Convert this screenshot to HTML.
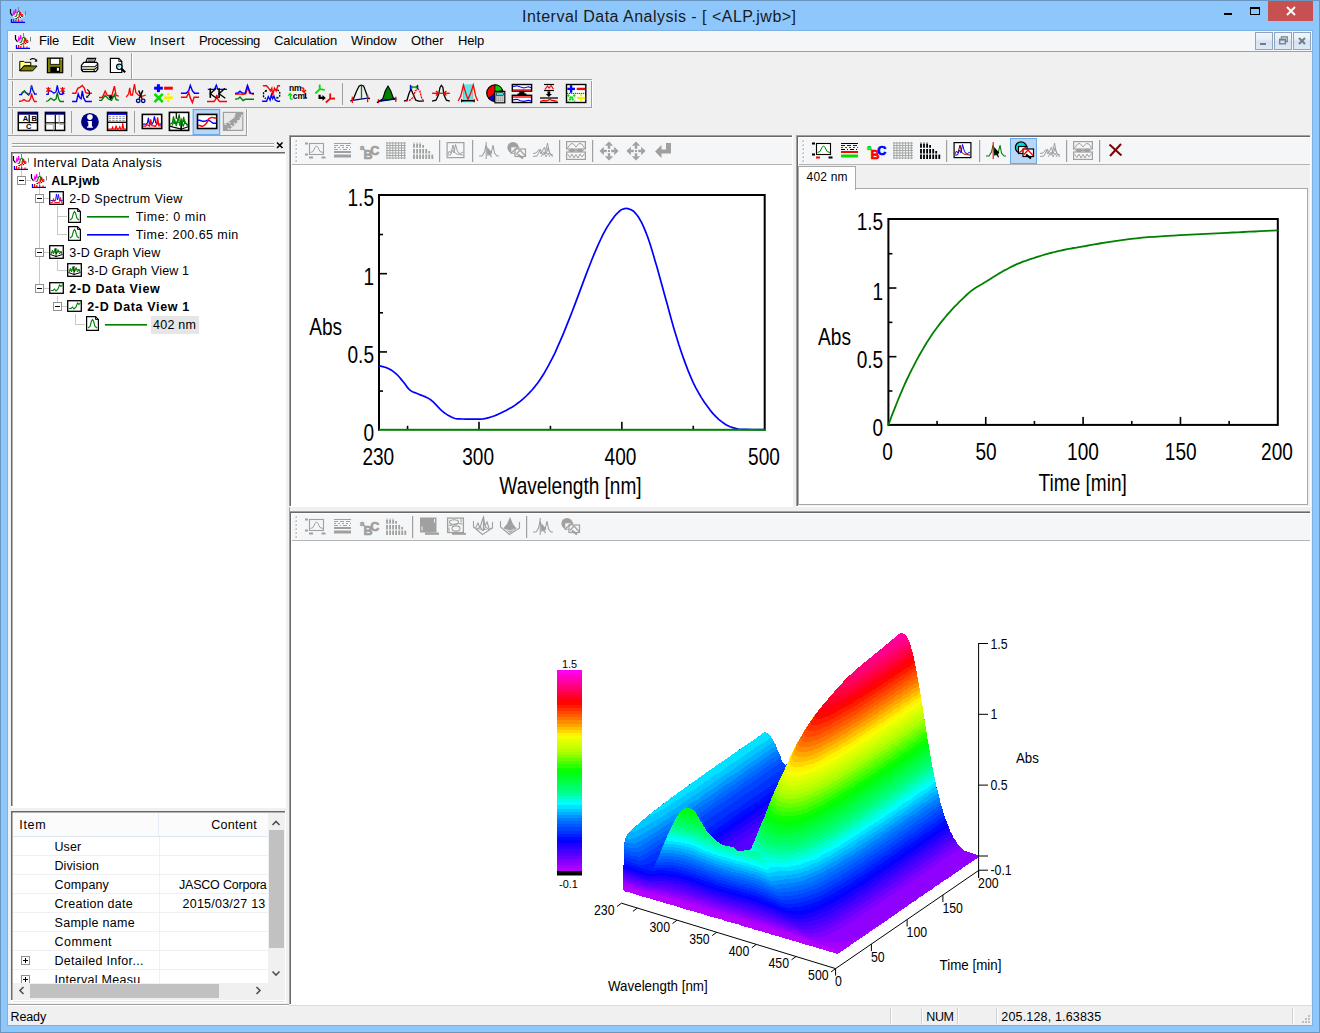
<!DOCTYPE html><html><head><meta charset="utf-8"><title>Interval Data Analysis</title><style>
*{box-sizing:border-box;margin:0;padding:0}
html,body{width:1320px;height:1033px;overflow:hidden;background:#8ec7fb;}
body{font-family:"Liberation Sans",sans-serif;font-size:12px;color:#000;position:relative}
.a{position:absolute}
.t{position:absolute;white-space:nowrap;line-height:1}
svg{position:absolute;overflow:visible}
</style></head><body>
<div class="a" style="left:0px;top:0px;width:1320px;height:1033px;background:#8ec7fb;border:1px solid #6b96bf;"></div>
<div class="a" style="left:7px;top:30px;width:1306px;height:996px;background:#7db2e3;"></div>
<div class="a" style="left:8px;top:31px;width:1304px;height:994px;background:#f0f0f0;"></div>
<div class="t" style="left:522px;top:8.5px;font-size:16px;letter-spacing:0.481px;color:#1a1a1a;">Interval Data Analysis - [ &lt;ALP.jwb&gt;]</div>
<div class="a" style="left:1268px;top:1px;width:45px;height:20px;background:#c75050;"></div>
<svg style="left:1286px;top:6px" width="10" height="10" viewBox="0 0 10 10" ><path d="M1 1 L9 9 M9 1 L1 9" stroke="#fff" stroke-width="1.9" fill="none"/></svg>
<svg style="left:1250px;top:7px" width="10" height="8" viewBox="0 0 10 8" ><rect x="0.5" y="1" width="9" height="6.5" fill="none" stroke="#000" stroke-width="1"/><rect x="0" y="0" width="10" height="2" fill="#000"/></svg>
<div class="a" style="left:1224px;top:13px;width:8px;height:2px;background:#000;"></div>
<div class="a" style="left:8px;top:31px;width:1304px;height:20px;background:#f5f6f7;"></div>
<div class="a" style="left:8px;top:51px;width:1304px;height:1px;background:#a0a0a0;"></div>
<div class="t" style="left:39px;top:34px;font-size:13px;letter-spacing:-0.237px;color:#000;">File</div>
<div class="t" style="left:72px;top:34px;font-size:13px;letter-spacing:-0.100px;color:#000;">Edit</div>
<div class="t" style="left:108px;top:34px;font-size:13px;letter-spacing:-0.110px;color:#000;">View</div>
<div class="t" style="left:150px;top:34px;font-size:13px;letter-spacing:0.415px;color:#000;">Insert</div>
<div class="t" style="left:199px;top:34px;font-size:13px;letter-spacing:-0.331px;color:#000;">Processing</div>
<div class="t" style="left:274px;top:34px;font-size:13px;letter-spacing:-0.119px;color:#000;">Calculation</div>
<div class="t" style="left:351px;top:34px;font-size:13px;letter-spacing:-0.123px;color:#000;">Window</div>
<div class="t" style="left:411px;top:34px;font-size:13px;letter-spacing:-0.002px;color:#000;">Other</div>
<div class="t" style="left:458px;top:34px;font-size:13px;letter-spacing:-0.184px;color:#000;">Help</div>
<div class="a" style="left:1255px;top:32px;width:18px;height:18px;border:1px solid #8fa3ba;background:linear-gradient(#f2f6fb 0%,#e3ecf6 45%,#d5e2f1 50%,#dfe9f5 100%);"></div>
<div class="a" style="left:1274px;top:32px;width:18px;height:18px;border:1px solid #8fa3ba;background:linear-gradient(#f2f6fb 0%,#e3ecf6 45%,#d5e2f1 50%,#dfe9f5 100%);"></div>
<div class="a" style="left:1293px;top:32px;width:18px;height:18px;border:1px solid #8fa3ba;background:linear-gradient(#f2f6fb 0%,#e3ecf6 45%,#d5e2f1 50%,#dfe9f5 100%);"></div>
<div class="a" style="left:1260px;top:43px;width:6px;height:2px;background:#6f7d8c;"></div>
<svg style="left:1279px;top:36px" width="9" height="9" viewBox="0 0 9 9" ><path d="M2.5 2.5 V0.8 H8.2 V5.5 H6.5" fill="none" stroke="#6f7d8c" stroke-width="1.3"/><rect x="0.7" y="3.2" width="5.6" height="4.6" fill="none" stroke="#6f7d8c" stroke-width="1.3"/><rect x="0.7" y="3" width="5.6" height="1.6" fill="#6f7d8c"/></svg>
<svg style="left:1298px;top:37px" width="8" height="8" viewBox="0 0 8 8" ><path d="M1 1 L7 7 M7 1 L1 7" stroke="#6f7d8c" stroke-width="2" fill="none"/></svg>
<svg style="left:0px;top:0px" width="1320" height="1033" viewBox="0 0 1320 1033" ><rect x="8" y="79" width="584" height="1" fill="#a0a0a0"/><rect x="8" y="107" width="584" height="1" fill="#a0a0a0"/><rect x="8" y="135" width="239" height="1" fill="#a0a0a0"/><rect x="12" y="53" width="1" height="25" fill="#a0a0a0"/><rect x="13" y="53" width="1" height="25" fill="#fff"/><rect x="131" y="53" width="1" height="26" fill="#a0a0a0"/><rect x="132" y="53" width="1" height="26" fill="#fff"/><rect x="12" y="81" width="1" height="25" fill="#a0a0a0"/><rect x="13" y="81" width="1" height="25" fill="#fff"/><rect x="591" y="81" width="1" height="26" fill="#a0a0a0"/><rect x="592" y="81" width="1" height="26" fill="#fff"/><rect x="12" y="109" width="1" height="25" fill="#a0a0a0"/><rect x="13" y="109" width="1" height="25" fill="#fff"/><rect x="246" y="109" width="1" height="26" fill="#a0a0a0"/><rect x="247" y="109" width="1" height="26" fill="#fff"/><polygon points="19.8,61.4 23.8,61.4 24.7,62.3 30.8,62.3 30.8,65.8 23.8,65.8 19.8,70.7" fill="#ffff80" stroke="#000" stroke-width="1" /><polygon points="19.8,70.9 24.0,66.0 37.1,66.0 32.6,70.9" fill="#808000" stroke="#000" stroke-width="1" /><polyline points="29.9,59.7 32.1,58.5 34.6,58.7 36.4,60.7" fill="none" stroke="#000" stroke-width="1.1" /><polygon points="37.1,58.9 37.1,61.7 34.4,61.4" fill="#000" /><rect x="47.4" y="58.1" width="15.3" height="14.6" fill="#808000" stroke="#000" stroke-width="1.2" /><rect x="50.3" y="58.5" width="9.4" height="5.8" fill="#fff" stroke="#000" stroke-width="0.8" /><rect x="50.3" y="66.8" width="9.7" height="5.4" fill="#000" /><rect x="56.9" y="67.8" width="2.0" height="3.0" fill="#fff" /><rect x="60.7" y="58.9" width="1.0" height="1.0" fill="#fff" /><rect x="71" y="55" width="1" height="22" fill="#a0a0a0"/><polygon points="85.8,62.3 87.3,58.4 95.7,58.4 94.2,62.3" fill="#fff" stroke="#000" stroke-width="1.1" /><polyline points="88.0,59.9 94.2,59.9" fill="none" stroke="#000" stroke-width="0.8" /><polyline points="87.4,61.2 93.5,61.2" fill="none" stroke="#000" stroke-width="0.8" /><polygon points="81.4,65.3 83.8,62.3 96.6,62.3 97.8,63.8 97.8,69.2 95.7,71.7 82.8,71.7 81.4,69.7" fill="#fff" stroke="#000" stroke-width="1.2" /><polyline points="81.7,66.8 94.7,66.8 97.6,64.3" fill="none" stroke="#000" stroke-width="1.1" /><polyline points="81.7,69.2 94.7,69.2 97.6,66.8" fill="none" stroke="#000" stroke-width="1.1" /><polyline points="88.8,68.1 92.2,68.1" fill="none" stroke="#e0e000" stroke-width="1.4" /><rect x="82.1" y="69.7" width="12.6" height="1.8" fill="#000" /><rect x="83.0" y="70.0" width="10.6" height="0.9" fill="#fff" /><polygon points="110.4,58.4 118.8,58.4 121.8,61.4 121.8,72.5 110.4,72.5" fill="#fff" stroke="#000" stroke-width="1.2" /><polyline points="118.8,58.4 118.8,61.4 121.8,61.4" fill="none" stroke="#000" stroke-width="0.9" /><circle cx="119.3" cy="66.8" r="2.7" fill="#dff" stroke="#000" stroke-width="1.2"/><circle cx="118.8" cy="66.3" r="1.0" fill="#00e0e0"/><polyline points="121.5,68.9 125.2,72.2" fill="none" stroke="#000" stroke-width="2.2" /><polyline points="19.0,94.6 21.5,94.6 22.3,92.9 24.4,91.2 26.5,93.3 28.6,95.0 30.2,92.5 31.5,85.4 32.8,90.0 34.8,94.2 36.9,93.8" fill="none" stroke="#0000ff" stroke-width="1.3" /><polyline points="21.1,93.8 22.3,92.5 24.4,90.8 25.7,92.5" fill="none" stroke="#008000" stroke-width="1.3" /><polyline points="26.5,92.5 27.8,93.8 29.0,94.2" fill="none" stroke="#008000" stroke-width="1.3" /><polyline points="31.5,85.4 31.5,88.3" fill="none" stroke="#008000" stroke-width="1.3" /><polyline points="32.8,90.0 34.0,92.5" fill="none" stroke="#008000" stroke-width="1.3" /><polyline points="19.0,101.5 21.9,100.8 24.0,99.6 26.5,101.2 29.0,101.2 30.7,98.3 31.5,93.3 32.8,98.3 34.4,101.5 36.9,101.5" fill="none" stroke="#ff0000" stroke-width="1.3" /><polyline points="46.1,94.3 48.2,94.3 48.6,90.8 50.7,90.8 54.0,93.3 56.1,91.7 57.3,85.4 58.6,91.7 60.2,94.3 62.3,94.3 62.8,90.8 64.0,94.3" fill="none" stroke="#0000ff" stroke-width="1.3" /><polyline points="46.1,101.5 48.2,100.8 50.7,98.3 54.0,100.4 56.1,98.8 57.3,92.5 58.6,98.8 60.2,101.5 64.0,101.5" fill="none" stroke="#008000" stroke-width="1.3" /><polyline points="48.4,87.1 48.4,92.5" fill="none" stroke="#ff0000" stroke-width="1.2" /><polyline points="46.3,87.9 50.5,91.7" fill="none" stroke="#ff0000" stroke-width="1.2" /><polyline points="50.5,87.9 46.3,91.7" fill="none" stroke="#ff0000" stroke-width="1.2" /><polyline points="62.6,87.1 62.6,92.5" fill="none" stroke="#ff0000" stroke-width="1.2" /><polyline points="60.5,87.9 64.7,91.7" fill="none" stroke="#ff0000" stroke-width="1.2" /><polyline points="64.7,87.9 60.5,91.7" fill="none" stroke="#ff0000" stroke-width="1.2" /><polyline points="72.1,93.3 75.7,93.3 77.8,88.3 80.2,87.1 82.3,85.4 84.4,88.3 85.7,92.5 87.3,93.3 91.9,93.3" fill="none" stroke="#ff0000" stroke-width="1.4" /><polyline points="72.1,101.5 76.5,101.5 78.2,93.8 79.8,97.9 81.1,98.8 82.3,90.8 83.6,97.9 85.7,101.5 91.9,101.5" fill="none" stroke="#0000ff" stroke-width="1.4" /><polyline points="87.2,89.3 89.4,91.7 89.4,94.6 87.3,96.7" fill="none" stroke="#000" stroke-width="1.1" /><polygon points="86.1,97.9 86.5,95.4 88.8,97.3" fill="#000" /><polyline points="99.0,97.5 102.3,97.5 105.2,91.2 107.3,95.4 111.9,95.4 114.4,86.2 116.1,95.4 118.8,96.2" fill="none" stroke="#ff0000" stroke-width="1.4" /><polyline points="99.0,100.4 101.5,100.4 105.2,95.4 108.2,98.8 111.5,100.4 114.4,94.6 116.1,99.6 118.8,100.4" fill="none" stroke="#008000" stroke-width="1.4" /><polygon points="108.2,96.2 113.2,96.2 110.7,100.0" fill="#000" /><polyline points="110.7,95.4 110.7,97.1" fill="none" stroke="#000" stroke-width="1.6" /><polyline points="126.2,97.1 128.7,93.8 129.7,87.9 130.8,95.0 132.4,95.0 134.5,84.2 135.8,92.5 138.7,95.4 142.8,96.2 145.8,95.0" fill="none" stroke="#ff0000" stroke-width="1.3" /><polyline points="138.7,90.4 142.0,98.8" fill="none" stroke="#000" stroke-width="1.5" /><polyline points="142.8,90.4 139.1,98.8" fill="none" stroke="#000" stroke-width="1.5" /><ellipse cx="138.2" cy="100.8" rx="1.8" ry="1.7" fill="none" stroke="#000080" stroke-width="1.3"/><ellipse cx="143.2" cy="100.8" rx="1.8" ry="1.7" fill="none" stroke="#000080" stroke-width="1.3"/><polyline points="154.1,88.2 162.8,88.2" fill="none" stroke="#0000ff" stroke-width="3" /><polyline points="158.4,84.2 158.4,92.1" fill="none" stroke="#0000ff" stroke-width="3" /><polyline points="164.1,88.2 172.8,88.2" fill="none" stroke="#ff0000" stroke-width="3" /><polyline points="154.5,93.8 162.8,102.1" fill="none" stroke="#00e000" stroke-width="2.6" /><polyline points="162.8,93.8 154.5,102.1" fill="none" stroke="#00e000" stroke-width="2.6" /><polyline points="164.1,97.7 172.8,97.7" fill="none" stroke="#f0f000" stroke-width="2.6" /><circle cx="168.4" cy="94.3" r="1.2" fill="#f0f000"/><circle cx="168.4" cy="100.8" r="1.2" fill="#f0f000"/><polyline points="180.9,93.3 186.2,93.3 188.7,90.8 190.3,85.4 192.4,90.8 194.5,93.3 199.1,93.3" fill="none" stroke="#0000ff" stroke-width="1.4" /><polyline points="180.9,97.3 186.6,97.3 188.7,92.5 190.3,97.9 192.4,102.5 194.1,97.3 199.1,97.3" fill="none" stroke="#ff0000" stroke-width="1.4" /><polyline points="207.8,89.3 214.5,89.3 216.3,85.0 217.8,89.3 227.0,89.3" fill="none" stroke="#0000ff" stroke-width="1.3" /><polyline points="207.0,101.5 214.1,101.5 215.8,99.2 216.8,95.0 217.8,99.2 219.5,101.5 227.0,101.5" fill="none" stroke="#ff0000" stroke-width="1.4" /><polyline points="210.3,88.3 210.3,97.9" fill="none" stroke="#000" stroke-width="1.6" /><polyline points="216.2,88.3 210.3,93.8 216.6,98.3" fill="none" stroke="#000" stroke-width="1.4" /><polyline points="219.1,88.3 219.1,97.9" fill="none" stroke="#000" stroke-width="1.6" /><polyline points="224.9,88.3 219.1,93.8 225.3,98.3" fill="none" stroke="#000" stroke-width="1.4" /><polyline points="235.2,94.4 239.6,93.9 242.2,94.4 245.7,93.9 247.9,87.0 249.6,93.1 254.0,94.4" fill="none" stroke="#ff0000" stroke-width="1.4" /><polyline points="235.2,93.2 237.8,93.1 240.0,91.2 242.2,93.1 245.2,93.1 247.4,85.4 248.7,88.7 250.5,93.1 254.0,93.5" fill="none" stroke="#0000ff" stroke-width="1.4" /><polyline points="235.2,99.3 238.3,98.7 240.0,97.0 243.1,100.5 245.2,99.3 254.0,99.3" fill="none" stroke="#008000" stroke-width="1.4" /><polyline points="262.9,85.7 266.6,85.7 268.8,88.3 270.5,90.9 271.8,88.3 272.7,95.2 274.4,88.3 276.2,90.9 277.9,85.7 280.1,85.7" fill="none" stroke="#ff0000" stroke-width="1.4" /><polyline points="262.1,101.3 266.6,101.3 268.3,96.6 270.1,100.0 271.4,94.8 272.7,98.7 274.0,96.1 275.3,100.0 277.5,101.3 280.1,101.3" fill="none" stroke="#0000ff" stroke-width="1.4" /><polyline points="266.2,90.5 263.5,93.1 263.5,96.6 265.7,98.7" fill="none" stroke="#000" stroke-width="1.3" stroke-dasharray="2 1"/><polygon points="264.8,90.3 267.0,89.8 266.6,92.0" fill="#000" /><polyline points="277.5,89.6 279.8,92.6 279.7,96.1 277.5,97.9" fill="none" stroke="#000" stroke-width="1.3" stroke-dasharray="2 1"/><polygon points="276.2,98.7 276.6,96.6 278.6,98.3" fill="#000" /><text x="288.9" y="90.5" font-size="8.5" fill="#000" font-weight="bold" font-family="Liberation Sans" >nm</text><text x="292.7" y="99.2" font-size="8.5" fill="#000" font-weight="bold" font-family="Liberation Sans" >cm</text><polyline points="305.6,93.1 305.6,97.9" fill="none" stroke="#000" stroke-width="1.2" /><polyline points="304.5,94.4 305.6,93.1" fill="none" stroke="#000" stroke-width="1.2" /><polyline points="304.5,98.0 307.1,98.0" fill="none" stroke="#000" stroke-width="1.2" /><polyline points="301.0,87.7 303.6,88.3 304.1,91.8" fill="none" stroke="#ff0000" stroke-width="1.3" /><polyline points="301.9,90.3 304.1,92.4 305.8,90.0" fill="none" stroke="#ff0000" stroke-width="1.3" /><polyline points="292.7,99.3 290.5,98.7 290.1,93.9" fill="none" stroke="#00e000" stroke-width="1.3" /><polyline points="288.2,95.7 290.1,93.5 292.0,95.7" fill="none" stroke="#00e000" stroke-width="1.3" /><polyline points="319.7,84.4 319.7,89.1 315.4,93.5" fill="none" stroke="#00e000" stroke-width="1.8" /><polyline points="319.7,89.1 324.8,89.8" fill="none" stroke="#00e000" stroke-width="1.8" /><polyline points="330.2,93.5 330.2,98.7 325.8,102.5" fill="none" stroke="#ff0000" stroke-width="1.8" /><polyline points="330.2,98.7 335.0,98.5" fill="none" stroke="#ff0000" stroke-width="1.8" /><polyline points="319.6,94.8 319.6,97.9 323.7,97.9" fill="none" stroke="#000" stroke-width="2.2" /><polygon points="322.5,95.0 325.8,97.9 322.5,100.7" fill="#000" /><rect x="342" y="83" width="1" height="22" fill="#a0a0a0"/><polyline points="350.3,101.2 353.3,99.2 356.7,90.8 359.2,85.9 361.2,85.1 363.6,85.9 366.1,92.8 368.1,98.2 370.0,98.5" fill="none" stroke="#000" stroke-width="1.3" /><polyline points="361.5,85.4 361.5,98.7" fill="none" stroke="#008000" stroke-width="1.3" /><polyline points="352.3,100.4 367.6,98.2" fill="none" stroke="#000080" stroke-width="1.3" /><polyline points="352.3,96.7 352.3,103.1" fill="none" stroke="#ff0000" stroke-width="1.3" /><polyline points="367.6,94.8 367.6,102.2" fill="none" stroke="#ff0000" stroke-width="1.3" /><polygon points="379.4,100.9 382.8,98.7 385.3,90.8 388.0,86.1 390.7,90.8 393.2,97.7 395.6,98.9" fill="#008000" stroke="#000" stroke-width="1.1" /><polyline points="378.9,101.2 395.6,98.9" fill="none" stroke="#000080" stroke-width="1.4" /><polyline points="378.4,99.2 378.4,103.1" fill="none" stroke="#ff0000" stroke-width="1.3" /><polyline points="395.8,96.7 395.8,101.9" fill="none" stroke="#ff0000" stroke-width="1.3" /><polyline points="376.9,102.7 378.9,101.2" fill="none" stroke="#000" stroke-width="1.2" /><polyline points="404.0,101.2 407.0,100.2 408.9,93.8 410.9,88.9 413.4,94.8 415.8,100.2 418.8,101.2 423.7,101.2" fill="none" stroke="#000" stroke-width="1.3" /><polyline points="406.0,101.2 409.9,100.2 413.4,97.2 415.3,90.8 417.8,88.9 419.8,90.8 421.7,98.2 423.7,100.9" fill="none" stroke="#ff0000" stroke-width="1.3" stroke-dasharray="2.2 0.8"/><polyline points="410.5,84.9 410.5,89.1" fill="none" stroke="#0000ff" stroke-width="1.4" /><polyline points="417.6,84.9 417.6,89.1" fill="none" stroke="#0000ff" stroke-width="1.4" /><polyline points="411.1,87.1 417.0,87.1" fill="none" stroke="#008000" stroke-width="1.3" /><polyline points="412.4,85.9 411.1,87.1 412.4,88.3" fill="none" stroke="#008000" stroke-width="1.1" /><polyline points="415.8,85.9 417.0,87.1 415.8,88.3" fill="none" stroke="#008000" stroke-width="1.1" /><polyline points="432.1,101.2 436.0,100.2 438.5,94.8 440.0,87.4 441.4,85.4 442.9,87.4 443.9,94.8 446.4,100.2 449.8,101.2" fill="none" stroke="#000" stroke-width="1.3" /><polyline points="439.0,93.3 443.4,93.3" fill="none" stroke="#008000" stroke-width="1.3" /><polyline points="432.1,93.3 438.5,93.3" fill="none" stroke="#ff0000" stroke-width="1.4" /><polyline points="436.0,91.0 438.5,93.3 436.0,95.6" fill="none" stroke="#ff0000" stroke-width="1.4" /><polyline points="443.9,93.3 449.8,93.3" fill="none" stroke="#ff0000" stroke-width="1.4" /><polyline points="446.4,91.0 443.9,93.3 446.4,95.6" fill="none" stroke="#ff0000" stroke-width="1.4" /><rect x="463.4" y="84.3" width="9.3" height="18.2" fill="#60e8e8" /><polyline points="463.4,84.5 463.4,102.2" fill="none" stroke="#b0b0b0" stroke-width="1.2" /><polyline points="472.7,84.5 472.7,102.2" fill="none" stroke="#b0b0b0" stroke-width="1.2" /><polyline points="458.2,101.0 460.8,95.9 463.4,85.1 465.9,93.6 468.0,99.3 470.5,93.6 473.3,85.1 475.6,95.9 477.8,101.0" fill="none" stroke="#ff0000" stroke-width="1.3" /><polyline points="461.4,100.7 474.4,100.7" fill="none" stroke="#000" stroke-width="1.4" /><polygon points="461.1,98.8 461.1,102.7 463.4,100.7" fill="#000" /><polygon points="474.7,98.8 474.7,102.7 472.5,100.7" fill="#000" /><circle cx="494.9" cy="93.1" r="8.2" fill="#ff0000" stroke="#000" stroke-width="1.2"/><path d="M494.9 93.1 L494.9 84.9 A8.2 8.2 0 0 1 502.5 90.2 Z" fill="#00d000" stroke="#000" stroke-width="0.8"/><path d="M494.9 93.1 L488.6 98.2 A8.2 8.2 0 0 0 495.5 101.2 Z" fill="#0000d0" stroke="#000" stroke-width="0.8"/><rect x="494.9" y="91.4" width="9.9" height="11.4" fill="#fff" stroke="#000" stroke-width="1.2" /><rect x="496.4" y="92.7" width="7.0" height="2.6" fill="#40e0e0" stroke="#000" stroke-width="0.6" /><polyline points="496.4,97.0 503.6,97.0" fill="none" stroke="#000" stroke-width="1" stroke-dasharray="1 1"/><polyline points="496.4,99.0 503.6,99.0" fill="none" stroke="#000" stroke-width="1" stroke-dasharray="1 1"/><polyline points="496.4,100.9 503.6,100.9" fill="none" stroke="#000" stroke-width="1" stroke-dasharray="1 1"/><rect x="512.3" y="84.5" width="19.3" height="6.6" fill="#fff" stroke="#000" stroke-width="1.4" /><rect x="512.3" y="95.3" width="19.3" height="7.2" fill="#fff" stroke="#000" stroke-width="1.4" /><rect x="519.3" y="91.1" width="5.1" height="4.2" fill="#000" /><rect x="517.6" y="93.4" width="8.8" height="1.9" fill="#000" /><polyline points="512.8,86.6 517.0,85.7 520.5,87.0 523.9,88.0 528.4,86.8 531.2,87.7" fill="none" stroke="#0000ff" stroke-width="1.1" /><polyline points="512.8,90.0 531.2,90.0" fill="none" stroke="#ff0000" stroke-width="1.4" /><polyline points="512.8,97.0 531.2,97.0" fill="none" stroke="#ff0000" stroke-width="1.4" /><polyline points="512.8,99.9 517.0,99.3 520.5,100.7 523.9,101.4 528.4,100.2 531.2,101.0" fill="none" stroke="#0000ff" stroke-width="1.1" /><polyline points="544.1,84.5 554.0,84.5" fill="none" stroke="#000" stroke-width="1.2" /><polyline points="544.1,90.5 554.0,90.5" fill="none" stroke="#000" stroke-width="1.2" /><polyline points="544.9,89.3 547.5,86.2 549.1,88.2 551.1,85.5 553.4,89.1" fill="none" stroke="#ff0000" stroke-width="1.1" /><rect x="547.5" y="91.4" width="2.7" height="2.8" fill="#000" /><polygon points="545.7,93.9 552.0,93.9 548.9,97.0" fill="#000" /><polyline points="540.0,98.0 558.0,98.0" fill="none" stroke="#000" stroke-width="1.3" /><polyline points="540.0,102.5 558.0,102.5" fill="none" stroke="#000" stroke-width="1.3" /><polyline points="540.3,101.4 543.8,100.5 546.6,101.0 549.4,99.5 552.8,100.5 557.4,101.4" fill="none" stroke="#ff0000" stroke-width="1.3" /><rect x="566.5" y="84.5" width="19.3" height="18.0" fill="#fff" stroke="#000" stroke-width="1.4" /><polyline points="566.8,93.4 585.5,93.4" fill="none" stroke="#000" stroke-width="1" stroke-dasharray="1 1"/><polyline points="567.3,88.9 575.0,88.9" fill="none" stroke="#0000ff" stroke-width="2.4" /><polyline points="571.1,85.1 571.1,92.7" fill="none" stroke="#0000ff" stroke-width="2.4" /><polyline points="576.7,88.9 585.2,88.9" fill="none" stroke="#ff0000" stroke-width="2.4" /><polyline points="567.6,94.8 575.0,101.6" fill="none" stroke="#00e000" stroke-width="2" stroke-dasharray="2 1"/><polyline points="575.0,94.8 567.6,101.6" fill="none" stroke="#00e000" stroke-width="2" stroke-dasharray="2 1"/><polyline points="577.0,98.0 585.2,98.0" fill="none" stroke="#f0f000" stroke-width="2.4" /><polyline points="580.9,94.2 580.9,101.6" fill="none" stroke="#f0f000" stroke-width="2" stroke-dasharray="2 3"/><rect x="18.3" y="112.4" width="19.2" height="18.0" fill="#fff" stroke="#000" stroke-width="1.5" /><rect x="18.3" y="112.4" width="19.2" height="2.3" fill="#000080" /><polyline points="18.3,122.6 37.5,122.6" fill="none" stroke="#000" stroke-width="1.3" /><polyline points="29.2,114.7 29.2,122.6" fill="none" stroke="#000" stroke-width="1.3" /><text x="22.8" y="120.8" font-size="7.5" fill="#000" font-weight="bold" font-family="Liberation Sans" >A</text><text x="31.6" y="120.8" font-size="7.5" fill="#000" font-weight="bold" font-family="Liberation Sans" >B</text><text x="25.9" y="128.7" font-size="7.5" fill="#000" font-weight="bold" font-family="Liberation Sans" >C</text><rect x="45.4" y="112.4" width="19.2" height="18.0" fill="#fff" stroke="#000" stroke-width="1.5" /><rect x="45.4" y="112.4" width="19.2" height="2.3" fill="#000080" /><polyline points="45.4,122.8 64.6,122.8" fill="none" stroke="#000" stroke-width="1.2" /><polyline points="55.3,114.7 55.3,130.5" fill="none" stroke="#000" stroke-width="1.2" /><polyline points="59.2,114.7 59.2,124.2 64.6,124.2" fill="none" stroke="#a0a0a0" stroke-width="1" /><polyline points="45.4,124.2 53.3,124.2 53.3,130.5" fill="none" stroke="#a0a0a0" stroke-width="1" /><rect x="71" y="111" width="1" height="22" fill="#a0a0a0"/><circle cx="89.9" cy="121.8" r="8.9" fill="#000080"/><circle cx="89.9" cy="117.1" r="2.8" fill="#fff"/><polygon points="87.6,121.0 91.9,121.0 91.9,126.5 92.9,126.5 92.9,127.7 87.0,127.7 87.0,126.5 88.3,126.5 88.3,122.3 87.6,122.3" fill="#fff" /><rect x="107.5" y="112.4" width="19.2" height="18.0" fill="#fff" stroke="#000" stroke-width="1.5" /><rect x="107.9" y="112.8" width="18.4" height="2.1" fill="#0000ff" /><polyline points="108.9,116.7 125.2,116.7" fill="none" stroke="#909090" stroke-width="1" stroke-dasharray="2.2 1.2"/><polyline points="108.9,118.5 125.2,118.5" fill="none" stroke="#909090" stroke-width="1" stroke-dasharray="2.2 1.2"/><polyline points="108.9,120.4 125.2,120.4" fill="none" stroke="#909090" stroke-width="1" stroke-dasharray="2.2 1.2"/><polyline points="107.5,122.3 126.7,122.3" fill="none" stroke="#000" stroke-width="1.3" /><polyline points="108.0,129.2 111.9,129.2 112.6,127.2 113.4,129.2 115.3,129.2 116.1,125.7 117.1,129.2 118.8,128.7 119.8,126.7 120.8,129.2 122.0,129.2 122.7,123.3 123.7,129.2 126.2,129.2" fill="none" stroke="#ff0000" stroke-width="1.2" /><rect x="134" y="111" width="1" height="22" fill="#a0a0a0"/><rect x="142.3" y="114.4" width="19.4" height="14.1" fill="#fff" stroke="#000" stroke-width="1.6" /><polyline points="142.8,124.2 146.2,124.2 147.5,122.8 148.4,117.8 149.4,123.8 152.2,123.8 153.4,121.8 154.4,116.4 155.8,122.8 158.6,124.2 161.3,124.2" fill="none" stroke="#0000ff" stroke-width="1.2" /><polyline points="142.8,126.2 145.8,126.2 146.7,124.7 148.2,125.2 149.7,126.2 150.7,119.3 151.9,125.7 155.6,126.2 156.8,123.8 157.6,117.4 158.8,125.7 161.3,126.2" fill="none" stroke="#ff0000" stroke-width="1.3" /><rect x="169.4" y="112.4" width="19.3" height="18.0" fill="#fff" stroke="#000" stroke-width="1.6" /><polyline points="176.3,112.4 176.3,118.8" fill="none" stroke="#000" stroke-width="1.2" /><polyline points="181.2,120.8 181.2,130.5" fill="none" stroke="#000" stroke-width="1.6" /><polyline points="169.9,126.2 173.3,127.2 181.2,129.2 188.1,126.7" fill="none" stroke="#000" stroke-width="1.2" /><polyline points="169.9,124.2 172.3,122.8 173.5,116.4 174.5,122.8 176.3,124.7 177.8,119.8 179.2,114.4 180.4,121.8 182.2,124.7 183.7,116.9 184.7,122.8 188.1,124.7" fill="none" stroke="#008000" stroke-width="1.2" /><polyline points="171.9,125.7 174.8,119.8 176.3,126.2 178.3,117.4 179.7,125.7 181.7,119.3 183.2,126.2 185.2,121.8 187.6,126.2" fill="none" stroke="#008000" stroke-width="1.1" /><polyline points="173.3,123.8 177.3,121.8 181.2,123.8 185.2,119.8" fill="none" stroke="#008000" stroke-width="1" /><rect x="193.2" y="109.5" width="26.4" height="25.1" fill="#b9d6f7" stroke="#6aa8ea" stroke-width="1.2" /><rect x="197.5" y="114.4" width="19.2" height="14.1" fill="#fff" stroke="#000" stroke-width="1.6" /><polyline points="198.0,120.3 199.9,120.3 202.4,121.3 204.8,121.3 207.3,120.3 209.8,120.8 213.2,123.3 216.5,123.3" fill="none" stroke="#0000ff" stroke-width="1.4" /><polyline points="198.0,125.5 199.9,125.5 201.9,126.5 204.4,125.5 206.8,122.8 208.8,118.8 211.2,117.4 213.7,117.8 216.5,118.3" fill="none" stroke="#ff0000" stroke-width="1.4" /><rect x="223.4" y="112.4" width="19.4" height="18.0" fill="#e8e8e8" stroke="#a0a0a0" stroke-width="1.2" /><polygon points="223.4,130.5 223.4,123.8 227.5,122.8 231.4,119.8 234.4,117.4 235.9,112.4 242.8,112.4 242.8,114.9 240.3,118.8 235.9,123.8 232.4,126.7 228.5,130.5" fill="#a0a0a0" /><rect x="227.7" y="127.9" width="1.6" height="1.6" fill="#e8e8e8" /><rect x="230.7" y="125.1" width="1.6" height="1.6" fill="#e8e8e8" /><rect x="233.8" y="122.8" width="1.6" height="1.6" fill="#e8e8e8" /><rect x="237.1" y="120.0" width="1.6" height="1.6" fill="#e8e8e8" /><rect x="239.7" y="117.1" width="1.6" height="1.6" fill="#e8e8e8" /><rect x="241.0" y="114.9" width="1.6" height="1.6" fill="#e8e8e8" /><rect x="224.7" y="123.5" width="1.6" height="1.6" fill="#e8e8e8" /><rect x="228.7" y="122.0" width="1.6" height="1.6" fill="#e8e8e8" /></svg>
<svg style="left:0px;top:0px" width="1320" height="1033" viewBox="0 0 1320 1033" ><polyline points="10.5,9.0 10.5,13.0 12.5,16.0" fill="none" stroke="#000" stroke-width="1.2" /><polyline points="18.5,7.0 18.5,10.5" fill="none" stroke="#808080" stroke-width="1" /><polyline points="25.5,11.0 25.5,15.5" fill="none" stroke="#808080" stroke-width="1" /><polygon points="12.5,16.0 15.0,12.0 20.0,11.0 24.0,14.5 25.0,16.0 19.0,19.5 15.0,18.5" fill="#fff" /><polyline points="13.0,15.5 13.8,12.0 14.6,14.5 15.6,9.0 16.2,13.0" fill="none" stroke="#ff00ff" stroke-width="1.2" /><polyline points="14.5,16.5 16.5,16.0 17.5,12.0 19.0,11.0 20.0,13.5 18.5,15.5" fill="none" stroke="#008000" stroke-width="1.1" /><polyline points="17.0,18.0 19.5,16.5 20.5,12.0 21.5,16.0 23.0,14.0" fill="none" stroke="#ff0000" stroke-width="1.2" /><polyline points="15.5,18.5 18.5,19.0 22.0,16.5 24.5,15.5" fill="none" stroke="#000" stroke-width="1" stroke-dasharray="1.5 1"/><polyline points="11.5,19.0 11.5,22.3 25.0,22.3" fill="none" stroke="#0000ff" stroke-width="1.3" /><polyline points="13.6,22.0 13.6,19.0" fill="none" stroke="#ff0000" stroke-width="1.2" /><polyline points="15.8,22.0 15.8,20.0" fill="none" stroke="#ff0000" stroke-width="1.2" /><polyline points="18.7,22.0 18.7,20.0" fill="none" stroke="#ff0000" stroke-width="1.2" /><polyline points="22.0,22.0 22.0,20.4" fill="none" stroke="#ff0000" stroke-width="1.2" /><polyline points="15.5,35.0 15.5,39.0 17.5,42.0" fill="none" stroke="#000" stroke-width="1.2" /><polyline points="23.5,33.0 23.5,36.5" fill="none" stroke="#808080" stroke-width="1" /><polyline points="30.5,37.0 30.5,41.5" fill="none" stroke="#808080" stroke-width="1" /><polygon points="17.5,42.0 20.0,38.0 25.0,37.0 29.0,40.5 30.0,42.0 24.0,45.5 20.0,44.5" fill="#fff" /><polyline points="18.0,41.5 18.8,38.0 19.6,40.5 20.6,35.0 21.2,39.0" fill="none" stroke="#ff00ff" stroke-width="1.2" /><polyline points="19.5,42.5 21.5,42.0 22.5,38.0 24.0,37.0 25.0,39.5 23.5,41.5" fill="none" stroke="#008000" stroke-width="1.1" /><polyline points="22.0,44.0 24.5,42.5 25.5,38.0 26.5,42.0 28.0,40.0" fill="none" stroke="#ff0000" stroke-width="1.2" /><polyline points="20.5,44.5 23.5,45.0 27.0,42.5 29.5,41.5" fill="none" stroke="#000" stroke-width="1" stroke-dasharray="1.5 1"/><polyline points="16.5,45.0 16.5,48.3 30.0,48.3" fill="none" stroke="#0000ff" stroke-width="1.3" /><polyline points="18.6,48.0 18.6,45.0" fill="none" stroke="#ff0000" stroke-width="1.2" /><polyline points="20.8,48.0 20.8,46.0" fill="none" stroke="#ff0000" stroke-width="1.2" /><polyline points="23.7,48.0 23.7,46.0" fill="none" stroke="#ff0000" stroke-width="1.2" /><polyline points="27.0,48.0 27.0,46.4" fill="none" stroke="#ff0000" stroke-width="1.2" /><rect x="12" y="143" width="262" height="1" fill="#a0a0a0"/><rect x="12" y="144" width="262" height="1" fill="#fff"/><rect x="12" y="146" width="262" height="1" fill="#a0a0a0"/><rect x="12" y="147" width="262" height="1" fill="#fff"/><path d="M277 142.5 L282.5 148 M282.5 142.5 L277 148" stroke="#000" stroke-width="1.6" fill="none"/><rect x="11" y="152" width="275" height="656" fill="#fff"/><rect x="11" y="152" width="274" height="1.5" fill="#696969"/><rect x="11" y="152" width="1.5" height="654" fill="#696969"/><rect x="285" y="152" width="1" height="656" fill="#fff"/><rect x="289" y="136" width="1" height="868" fill="#a0a0a0"/><rect x="21" y="170" width="1" height="6" fill="#c8c8c8"/><rect x="26" y="180" width="5" height="1" fill="#c8c8c8"/><rect x="39" y="188" width="1" height="96" fill="#c8c8c8"/><rect x="44" y="198" width="5" height="1" fill="#c8c8c8"/><rect x="44" y="252" width="5" height="1" fill="#c8c8c8"/><rect x="44" y="288" width="5" height="1" fill="#c8c8c8"/><rect x="57" y="206" width="1" height="29" fill="#c8c8c8"/><rect x="57" y="216" width="10" height="1" fill="#c8c8c8"/><rect x="57" y="234" width="10" height="1" fill="#c8c8c8"/><rect x="57" y="260" width="1" height="11" fill="#c8c8c8"/><rect x="57" y="270" width="10" height="1" fill="#c8c8c8"/><rect x="57" y="296" width="1" height="6" fill="#c8c8c8"/><rect x="62" y="306" width="5" height="1" fill="#c8c8c8"/><rect x="75" y="314" width="1" height="11" fill="#c8c8c8"/><rect x="75" y="324" width="10" height="1" fill="#c8c8c8"/><polyline points="13.5,156.0 13.5,160.0 15.5,163.0" fill="none" stroke="#000" stroke-width="1.2" /><polyline points="21.5,154.0 21.5,157.5" fill="none" stroke="#808080" stroke-width="1" /><polyline points="28.5,158.0 28.5,162.5" fill="none" stroke="#808080" stroke-width="1" /><polygon points="15.5,163.0 18.0,159.0 23.0,158.0 27.0,161.5 28.0,163.0 22.0,166.5 18.0,165.5" fill="#fff" /><polyline points="16.0,162.5 16.8,159.0 17.6,161.5 18.6,156.0 19.2,160.0" fill="none" stroke="#ff00ff" stroke-width="1.2" /><polyline points="17.5,163.5 19.5,163.0 20.5,159.0 22.0,158.0 23.0,160.5 21.5,162.5" fill="none" stroke="#008000" stroke-width="1.1" /><polyline points="20.0,165.0 22.5,163.5 23.5,159.0 24.5,163.0 26.0,161.0" fill="none" stroke="#ff0000" stroke-width="1.2" /><polyline points="18.5,165.5 21.5,166.0 25.0,163.5 27.5,162.5" fill="none" stroke="#000" stroke-width="1" stroke-dasharray="1.5 1"/><polyline points="14.5,166.0 14.5,169.3 28.0,169.3" fill="none" stroke="#0000ff" stroke-width="1.3" /><polyline points="16.6,169.0 16.6,166.0" fill="none" stroke="#ff0000" stroke-width="1.2" /><polyline points="18.8,169.0 18.8,167.0" fill="none" stroke="#ff0000" stroke-width="1.2" /><polyline points="21.7,169.0 21.7,167.0" fill="none" stroke="#ff0000" stroke-width="1.2" /><polyline points="25.0,169.0 25.0,167.4" fill="none" stroke="#ff0000" stroke-width="1.2" /><rect x="17.5" y="176.5" width="8" height="8" fill="#fff" stroke="#919191"/><rect x="19" y="180" width="5" height="1" fill="#000"/><polyline points="31.5,174.0 31.5,178.0 33.5,181.0" fill="none" stroke="#000" stroke-width="1.2" /><polyline points="39.5,172.0 39.5,175.5" fill="none" stroke="#808080" stroke-width="1" /><polyline points="46.5,176.0 46.5,180.5" fill="none" stroke="#808080" stroke-width="1" /><polygon points="33.5,181.0 36.0,177.0 41.0,176.0 45.0,179.5 46.0,181.0 40.0,184.5 36.0,183.5" fill="#fff" /><polyline points="34.0,180.5 34.8,177.0 35.6,179.5 36.6,174.0 37.2,178.0" fill="none" stroke="#ff00ff" stroke-width="1.2" /><polyline points="35.5,181.5 37.5,181.0 38.5,177.0 40.0,176.0 41.0,178.5 39.5,180.5" fill="none" stroke="#008000" stroke-width="1.1" /><polyline points="38.0,183.0 40.5,181.5 41.5,177.0 42.5,181.0 44.0,179.0" fill="none" stroke="#ff0000" stroke-width="1.2" /><polyline points="36.5,183.5 39.5,184.0 43.0,181.5 45.5,180.5" fill="none" stroke="#000" stroke-width="1" stroke-dasharray="1.5 1"/><polyline points="32.5,184.0 32.5,187.3 46.0,187.3" fill="none" stroke="#0000ff" stroke-width="1.3" /><polyline points="34.6,187.0 34.6,184.0" fill="none" stroke="#ff0000" stroke-width="1.2" /><polyline points="36.8,187.0 36.8,185.0" fill="none" stroke="#ff0000" stroke-width="1.2" /><polyline points="39.7,187.0 39.7,185.0" fill="none" stroke="#ff0000" stroke-width="1.2" /><polyline points="43.0,187.0 43.0,185.4" fill="none" stroke="#ff0000" stroke-width="1.2" /><rect x="35.5" y="194.5" width="8" height="8" fill="#fff" stroke="#919191"/><rect x="37" y="198" width="5" height="1" fill="#000"/><rect x="49.7" y="191.7" width="13.6" height="12.6" fill="#fff" stroke="#000" stroke-width="1.3" /><polyline points="50.5,200.5 55.5,200.5 56.5,194.0 57.5,200.0 58.5,194.5 59.5,200.5 62.5,200.5" fill="none" stroke="#0000ff" stroke-width="0.9" /><polyline points="50.5,202.5 52.5,202.5 53.5,198.5 54.5,202.5 59.5,202.5 60.5,197.5 61.5,202.5 62.5,202.5" fill="none" stroke="#ff0000" stroke-width="0.9" /><polygon points="68.6,208.6 77.5,208.6 80.4,211.5 80.4,222.4 68.6,222.4" fill="#fff" stroke="#000" stroke-width="1.2" /><polyline points="77.5,208.6 77.5,211.5 80.4,211.5" fill="none" stroke="#000" stroke-width="0.9" /><polyline points="70.0,220.0 72.0,218.5 73.5,213.0 74.5,211.5 75.5,213.0 77.0,218.5 79.0,220.0" fill="none" stroke="#008000" stroke-width="1.1" /><rect x="87" y="216" width="42" height="1.6" fill="#008000"/><polygon points="68.6,226.6 77.5,226.6 80.4,229.5 80.4,240.4 68.6,240.4" fill="#fff" stroke="#000" stroke-width="1.2" /><polyline points="77.5,226.6 77.5,229.5 80.4,229.5" fill="none" stroke="#000" stroke-width="0.9" /><polyline points="70.0,238.0 72.0,236.5 73.5,231.0 74.5,229.5 75.5,231.0 77.0,236.5 79.0,238.0" fill="none" stroke="#008000" stroke-width="1.1" /><rect x="87" y="234" width="42" height="1.6" fill="#0000ff"/><rect x="35.5" y="248.5" width="8" height="8" fill="#fff" stroke="#919191"/><rect x="37" y="252" width="5" height="1" fill="#000"/><rect x="49.7" y="245.7" width="13.6" height="12.6" fill="#fff" stroke="#000" stroke-width="1.3" /><polyline points="51.0,254.0 52.5,250.0 53.5,254.0 55.0,248.5 56.5,254.0 58.0,249.5 59.5,254.0 61.0,251.0 62.0,254.0" fill="none" stroke="#008000" stroke-width="1" /><polyline points="51.5,253.0 54.0,251.5 56.0,253.0 59.0,251.0 61.5,253.0" fill="none" stroke="#008000" stroke-width="0.9" /><polyline points="50.5,254.5 56.0,256.5 62.5,254.5" fill="none" stroke="#000" stroke-width="1" /><polyline points="56.0,248.0 56.0,257.0" fill="none" stroke="#000" stroke-width="0.9" /><rect x="67.7" y="263.7" width="13.6" height="12.6" fill="#fff" stroke="#000" stroke-width="1.3" /><polyline points="69.0,272.0 70.5,268.0 71.5,272.0 73.0,266.5 74.5,272.0 76.0,267.5 77.5,272.0 79.0,269.0 80.0,272.0" fill="none" stroke="#008000" stroke-width="1" /><polyline points="69.5,271.0 72.0,269.5 74.0,271.0 77.0,269.0 79.5,271.0" fill="none" stroke="#008000" stroke-width="0.9" /><polyline points="68.5,272.5 74.0,274.5 80.5,272.5" fill="none" stroke="#000" stroke-width="1" /><polyline points="74.0,266.0 74.0,275.0" fill="none" stroke="#000" stroke-width="0.9" /><rect x="35.5" y="284.5" width="8" height="8" fill="#fff" stroke="#919191"/><rect x="37" y="288" width="5" height="1" fill="#000"/><rect x="49.7" y="282.7" width="13.6" height="10.6" fill="#fff" stroke="#000" stroke-width="1.3" /><polyline points="51.0,290.5 53.0,290.5 54.5,289.0 56.0,291.0 58.0,289.0 59.5,285.0 61.0,286.5 62.5,284.5" fill="none" stroke="#008000" stroke-width="1.1" /><rect x="53.5" y="302.5" width="8" height="8" fill="#fff" stroke="#919191"/><rect x="55" y="306" width="5" height="1" fill="#000"/><rect x="67.7" y="300.7" width="13.6" height="10.6" fill="#fff" stroke="#000" stroke-width="1.3" /><polyline points="69.0,308.5 71.0,308.5 72.5,307.0 74.0,309.0 76.0,307.0 77.5,303.0 79.0,304.5 80.5,302.5" fill="none" stroke="#008000" stroke-width="1.1" /><polygon points="86.6,316.6 95.5,316.6 98.4,319.5 98.4,330.4 86.6,330.4" fill="#fff" stroke="#000" stroke-width="1.2" /><polyline points="95.5,316.6 95.5,319.5 98.4,319.5" fill="none" stroke="#000" stroke-width="0.9" /><polyline points="88.0,328.0 90.0,326.5 91.5,321.0 92.5,319.5 93.5,321.0 95.0,326.5 97.0,328.0" fill="none" stroke="#008000" stroke-width="1.1" /><rect x="105" y="324" width="42" height="1.6" fill="#008000"/><rect x="151" y="316" width="48" height="18" fill="#e6e6e6"/></svg>
<div class="t" style="left:33.25px;top:156.8px;font-size:12.5px;letter-spacing:0.400px;">Interval Data Analysis</div>
<div class="t" style="left:51.25px;top:174.8px;font-size:12.5px;letter-spacing:0.116px;font-weight:bold;">ALP.jwb</div>
<div class="t" style="left:69.25px;top:192.8px;font-size:12.5px;letter-spacing:0.356px;">2-D Spectrum View</div>
<div class="t" style="left:135.75px;top:210.8px;font-size:12.5px;letter-spacing:0.534px;">Time: 0 min</div>
<div class="t" style="left:135.75px;top:228.8px;font-size:12.5px;letter-spacing:0.431px;">Time: 200.65 min</div>
<div class="t" style="left:69.25px;top:246.8px;font-size:12.5px;letter-spacing:0.179px;">3-D Graph View</div>
<div class="t" style="left:87.25px;top:264.8px;font-size:12.5px;letter-spacing:0.180px;">3-D Graph View 1</div>
<div class="t" style="left:69.25px;top:282.8px;font-size:12.5px;letter-spacing:0.674px;font-weight:bold;">2-D Data View</div>
<div class="t" style="left:87.25px;top:300.8px;font-size:12.5px;letter-spacing:0.656px;font-weight:bold;">2-D Data View 1</div>
<div class="t" style="left:153px;top:318.8px;font-size:12.5px;letter-spacing:0.252px;">402 nm</div>
<svg style="left:0px;top:0px" width="1320" height="1033" viewBox="0 0 1320 1033" ><rect x="11" y="811" width="275" height="192" fill="#fff"/><rect x="11" y="811" width="274" height="1.5" fill="#696969"/><rect x="11" y="811" width="1.5" height="189" fill="#696969"/><rect x="13" y="1001" width="272" height="1" fill="#e3e3e3"/><rect x="13" y="813" width="255" height="23" fill="#fbfbfc"/><rect x="13" y="836" width="255" height="1" fill="#dde6f3"/><rect x="158" y="813" width="1" height="23" fill="#e4ebf5"/><rect x="13" y="855" width="255" height="1" fill="#f0f0f0"/><rect x="13" y="874" width="255" height="1" fill="#f0f0f0"/><rect x="13" y="893" width="255" height="1" fill="#f0f0f0"/><rect x="13" y="912" width="255" height="1" fill="#f0f0f0"/><rect x="13" y="931" width="255" height="1" fill="#f0f0f0"/><rect x="13" y="950" width="255" height="1" fill="#f0f0f0"/><rect x="13" y="969" width="255" height="1" fill="#f0f0f0"/><rect x="159" y="837" width="1" height="146" fill="#f0f0f0"/><rect x="268" y="813" width="17" height="170" fill="#f0f0f0"/><rect x="269" y="830" width="15" height="118" fill="#c1c1c1"/><path d="M272.5 825 L276 821.5 L279.5 825" fill="none" stroke="#505050" stroke-width="1.6"/><path d="M272.5 971.5 L276 975 L279.5 971.5" fill="none" stroke="#505050" stroke-width="1.6"/><rect x="13" y="983" width="272" height="17" fill="#f0f0f0"/><rect x="30" y="984" width="189" height="14" fill="#c1c1c1"/><path d="M23.5 987 L20 990.5 L23.5 994" fill="none" stroke="#505050" stroke-width="1.6"/><path d="M256.5 987 L260 990.5 L256.5 994" fill="none" stroke="#505050" stroke-width="1.6"/><rect x="21.5" y="956.5" width="8" height="8" fill="#fff" stroke="#919191"/><rect x="23" y="960" width="5" height="1" fill="#000"/><rect x="25" y="958" width="1" height="5" fill="#000"/><rect x="21.5" y="975.5" width="8" height="8" fill="#fff" stroke="#919191"/><rect x="23" y="979" width="5" height="1" fill="#000"/><rect x="25" y="977" width="1" height="5" fill="#000"/></svg>
<div class="t" style="left:19.25px;top:819px;font-size:12.5px;letter-spacing:0.673px;">Item</div>
<div class="t" style="left:211.25px;top:819px;font-size:12.5px;letter-spacing:0.275px;">Content</div>
<div class="a" style="left:13px;top:837px;width:255px;height:146px;overflow:hidden">
<div class="t" style="left:41.5px;top:4px;font-size:12.5px;letter-spacing:0.077px;">User</div>
<div class="t" style="left:41.5px;top:23px;font-size:12.5px;letter-spacing:0.092px;">Division</div>
<div class="t" style="left:41.5px;top:42px;font-size:12.5px;letter-spacing:0.144px;">Company</div>
<div class="t" style="left:41.5px;top:61px;font-size:12.5px;letter-spacing:0.266px;">Creation date</div>
<div class="t" style="left:41.5px;top:80px;font-size:12.5px;letter-spacing:0.307px;">Sample name</div>
<div class="t" style="left:41.5px;top:99px;font-size:12.5px;letter-spacing:0.475px;">Comment</div>
<div class="t" style="left:41.5px;top:118px;font-size:12.5px;letter-spacing:0.302px;">Detailed Infor...</div>
<div class="t" style="left:41.5px;top:137px;font-size:12.5px;letter-spacing:0.287px;">Interval Measu</div>
<div class="t" style="left:166px;top:42px;font-size:12.5px;letter-spacing:-0.208px;">JASCO Corpora</div>
<div class="t" style="left:169.5px;top:61px;font-size:12.5px;letter-spacing:0.236px;">2015/03/27 13</div>
</div>
<div class="a" style="left:13px;top:983px;width:17px;height:17px;background:#f0f0f0"></div>
<svg style="left:0px;top:0px" width="1320" height="1033" viewBox="0 0 1320 1033" ><path d="M23.5 987 L20 990.5 L23.5 994" fill="none" stroke="#505050" stroke-width="1.6"/></svg>
<svg style="left:0px;top:0px" width="1320" height="1033" viewBox="0 0 1320 1033" ><rect x="289" y="135" width="504" height="372" fill="#fff"/><rect x="289" y="135" width="503" height="1" fill="#a0a0a0"/><rect x="290" y="136" width="502" height="1" fill="#696969"/><rect x="289" y="135" width="1" height="371" fill="#a0a0a0"/><rect x="290" y="136" width="1" height="370" fill="#696969"/><rect x="292" y="138" width="500" height="26" fill="#f5f6f7"/><rect x="292" y="164" width="500" height="1" fill="#b4b4b4"/><rect x="296" y="141" width="2" height="2" fill="#fff"/><rect x="295.5" y="140.5" width="1.5" height="1.5" fill="#b0b0b0"/><rect x="296" y="145" width="2" height="2" fill="#fff"/><rect x="295.5" y="144.5" width="1.5" height="1.5" fill="#b0b0b0"/><rect x="296" y="149" width="2" height="2" fill="#fff"/><rect x="295.5" y="148.5" width="1.5" height="1.5" fill="#b0b0b0"/><rect x="296" y="153" width="2" height="2" fill="#fff"/><rect x="295.5" y="152.5" width="1.5" height="1.5" fill="#b0b0b0"/><rect x="296" y="157" width="2" height="2" fill="#fff"/><rect x="295.5" y="156.5" width="1.5" height="1.5" fill="#b0b0b0"/><rect x="296" y="161" width="2" height="2" fill="#fff"/><rect x="295.5" y="160.5" width="1.5" height="1.5" fill="#b0b0b0"/><rect x="309.5" y="143.5" width="14.0" height="11.0" fill="none" stroke="#a0a0a0" stroke-width="1.1" /><polyline points="310.5,152.5 313.0,151.5 315.0,147.5 316.5,145.8 318.0,147.5 320.0,151.5 323.0,152.5" fill="none" stroke="#a0a0a0" stroke-width="1" /><rect x="305.0" y="142.5" width="3.0" height="2.0" fill="#a0a0a0" /><rect x="305.0" y="153.5" width="3.0" height="2.0" fill="#a0a0a0" /><rect x="309.0" y="156.5" width="4.0" height="2.0" fill="#a0a0a0" /><rect x="321.5" y="156.5" width="4.0" height="2.0" fill="#a0a0a0" /><polyline points="334.0,143.5 351.0,143.5" fill="none" stroke="#a0a0a0" stroke-width="1" /><polyline points="334.0,145.5 351.0,145.5" fill="none" stroke="#a0a0a0" stroke-width="1" stroke-dasharray="4 2"/><polyline points="334.0,147.5 351.0,147.5" fill="none" stroke="#a0a0a0" stroke-width="1" stroke-dasharray="2 2"/><polyline points="334.0,149.5 351.0,149.5" fill="none" stroke="#a0a0a0" stroke-width="1" stroke-dasharray="4 2 1 2"/><rect x="334.0" y="151.0" width="17.0" height="2.0" fill="#a0a0a0" /><rect x="334.0" y="154.5" width="17.0" height="3.0" fill="#a0a0a0" /><text x="360.0" y="149.5" font-size="8" fill="#a0a0a0" font-weight="bold" font-family="Liberation Sans" stroke="#a0a0a0" stroke-width="0.5">a</text><text x="363.5" y="158.5" font-size="12.5" fill="#a0a0a0" font-weight="bold" font-family="Liberation Sans" stroke="#a0a0a0" stroke-width="0.7">B</text><text x="370.2" y="154.5" font-size="12.5" fill="#a0a0a0" font-weight="bold" font-family="Liberation Sans" stroke="#a0a0a0" stroke-width="0.7">C</text><polyline points="387.0,142.0 387.0,159.0" fill="none" stroke="#a0a0a0" stroke-width="0.9" /><polyline points="386.0,143.0 406.0,143.0" fill="none" stroke="#a0a0a0" stroke-width="0.9" /><polyline points="389.9,142.0 389.9,159.0" fill="none" stroke="#a0a0a0" stroke-width="0.9" /><polyline points="386.0,145.5 406.0,145.5" fill="none" stroke="#a0a0a0" stroke-width="0.9" /><polyline points="392.8,142.0 392.8,159.0" fill="none" stroke="#a0a0a0" stroke-width="0.9" /><polyline points="386.0,148.0 406.0,148.0" fill="none" stroke="#a0a0a0" stroke-width="0.9" /><polyline points="395.7,142.0 395.7,159.0" fill="none" stroke="#a0a0a0" stroke-width="0.9" /><polyline points="386.0,150.5 406.0,150.5" fill="none" stroke="#a0a0a0" stroke-width="0.9" /><polyline points="398.6,142.0 398.6,159.0" fill="none" stroke="#a0a0a0" stroke-width="0.9" /><polyline points="386.0,153.0 406.0,153.0" fill="none" stroke="#a0a0a0" stroke-width="0.9" /><polyline points="401.5,142.0 401.5,159.0" fill="none" stroke="#a0a0a0" stroke-width="0.9" /><polyline points="386.0,155.5 406.0,155.5" fill="none" stroke="#a0a0a0" stroke-width="0.9" /><polyline points="404.4,142.0 404.4,159.0" fill="none" stroke="#a0a0a0" stroke-width="0.9" /><polyline points="386.0,158.0 406.0,158.0" fill="none" stroke="#a0a0a0" stroke-width="0.9" /><polyline points="414.0,159.0 414.0,142.0" fill="none" stroke="#a0a0a0" stroke-width="1.8" stroke-dasharray="4.4 1.2"/><polyline points="417.1,159.0 417.1,142.0" fill="none" stroke="#a0a0a0" stroke-width="1.8" stroke-dasharray="4.4 1.2"/><polyline points="420.1,159.0 420.1,142.0" fill="none" stroke="#a0a0a0" stroke-width="1.8" stroke-dasharray="4.4 1.2"/><polyline points="423.1,159.0 423.1,145.0" fill="none" stroke="#a0a0a0" stroke-width="1.8" stroke-dasharray="4.4 1.2"/><polyline points="426.2,159.0 426.2,148.0" fill="none" stroke="#a0a0a0" stroke-width="1.8" stroke-dasharray="4.4 1.2"/><polyline points="429.2,159.0 429.2,151.0" fill="none" stroke="#a0a0a0" stroke-width="1.8" stroke-dasharray="4.4 1.2"/><polyline points="432.3,159.0 432.3,154.0" fill="none" stroke="#a0a0a0" stroke-width="1.8" stroke-dasharray="4.4 1.2"/><rect x="439" y="140" width="1.2" height="22" fill="#a0a0a0"/><rect x="447.1" y="142.6" width="16.8" height="15.0" fill="none" stroke="#a0a0a0" stroke-width="1.2" /><polyline points="448.0,154.0 449.5,151.0 451.0,153.0 453.0,145.0 454.5,152.0 456.5,154.0 459.5,154.5 463.0,155.0" fill="none" stroke="#a0a0a0" stroke-width="1" /><polyline points="448.0,155.0 450.5,155.0 452.5,150.0 454.0,153.0 455.5,144.5 457.0,150.0 458.5,153.0 460.5,153.5 463.0,152.0" fill="none" stroke="#a0a0a0" stroke-width="1" /><rect x="472" y="140" width="1.2" height="22" fill="#a0a0a0"/><polyline points="479.0,156.0 482.0,156.0 484.5,152.0 486.0,145.0 487.5,152.0 489.0,155.0 491.0,154.0 493.0,145.0 494.5,153.0 497.0,156.0 499.0,156.0" fill="none" stroke="#a0a0a0" stroke-width="1.1" /><polyline points="486.2,142.0 486.2,159.0" fill="none" stroke="#a0a0a0" stroke-width="1.1" /><polygon points="487.2,147.0 487.2,156.0 489.3,154.0 491.0,157.5 492.0,157.0 490.6,153.5 492.5,153.0" fill="#a0a0a0" /><circle cx="513.0" cy="147.5" r="5.6" fill="#a0a0a0"/><rect x="510.8" y="146.8" width="7.9" height="6.4" fill="#f5f6f7" stroke="#a0a0a0" stroke-width="1" /><rect x="515.0" y="149.0" width="10.5" height="7.5" fill="#f5f6f7" stroke="#a0a0a0" stroke-width="1.2" /><polyline points="511.0,153.0 518.0,147.0" fill="none" stroke="#a0a0a0" stroke-width="1.2" /><polyline points="516.0,154.5 520.0,150.0 525.0,155.5" fill="none" stroke="#a0a0a0" stroke-width="1.2" /><polyline points="518.0,154.5 523.0,158.5" fill="none" stroke="#a0a0a0" stroke-width="2.2" /><polyline points="533.0,156.5 537.0,156.0 539.0,152.0 540.5,149.0 542.0,154.0 544.0,155.0 546.0,150.0 547.5,143.0 549.0,151.0 551.0,155.5 553.0,156.5" fill="none" stroke="#a0a0a0" stroke-width="1" /><polyline points="533.0,153.5 536.0,153.0 539.0,149.5 541.0,154.0 543.0,150.0 544.5,147.0 546.0,154.0 548.0,148.0 550.0,154.0 553.0,155.0" fill="none" stroke="#a0a0a0" stroke-width="1" /><polyline points="541.0,157.0 544.0,152.0 546.0,157.0 548.0,153.0 550.0,157.0" fill="none" stroke="#a0a0a0" stroke-width="0.9" /><rect x="559" y="140" width="1.2" height="22" fill="#a0a0a0"/><rect x="566.6" y="141.6" width="18.8" height="7.4" fill="none" stroke="#a0a0a0" stroke-width="1.2" /><rect x="566.6" y="152.0" width="18.8" height="7.4" fill="none" stroke="#a0a0a0" stroke-width="1.2" /><polyline points="567.5,148.0 570.5,144.0 573.0,143.5 576.0,147.0 579.0,143.5 582.0,144.0 584.5,148.0" fill="none" stroke="#a0a0a0" stroke-width="1" /><polyline points="567.5,154.0 570.0,157.5 572.0,154.0 574.0,158.0 576.0,154.5 578.0,158.0 580.0,154.0 582.0,157.0 584.5,153.5" fill="none" stroke="#a0a0a0" stroke-width="1" /><rect x="570.0" y="149.0" width="4.0" height="3.0" fill="#a0a0a0" /><rect x="578.0" y="149.0" width="4.0" height="3.0" fill="#a0a0a0" /><polyline points="568.5,150.5 583.5,150.5" fill="none" stroke="#a0a0a0" stroke-width="1.6" /><rect x="592" y="140" width="1.2" height="22" fill="#a0a0a0"/><polygon points="609.0,141.5 604.8,145.8 613.2,145.8" fill="#a0a0a0" /><polygon points="609.0,160.5 604.8,156.2 613.2,156.2" fill="#a0a0a0" /><polygon points="599.5,151.0 603.8,146.8 603.8,155.2" fill="#a0a0a0" /><polygon points="618.5,151.0 614.2,146.8 614.2,155.2" fill="#a0a0a0" /><rect x="607.8" y="145.5" width="2.4" height="3.3" fill="#a0a0a0" /><rect x="607.8" y="153.2" width="2.4" height="3.3" fill="#a0a0a0" /><rect x="603.5" y="149.8" width="3.3" height="2.4" fill="#a0a0a0" /><rect x="611.2" y="149.8" width="3.3" height="2.4" fill="#a0a0a0" /><rect x="608.0" y="150.0" width="2.0" height="2.0" fill="#a0a0a0" /><polygon points="636.0,141.5 631.8,145.8 640.2,145.8" fill="#a0a0a0" /><polygon points="636.0,160.5 631.8,156.2 640.2,156.2" fill="#a0a0a0" /><polygon points="626.5,151.0 630.8,146.8 630.8,155.2" fill="#a0a0a0" /><polygon points="645.5,151.0 641.2,146.8 641.2,155.2" fill="#a0a0a0" /><rect x="634.8" y="145.5" width="2.4" height="3.3" fill="#a0a0a0" /><rect x="634.8" y="153.2" width="2.4" height="3.3" fill="#a0a0a0" /><rect x="630.5" y="149.8" width="3.3" height="2.4" fill="#a0a0a0" /><rect x="638.2" y="149.8" width="3.3" height="2.4" fill="#a0a0a0" /><rect x="635.0" y="150.0" width="2.0" height="2.0" fill="#a0a0a0" /><polygon points="666.0,143.0 671.0,143.0 671.0,153.5 661.5,153.5 661.5,158.0 655.0,151.5 661.5,145.0 661.5,149.5 666.0,149.5" fill="#a0a0a0" /><rect x="796" y="135" width="515" height="372" fill="#fff"/><rect x="796" y="135" width="514" height="1" fill="#a0a0a0"/><rect x="797" y="136" width="513" height="1" fill="#696969"/><rect x="796" y="135" width="1" height="371" fill="#a0a0a0"/><rect x="797" y="136" width="1" height="370" fill="#696969"/><rect x="799" y="138" width="511" height="26" fill="#f5f6f7"/><rect x="799" y="164" width="511" height="1" fill="#b4b4b4"/><rect x="799" y="165" width="511" height="341" fill="#f0f0f0"/><rect x="803" y="141" width="2" height="2" fill="#fff"/><rect x="802.5" y="140.5" width="1.5" height="1.5" fill="#b0b0b0"/><rect x="803" y="145" width="2" height="2" fill="#fff"/><rect x="802.5" y="144.5" width="1.5" height="1.5" fill="#b0b0b0"/><rect x="803" y="149" width="2" height="2" fill="#fff"/><rect x="802.5" y="148.5" width="1.5" height="1.5" fill="#b0b0b0"/><rect x="803" y="153" width="2" height="2" fill="#fff"/><rect x="802.5" y="152.5" width="1.5" height="1.5" fill="#b0b0b0"/><rect x="803" y="157" width="2" height="2" fill="#fff"/><rect x="802.5" y="156.5" width="1.5" height="1.5" fill="#b0b0b0"/><rect x="803" y="161" width="2" height="2" fill="#fff"/><rect x="802.5" y="160.5" width="1.5" height="1.5" fill="#b0b0b0"/><rect x="816.5" y="143.5" width="14.0" height="11.0" fill="#fff" stroke="#000" stroke-width="1.1" /><polyline points="817.5,152.5 820.0,151.5 822.0,147.5 823.5,145.8 825.0,147.5 827.0,151.5 830.0,152.5" fill="none" stroke="#008000" stroke-width="1" /><rect x="812.0" y="142.5" width="3.0" height="2.0" fill="#000" /><rect x="812.0" y="153.5" width="3.0" height="2.0" fill="#000" /><rect x="816.0" y="156.5" width="4.0" height="2.0" fill="#ff0000" /><rect x="828.5" y="156.5" width="4.0" height="2.0" fill="#000" /><polyline points="841.0,143.5 858.0,143.5" fill="none" stroke="#000" stroke-width="1" /><polyline points="841.0,145.5 858.0,145.5" fill="none" stroke="#0000ff" stroke-width="1" stroke-dasharray="4 2"/><polyline points="841.0,147.5 858.0,147.5" fill="none" stroke="#008000" stroke-width="1" stroke-dasharray="2 2"/><polyline points="841.0,149.5 858.0,149.5" fill="none" stroke="#000" stroke-width="1" stroke-dasharray="4 2 1 2"/><rect x="841.0" y="151.0" width="17.0" height="2.0" fill="#ff0000" /><rect x="841.0" y="154.5" width="17.0" height="3.0" fill="#00e000" /><text x="867.0" y="149.5" font-size="8" fill="#00e000" font-weight="bold" font-family="Liberation Sans" stroke="#00e000" stroke-width="0.5">a</text><text x="870.5" y="158.5" font-size="12.5" fill="#ff0000" font-weight="bold" font-family="Liberation Sans" stroke="#ff0000" stroke-width="0.7">B</text><text x="877.2" y="154.5" font-size="12.5" fill="#0000ff" font-weight="bold" font-family="Liberation Sans" stroke="#0000ff" stroke-width="0.7">C</text><polyline points="894.0,142.0 894.0,159.0" fill="none" stroke="#a0a0a0" stroke-width="0.9" /><polyline points="893.0,143.0 913.0,143.0" fill="none" stroke="#a0a0a0" stroke-width="0.9" /><polyline points="896.9,142.0 896.9,159.0" fill="none" stroke="#a0a0a0" stroke-width="0.9" /><polyline points="893.0,145.5 913.0,145.5" fill="none" stroke="#a0a0a0" stroke-width="0.9" /><polyline points="899.8,142.0 899.8,159.0" fill="none" stroke="#a0a0a0" stroke-width="0.9" /><polyline points="893.0,148.0 913.0,148.0" fill="none" stroke="#a0a0a0" stroke-width="0.9" /><polyline points="902.7,142.0 902.7,159.0" fill="none" stroke="#a0a0a0" stroke-width="0.9" /><polyline points="893.0,150.5 913.0,150.5" fill="none" stroke="#a0a0a0" stroke-width="0.9" /><polyline points="905.6,142.0 905.6,159.0" fill="none" stroke="#a0a0a0" stroke-width="0.9" /><polyline points="893.0,153.0 913.0,153.0" fill="none" stroke="#a0a0a0" stroke-width="0.9" /><polyline points="908.5,142.0 908.5,159.0" fill="none" stroke="#a0a0a0" stroke-width="0.9" /><polyline points="893.0,155.5 913.0,155.5" fill="none" stroke="#a0a0a0" stroke-width="0.9" /><polyline points="911.4,142.0 911.4,159.0" fill="none" stroke="#a0a0a0" stroke-width="0.9" /><polyline points="893.0,158.0 913.0,158.0" fill="none" stroke="#a0a0a0" stroke-width="0.9" /><polyline points="921.0,159.0 921.0,142.0" fill="none" stroke="#000" stroke-width="1.8" stroke-dasharray="4.4 1.2"/><polyline points="924.0,159.0 924.0,142.0" fill="none" stroke="#000" stroke-width="1.8" stroke-dasharray="4.4 1.2"/><polyline points="927.1,159.0 927.1,142.0" fill="none" stroke="#000" stroke-width="1.8" stroke-dasharray="4.4 1.2"/><polyline points="930.1,159.0 930.1,145.0" fill="none" stroke="#000" stroke-width="1.8" stroke-dasharray="4.4 1.2"/><polyline points="933.2,159.0 933.2,148.0" fill="none" stroke="#000" stroke-width="1.8" stroke-dasharray="4.4 1.2"/><polyline points="936.2,159.0 936.2,151.0" fill="none" stroke="#000" stroke-width="1.8" stroke-dasharray="4.4 1.2"/><polyline points="939.3,159.0 939.3,154.0" fill="none" stroke="#000" stroke-width="1.8" stroke-dasharray="4.4 1.2"/><rect x="946" y="140" width="1.2" height="22" fill="#a0a0a0"/><rect x="954.1" y="142.6" width="16.8" height="15.0" fill="#fff" stroke="#000" stroke-width="1.2" /><polyline points="955.0,154.0 956.5,151.0 958.0,153.0 960.0,145.0 961.5,152.0 963.5,154.0 966.5,154.5 970.0,155.0" fill="none" stroke="#800000" stroke-width="1" /><polyline points="955.0,155.0 957.5,155.0 959.5,150.0 961.0,153.0 962.5,144.5 964.0,150.0 965.5,153.0 967.5,153.5 970.0,152.0" fill="none" stroke="#0000ff" stroke-width="1" /><rect x="979" y="140" width="1.2" height="22" fill="#a0a0a0"/><polyline points="986.0,156.0 989.0,156.0 991.5,152.0 993.0,145.0 994.5,152.0 996.0,155.0 998.0,154.0 1000.0,145.0 1001.5,153.0 1004.0,156.0 1006.0,156.0" fill="none" stroke="#008000" stroke-width="1.1" /><polyline points="993.2,142.0 993.2,159.0" fill="none" stroke="#ff0000" stroke-width="1.1" /><polygon points="994.2,147.0 994.2,156.0 996.3,154.0 998.0,157.5 999.0,157.0 997.6,153.5 999.5,153.0" fill="#000" /><rect x="1010.5" y="138.5" width="26" height="25" fill="#b9d6f7" stroke="#6aa8ea"/><circle cx="1021.0" cy="147.5" r="5.6" fill="#00e0e0" stroke="#000" stroke-width="1.3"/><rect x="1018.5" y="146.5" width="8.5" height="7.0" fill="#fff" stroke="#000" stroke-width="1.2" /><rect x="1023.0" y="149.0" width="10.5" height="7.5" fill="#fff" stroke="#000" stroke-width="1.2" /><polyline points="1019.0,153.0 1026.0,147.0" fill="none" stroke="#ff0000" stroke-width="1.3" /><polyline points="1024.0,154.5 1028.0,150.0 1033.0,155.5" fill="none" stroke="#ff0000" stroke-width="1.3" /><polyline points="1026.0,154.5 1031.0,158.5" fill="none" stroke="#000" stroke-width="2.2" /><polyline points="1040.0,156.5 1044.0,156.0 1046.0,152.0 1047.5,149.0 1049.0,154.0 1051.0,155.0 1053.0,150.0 1054.5,143.0 1056.0,151.0 1058.0,155.5 1060.0,156.5" fill="none" stroke="#a0a0a0" stroke-width="1" /><polyline points="1040.0,153.5 1043.0,153.0 1046.0,149.5 1048.0,154.0 1050.0,150.0 1051.5,147.0 1053.0,154.0 1055.0,148.0 1057.0,154.0 1060.0,155.0" fill="none" stroke="#a0a0a0" stroke-width="1" /><polyline points="1048.0,157.0 1051.0,152.0 1053.0,157.0 1055.0,153.0 1057.0,157.0" fill="none" stroke="#a0a0a0" stroke-width="0.9" /><rect x="1066" y="140" width="1.2" height="22" fill="#a0a0a0"/><rect x="1073.6" y="141.6" width="18.8" height="7.4" fill="none" stroke="#a0a0a0" stroke-width="1.2" /><rect x="1073.6" y="152.0" width="18.8" height="7.4" fill="none" stroke="#a0a0a0" stroke-width="1.2" /><polyline points="1074.5,148.0 1077.5,144.0 1080.0,143.5 1083.0,147.0 1086.0,143.5 1089.0,144.0 1091.5,148.0" fill="none" stroke="#a0a0a0" stroke-width="1" /><polyline points="1074.5,154.0 1077.0,157.5 1079.0,154.0 1081.0,158.0 1083.0,154.5 1085.0,158.0 1087.0,154.0 1089.0,157.0 1091.5,153.5" fill="none" stroke="#a0a0a0" stroke-width="1" /><rect x="1077.0" y="149.0" width="4.0" height="3.0" fill="#a0a0a0" /><rect x="1085.0" y="149.0" width="4.0" height="3.0" fill="#a0a0a0" /><polyline points="1075.5,150.5 1090.5,150.5" fill="none" stroke="#a0a0a0" stroke-width="1.6" /><rect x="1099" y="140" width="1.2" height="22" fill="#a0a0a0"/><polyline points="1109.5,144.5 1121.5,155.5" fill="none" stroke="#800000" stroke-width="2" /><polyline points="1121.0,144.0 1110.0,156.0" fill="none" stroke="#800000" stroke-width="2" /><rect x="798.5" y="188.5" width="509" height="316" fill="#fff" stroke="#a8a8a8" stroke-width="1"/><rect x="798.5" y="166.5" width="57" height="23" fill="#fff" stroke="#a8a8a8"/><rect x="799" y="187" width="56" height="3" fill="#fff"/><rect x="289" y="511" width="1022" height="494" fill="#fff"/><rect x="289" y="511" width="1021" height="1" fill="#a0a0a0"/><rect x="290" y="512" width="1020" height="1" fill="#696969"/><rect x="289" y="511" width="1" height="493" fill="#a0a0a0"/><rect x="290" y="512" width="1" height="492" fill="#696969"/><rect x="292" y="514" width="1018" height="26" fill="#f5f6f7"/><rect x="292" y="540" width="1018" height="1" fill="#b4b4b4"/><rect x="296" y="517" width="2" height="2" fill="#fff"/><rect x="295.5" y="516.5" width="1.5" height="1.5" fill="#b0b0b0"/><rect x="296" y="521" width="2" height="2" fill="#fff"/><rect x="295.5" y="520.5" width="1.5" height="1.5" fill="#b0b0b0"/><rect x="296" y="525" width="2" height="2" fill="#fff"/><rect x="295.5" y="524.5" width="1.5" height="1.5" fill="#b0b0b0"/><rect x="296" y="529" width="2" height="2" fill="#fff"/><rect x="295.5" y="528.5" width="1.5" height="1.5" fill="#b0b0b0"/><rect x="296" y="533" width="2" height="2" fill="#fff"/><rect x="295.5" y="532.5" width="1.5" height="1.5" fill="#b0b0b0"/><rect x="296" y="537" width="2" height="2" fill="#fff"/><rect x="295.5" y="536.5" width="1.5" height="1.5" fill="#b0b0b0"/><rect x="309.5" y="519.5" width="14.0" height="11.0" fill="none" stroke="#a0a0a0" stroke-width="1.1" /><polyline points="310.5,528.5 313.0,527.5 315.0,523.5 316.5,521.8 318.0,523.5 320.0,527.5 323.0,528.5" fill="none" stroke="#a0a0a0" stroke-width="1" /><rect x="305.0" y="518.5" width="3.0" height="2.0" fill="#a0a0a0" /><rect x="305.0" y="529.5" width="3.0" height="2.0" fill="#a0a0a0" /><rect x="309.0" y="532.5" width="4.0" height="2.0" fill="#a0a0a0" /><rect x="321.5" y="532.5" width="4.0" height="2.0" fill="#a0a0a0" /><polyline points="334.0,519.5 351.0,519.5" fill="none" stroke="#a0a0a0" stroke-width="1" /><polyline points="334.0,521.5 351.0,521.5" fill="none" stroke="#a0a0a0" stroke-width="1" stroke-dasharray="4 2"/><polyline points="334.0,523.5 351.0,523.5" fill="none" stroke="#a0a0a0" stroke-width="1" stroke-dasharray="2 2"/><polyline points="334.0,525.5 351.0,525.5" fill="none" stroke="#a0a0a0" stroke-width="1" stroke-dasharray="4 2 1 2"/><rect x="334.0" y="527.0" width="17.0" height="2.0" fill="#a0a0a0" /><rect x="334.0" y="530.5" width="17.0" height="3.0" fill="#a0a0a0" /><text x="360.0" y="525.5" font-size="8" fill="#a0a0a0" font-weight="bold" font-family="Liberation Sans" stroke="#a0a0a0" stroke-width="0.5">a</text><text x="363.5" y="534.5" font-size="12.5" fill="#a0a0a0" font-weight="bold" font-family="Liberation Sans" stroke="#a0a0a0" stroke-width="0.7">B</text><text x="370.2" y="530.5" font-size="12.5" fill="#a0a0a0" font-weight="bold" font-family="Liberation Sans" stroke="#a0a0a0" stroke-width="0.7">C</text><polyline points="387.0,535.0 387.0,518.0" fill="none" stroke="#a0a0a0" stroke-width="1.8" stroke-dasharray="4.4 1.2"/><polyline points="390.1,535.0 390.1,518.0" fill="none" stroke="#a0a0a0" stroke-width="1.8" stroke-dasharray="4.4 1.2"/><polyline points="393.1,535.0 393.1,518.0" fill="none" stroke="#a0a0a0" stroke-width="1.8" stroke-dasharray="4.4 1.2"/><polyline points="396.1,535.0 396.1,521.0" fill="none" stroke="#a0a0a0" stroke-width="1.8" stroke-dasharray="4.4 1.2"/><polyline points="399.2,535.0 399.2,524.0" fill="none" stroke="#a0a0a0" stroke-width="1.8" stroke-dasharray="4.4 1.2"/><polyline points="402.2,535.0 402.2,527.0" fill="none" stroke="#a0a0a0" stroke-width="1.8" stroke-dasharray="4.4 1.2"/><polyline points="405.3,535.0 405.3,530.0" fill="none" stroke="#a0a0a0" stroke-width="1.8" stroke-dasharray="4.4 1.2"/><rect x="412" y="516" width="1.2" height="22" fill="#a0a0a0"/><rect x="420.0" y="517.5" width="16.5" height="15.0" fill="#a0a0a0" /><rect x="425.0" y="532.5" width="14.0" height="2.3" fill="#a0a0a0" /><rect x="434.0" y="519.0" width="1.0" height="3.5" fill="#f5f6f7" /><rect x="421.5" y="526.5" width="1.0" height="4.0" fill="#f5f6f7" /><rect x="447.6" y="518.1" width="15.8" height="14.4" fill="none" stroke="#a0a0a0" stroke-width="1.3" /><rect x="452.0" y="533.0" width="14.0" height="1.8" fill="#a0a0a0" /><ellipse cx="454.0" cy="522.0" rx="4.5" ry="2.3" fill="none" stroke="#a0a0a0" stroke-width="1.1"/><ellipse cx="456.0" cy="528.5" rx="4.0" ry="2.6" fill="none" stroke="#a0a0a0" stroke-width="1.1"/><polyline points="448.5,525.5 453.0,525.0 457.0,523.5 462.5,524.0" fill="none" stroke="#a0a0a0" stroke-width="1" /><polyline points="461.0,519.0 461.0,522.5" fill="none" stroke="#a0a0a0" stroke-width="1" /><polyline points="449.0,527.5 449.0,531.5" fill="none" stroke="#a0a0a0" stroke-width="1" /><polyline points="473.5,521.0 473.5,527.0 482.5,534.5 492.5,528.0 492.5,522.0" fill="none" stroke="#a0a0a0" stroke-width="1.1" /><polyline points="473.5,527.0 482.0,530.0 492.5,528.0" fill="none" stroke="#a0a0a0" stroke-width="0.8" /><polyline points="476.0,527.0 478.0,523.0 480.0,528.0 482.0,521.0 483.5,517.0 485.0,526.0 487.0,522.0 489.0,528.0" fill="none" stroke="#a0a0a0" stroke-width="1.1" /><polyline points="477.0,530.0 480.0,526.0 483.0,531.0 486.0,526.5 489.0,530.0" fill="none" stroke="#a0a0a0" stroke-width="1" /><polyline points="483.5,517.0 483.5,531.0" fill="none" stroke="#a0a0a0" stroke-width="1.2" /><polyline points="500.5,521.0 500.5,527.0 509.5,534.5 519.5,528.0 519.5,522.0" fill="none" stroke="#a0a0a0" stroke-width="1.1" /><polygon points="503.5,528.0 507.0,524.0 510.0,517.0 513.0,524.0 516.5,528.5 510.0,533.0" fill="#a0a0a0" /><polyline points="506.0,529.5 510.0,531.0 514.0,529.0" fill="none" stroke="#f5f6f7" stroke-width="0.8" /><rect x="526" y="516" width="1.2" height="22" fill="#a0a0a0"/><polyline points="533.0,532.0 536.0,532.0 538.5,528.0 540.0,521.0 541.5,528.0 543.0,531.0 545.0,530.0 547.0,521.0 548.5,529.0 551.0,532.0 553.0,532.0" fill="none" stroke="#a0a0a0" stroke-width="1.1" /><polyline points="540.2,518.0 540.2,535.0" fill="none" stroke="#a0a0a0" stroke-width="1.1" /><polygon points="541.2,523.0 541.2,532.0 543.3,530.0 545.0,533.5 546.0,533.0 544.6,529.5 546.5,529.0" fill="#a0a0a0" /><circle cx="567.0" cy="523.5" r="5.6" fill="#a0a0a0"/><rect x="564.8" y="522.8" width="7.9" height="6.4" fill="#f5f6f7" stroke="#a0a0a0" stroke-width="1" /><rect x="569.0" y="525.0" width="10.5" height="7.5" fill="#f5f6f7" stroke="#a0a0a0" stroke-width="1.2" /><polyline points="565.0,529.0 572.0,523.0" fill="none" stroke="#a0a0a0" stroke-width="1.2" /><polyline points="570.0,530.5 574.0,526.0 579.0,531.5" fill="none" stroke="#a0a0a0" stroke-width="1.2" /><polyline points="572.0,530.5 577.0,534.5" fill="none" stroke="#a0a0a0" stroke-width="2.2" /></svg>
<div class="t" style="left:806.5px;top:170.6px;font-size:12px;letter-spacing:0.213px;">402 nm</div>
<svg style="left:0px;top:0px" width="1320" height="1033" viewBox="0 0 1320 1033" ><path d="M379.0 430.8 V195.0 H764.7 V430.8" fill="none" stroke="#000" stroke-width="2"/><rect x="379.0" y="233.73" width="4" height="1.6" fill="#000"/><rect x="379.0" y="272.87" width="8" height="1.6" fill="#000"/><rect x="379.0" y="312.00" width="4" height="1.6" fill="#000"/><rect x="379.0" y="351.13" width="8" height="1.6" fill="#000"/><rect x="379.0" y="390.27" width="4" height="1.6" fill="#000"/><rect x="406.77" y="425.8" width="1.6" height="4" fill="#000"/><rect x="478.20" y="421.8" width="1.6" height="8" fill="#000"/><rect x="549.62" y="425.8" width="1.6" height="4" fill="#000"/><rect x="621.05" y="421.8" width="1.6" height="8" fill="#000"/><rect x="692.47" y="425.8" width="1.6" height="4" fill="#000"/><polyline points="378.6,366.1 380.7,366.2 382.8,366.6 384.9,367.2 387.1,367.9 389.3,368.9 391.5,370.2 393.7,371.9 395.9,373.6 397.9,375.5 399.9,377.7 401.8,380.1 403.6,382.3 405.3,384.4 406.8,386.6 408.4,388.6 410.1,390.2 412.0,391.4 414.2,392.4 416.5,393.3 418.8,394.2 421.0,395.1 423.3,396.0 425.6,396.9 427.7,397.9 429.6,399.1 431.3,400.3 432.9,401.7 434.4,403.1 435.9,404.6 437.3,406.1 438.7,407.7 440.1,409.2 441.7,410.7 443.6,412.2 445.5,413.6 447.5,414.9 449.5,415.9 451.3,416.9 453.1,417.8 455.0,418.5 457.2,418.8 459.9,418.9 462.8,419.0 465.9,419.1 468.8,419.1 471.7,419.1 474.6,419.1 477.4,419.1 480.3,419.1 483.2,418.9 486.0,418.3 488.9,417.6 491.8,416.8 494.7,415.8 497.5,414.6 500.4,413.2 503.3,411.8 506.1,410.4 509.0,408.8 511.9,407.2 514.8,405.4 517.6,403.3 520.5,401.1 523.4,398.6 526.2,396.0 529.1,393.1 532.0,390.0 534.9,386.6 537.7,382.9 540.6,378.8 543.5,374.3 546.3,369.4 549.2,364.2 552.1,358.7 555.0,352.8 557.8,346.4 560.7,339.9 563.6,333.1 566.4,326.1 569.3,318.9 572.2,311.5 575.0,304.1 577.9,296.4 580.8,288.6 583.7,280.9 586.5,273.4 589.5,265.8 592.4,258.3 595.3,251.3 597.9,245.3 600.4,240.0 602.7,235.1 605.1,230.7 607.4,226.6 610.0,222.6 612.6,218.9 614.9,215.8 616.9,213.6 618.6,212.0 620.1,210.7 621.4,209.7 622.6,209.2 623.6,208.9 624.5,208.6 625.4,208.5 626.4,208.4 627.7,208.6 629.1,209.0 630.6,209.6 632.1,210.3 633.5,211.2 634.9,212.6 636.3,214.3 637.9,216.3 639.5,218.8 641.4,222.2 643.4,226.3 645.4,231.1 647.6,236.7 650.0,243.8 652.5,251.9 654.9,260.2 657.3,268.3 659.7,276.9 662.1,285.7 664.5,294.4 666.9,303.1 669.3,312.0 671.7,320.8 674.1,329.2 676.5,337.1 678.8,344.6 681.2,351.8 683.6,358.6 686.0,365.1 688.3,371.1 690.7,376.8 693.1,382.3 695.7,387.6 698.5,392.7 701.4,397.6 704.4,402.2 707.3,406.3 710.1,410.1 713.0,413.6 715.9,416.7 718.7,419.3 721.6,421.6 724.5,423.7 727.4,425.5 730.2,426.7 732.9,427.6 735.5,428.4 738.3,429.0 741.8,429.3 746.2,429.4 751.4,429.5 757.5,429.6 764.1,429.6" fill="none" stroke="#0000ff" stroke-width="1.7" stroke-linejoin="round"/><rect x="379.0" y="428.8" width="386.7" height="2" fill="#008000"/><text transform="translate(374.00,205.60) scale(0.815,1)" font-size="23.4" text-anchor="end" font-family="Liberation Sans" fill="#000">1.5</text><text transform="translate(374.00,285.00) scale(0.815,1)" font-size="23.4" text-anchor="end" font-family="Liberation Sans" fill="#000">1</text><text transform="translate(374.00,363.30) scale(0.815,1)" font-size="23.4" text-anchor="end" font-family="Liberation Sans" fill="#000">0.5</text><text transform="translate(374.00,440.60) scale(0.815,1)" font-size="23.4" text-anchor="end" font-family="Liberation Sans" fill="#000">0</text><text transform="translate(325.70,334.60) scale(0.815,1)" font-size="23.4" text-anchor="middle" font-family="Liberation Sans" fill="#000">Abs</text><text transform="translate(378.30,464.80) scale(0.815,1)" font-size="23.4" text-anchor="middle" font-family="Liberation Sans" fill="#000">230</text><text transform="translate(478.10,464.80) scale(0.815,1)" font-size="23.4" text-anchor="middle" font-family="Liberation Sans" fill="#000">300</text><text transform="translate(620.50,464.80) scale(0.815,1)" font-size="23.4" text-anchor="middle" font-family="Liberation Sans" fill="#000">400</text><text transform="translate(764.00,464.80) scale(0.815,1)" font-size="23.4" text-anchor="middle" font-family="Liberation Sans" fill="#000">500</text><text transform="translate(570.50,494.40) scale(0.815,1)" font-size="23.4" text-anchor="middle" font-family="Liberation Sans" fill="#000">Wavelength [nm]</text></svg>
<svg style="left:0px;top:0px" width="1320" height="1033" viewBox="0 0 1320 1033" ><rect x="888.4" y="219.0" width="389.4" height="205.9" fill="none" stroke="#000" stroke-width="2"/><rect x="888.4" y="252.92" width="4" height="1.6" fill="#000"/><rect x="888.4" y="287.23" width="8" height="1.6" fill="#000"/><rect x="888.4" y="321.55" width="4" height="1.6" fill="#000"/><rect x="888.4" y="355.87" width="8" height="1.6" fill="#000"/><rect x="888.4" y="390.18" width="4" height="1.6" fill="#000"/><rect x="936.27" y="420.9" width="1.6" height="4" fill="#000"/><rect x="984.95" y="416.9" width="1.6" height="8" fill="#000"/><rect x="1033.62" y="420.9" width="1.6" height="4" fill="#000"/><rect x="1082.30" y="416.9" width="1.6" height="8" fill="#000"/><rect x="1130.98" y="420.9" width="1.6" height="4" fill="#000"/><rect x="1179.65" y="416.9" width="1.6" height="8" fill="#000"/><rect x="1228.33" y="420.9" width="1.6" height="4" fill="#000"/><polyline points="888.4,425.1 889.4,422.3 890.4,419.5 891.5,416.5 892.7,413.4 894.0,410.2 895.3,406.9 896.6,403.5 898.0,400.0 899.5,396.3 901.1,392.6 902.8,388.6 904.6,384.5 906.7,380.0 909.0,375.2 911.5,370.1 914.1,365.1 916.5,360.4 918.8,356.3 920.9,352.5 922.9,349.1 924.8,345.8 926.8,342.5 928.8,339.4 931.0,336.1 933.2,332.8 935.6,329.5 938.0,326.3 940.4,323.1 942.8,320.1 945.2,317.2 947.5,314.4 949.9,311.8 952.3,309.2 954.6,306.7 957.0,304.3 959.3,301.9 961.7,299.6 964.1,297.3 966.5,295.0 968.8,292.9 971.2,290.9 973.5,289.2 975.7,287.8 977.8,286.5 980.0,285.2 982.2,284.0 984.5,282.6 987.0,281.1 989.6,279.4 992.5,277.6 995.4,275.8 998.4,273.9 1001.3,272.2 1004.0,270.6 1006.8,269.2 1009.5,267.7 1012.2,266.4 1014.8,265.1 1017.5,263.9 1020.2,262.8 1022.9,261.7 1025.6,260.8 1028.3,259.8 1031.0,258.9 1033.7,258.1 1036.4,257.2 1039.1,256.3 1041.8,255.5 1044.5,254.7 1047.2,253.9 1049.9,253.1 1052.6,252.5 1055.3,251.8 1058.0,251.2 1060.7,250.6 1063.4,250.0 1066.1,249.4 1068.7,248.9 1071.3,248.5 1073.7,248.0 1076.3,247.6 1079.0,247.1 1082.1,246.6 1085.7,246.0 1089.9,245.2 1094.6,244.4 1099.6,243.5 1104.8,242.6 1109.9,241.8 1115.0,241.1 1120.2,240.3 1125.5,239.6 1130.9,238.9 1136.5,238.3 1142.2,237.7 1148.1,237.2 1154.4,236.8 1160.9,236.3 1167.5,235.9 1173.8,235.6 1179.8,235.2 1185.4,234.9 1190.7,234.6 1195.8,234.4 1200.8,234.1 1205.9,233.9 1211.1,233.6 1216.4,233.3 1221.7,233.1 1227.0,232.8 1232.4,232.5 1237.9,232.3 1243.4,232.0 1249.0,231.7 1254.7,231.5 1260.4,231.2 1266.1,230.9 1272.0,230.6 1277.8,230.4" fill="none" stroke="#008000" stroke-width="1.8" stroke-linejoin="round"/><text transform="translate(883.20,229.70) scale(0.815,1)" font-size="23.4" text-anchor="end" font-family="Liberation Sans" fill="#000">1.5</text><text transform="translate(883.20,300.40) scale(0.815,1)" font-size="23.4" text-anchor="end" font-family="Liberation Sans" fill="#000">1</text><text transform="translate(883.20,368.20) scale(0.815,1)" font-size="23.4" text-anchor="end" font-family="Liberation Sans" fill="#000">0.5</text><text transform="translate(883.20,435.80) scale(0.815,1)" font-size="23.4" text-anchor="end" font-family="Liberation Sans" fill="#000">0</text><text transform="translate(834.50,344.80) scale(0.815,1)" font-size="23.4" text-anchor="middle" font-family="Liberation Sans" fill="#000">Abs</text><text transform="translate(887.60,460.00) scale(0.815,1)" font-size="23.4" text-anchor="middle" font-family="Liberation Sans" fill="#000">0</text><text transform="translate(986.00,460.00) scale(0.815,1)" font-size="23.4" text-anchor="middle" font-family="Liberation Sans" fill="#000">50</text><text transform="translate(1083.00,460.00) scale(0.815,1)" font-size="23.4" text-anchor="middle" font-family="Liberation Sans" fill="#000">100</text><text transform="translate(1180.70,460.00) scale(0.815,1)" font-size="23.4" text-anchor="middle" font-family="Liberation Sans" fill="#000">150</text><text transform="translate(1277.00,460.00) scale(0.815,1)" font-size="23.4" text-anchor="middle" font-family="Liberation Sans" fill="#000">200</text><text transform="translate(1082.70,490.50) scale(0.815,1)" font-size="23.4" text-anchor="middle" font-family="Liberation Sans" fill="#000">Time [min]</text></svg>
<svg style="left:0px;top:0px" width="1320" height="1033" viewBox="0 0 1320 1033" ><rect x="8" y="1005" width="1304" height="1" fill="#dcdcdc"/><rect x="8" y="1004" width="281" height="1" fill="#a0a0a0"/><rect x="8" y="1005" width="281" height="1" fill="#fff"/><rect x="890" y="1008" width="1" height="16" fill="#d0d0d0"/><rect x="891" y="1008" width="1" height="16" fill="#fff"/><rect x="921" y="1008" width="1" height="16" fill="#d0d0d0"/><rect x="922" y="1008" width="1" height="16" fill="#fff"/><rect x="957" y="1008" width="1" height="16" fill="#d0d0d0"/><rect x="958" y="1008" width="1" height="16" fill="#fff"/><rect x="996" y="1008" width="1" height="16" fill="#d0d0d0"/><rect x="997" y="1008" width="1" height="16" fill="#fff"/><rect x="1292" y="1008" width="1" height="16" fill="#d0d0d0"/><rect x="1293" y="1008" width="1" height="16" fill="#fff"/><rect x="1308" y="1021" width="2" height="2" fill="#bfbfbf"/><rect x="1305" y="1021" width="2" height="2" fill="#bfbfbf"/><rect x="1302" y="1021" width="2" height="2" fill="#bfbfbf"/><rect x="1308" y="1018" width="2" height="2" fill="#bfbfbf"/><rect x="1305" y="1018" width="2" height="2" fill="#bfbfbf"/><rect x="1308" y="1015" width="2" height="2" fill="#bfbfbf"/></svg>
<div class="t" style="left:10.5px;top:1010.8px;font-size:12.5px;letter-spacing:-0.126px;">Ready</div>
<div class="t" style="left:926.3px;top:1010.8px;font-size:12.5px;letter-spacing:-0.422px;">NUM</div>
<div class="t" style="left:1001.3px;top:1010.8px;font-size:12.5px;letter-spacing:0.168px;">205.128, 1.63835</div>
<svg style="left:0px;top:0px" width="1320" height="1033" viewBox="0 0 1320 1033" ><g fill-rule="evenodd" shape-rendering="crispEdges"><path fill="#b500ff" d="M906.8 636.2 904.8 634.2 902.8 633.2 900.2 633.2 858.8 667.2 843.2 681.8 821.8 706.2 810.8 720.8 810.2 722.2 799.8 738.2 789.2 758.8 789.2 759.8 787.2 763.8 786.2 764.8 785.2 764.8 782.2 761.2 780.8 758.2 780.8 756.8 777.8 750.8 776.2 745.8 774.8 743.8 773.2 740.2 771.2 737.2 766.8 732.8 764.8 732.2 733.2 753.8 721.8 762.2 716.8 765.2 715.2 766.8 711.8 768.8 710.2 770.2 706.8 772.2 678.8 792.2 652.2 812.2 636.8 825.2 626.8 835.2 624.8 840.2 624.2 847.2 623.8 847.8 623.2 890.2 624.2 891.2 630.8 892.8 644.2 897.2 652.8 899.2 656.2 900.8 657.8 900.8 664.8 903.2 673.2 905.2 686.8 909.8 695.2 911.8 712.2 917.2 720.8 919.2 729.2 922.2 737.8 924.2 746.2 927.2 751.2 928.2 754.8 929.8 756.2 929.8 766.8 933.2 768.2 933.2 771.8 934.8 780.2 936.8 793.8 941.2 795.2 941.2 805.8 944.8 810.8 945.8 814.2 947.2 815.8 947.2 819.2 948.8 820.8 948.8 831.2 952.2 832.8 952.2 836.2 953.8 837.8 953.8 886.2 920.8 887.8 919.2 894.2 915.2 910.2 903.8 916.8 899.8 918.2 898.2 924.8 894.2 926.2 892.8 932.8 888.8 934.2 887.2 940.8 883.2 942.2 881.8 948.8 877.8 950.2 876.2 971.2 862.2 972.8 860.8 977.8 857.8 978.8 856.8 978.2 855.2 964.8 850.8 960.2 847.2 957.2 843.8 955.8 840.8 952.8 836.8 952.8 835.8 949.2 829.2 948.8 826.8 947.2 824.2 947.2 823.2 946.2 821.8 946.2 820.2 945.2 818.8 944.2 814.8 942.8 811.8 942.2 808.2 940.2 803.2 939.8 799.2 936.2 786.8 936.2 784.2 934.2 777.2 933.2 769.8 932.8 769.2 932.8 767.2 932.2 766.8 932.2 764.8 931.2 761.8 931.2 759.2 930.8 758.8 930.8 756.8 929.8 753.8 929.8 750.8 929.2 750.2 928.2 741.8 927.8 741.2 927.2 736.2 926.8 735.8 926.8 732.2 926.2 731.8 926.2 729.2 925.8 728.8 925.8 726.2 925.2 725.8 925.2 723.2 924.8 722.8 924.8 720.2 924.2 719.8 924.2 717.2 923.2 713.8 923.2 710.2 922.8 709.8 922.8 707.2 922.2 706.8 922.2 704.2 921.8 703.8 921.8 701.2 921.2 700.8 921.2 698.2 920.2 694.8 920.2 691.8 919.8 691.2 919.8 688.8 919.2 688.2 918.8 683.2 917.8 680.2 917.8 677.8 916.8 674.8 916.8 671.2 916.2 670.8 915.2 663.8 914.2 661.2 914.2 659.2 913.8 658.8 913.8 656.8 913.2 656.2 912.2 650.8 910.2 645.8 910.2 644.2Z"/><path fill="#a200ff" d="M906.8 636.2 904.8 634.2 902.8 633.2 900.2 633.2 858.8 667.2 843.2 681.8 821.8 706.2 810.8 720.8 810.2 722.2 799.8 738.2 789.2 758.8 789.2 759.8 787.2 763.8 786.2 764.8 785.2 764.8 782.2 761.2 780.8 758.2 780.8 756.8 777.8 750.8 776.2 745.8 774.8 743.8 773.2 740.2 771.2 737.2 766.8 732.8 764.8 732.2 733.2 753.8 721.8 762.2 716.8 765.2 715.2 766.8 711.8 768.8 710.2 770.2 706.8 772.2 678.8 792.2 652.2 812.2 636.8 825.2 626.8 835.2 624.8 840.2 624.2 847.2 623.8 847.8 623.8 865.2 623.2 865.8 623.2 884.2 623.8 885.2 627.2 886.8 629.2 886.8 633.8 888.8 635.8 888.8 640.2 890.8 642.2 890.8 643.8 891.8 645.8 891.8 647.2 892.8 651.2 893.2 653.8 894.2 656.2 894.2 658.8 895.2 660.8 895.2 662.8 896.2 668.8 897.2 670.2 898.2 672.2 898.2 674.2 899.2 676.8 899.2 679.2 900.8 688.8 902.8 693.2 904.8 696.8 905.8 698.8 905.8 702.8 907.8 706.8 908.2 714.2 911.2 716.2 911.2 727.2 914.8 728.8 914.8 734.2 917.2 746.2 919.8 747.8 920.8 752.8 921.8 755.8 923.2 757.2 923.2 758.8 924.2 763.8 925.2 769.8 927.8 773.2 928.2 774.8 929.2 777.8 929.8 780.8 931.2 782.8 931.2 786.8 933.2 791.8 933.8 794.2 935.8 798.2 936.2 802.8 938.8 804.2 938.8 806.8 940.2 808.2 940.2 809.8 941.2 815.2 942.8 816.8 943.8 818.2 943.8 828.8 947.2 837.2 949.2 840.2 950.8 842.2 950.8 870.2 931.8 871.8 930.2 878.2 926.2 879.8 924.8 886.2 920.8 887.8 919.2 894.2 915.2 902.2 909.2 908.8 905.2 910.2 903.8 916.8 899.8 918.2 898.2 924.8 894.2 926.2 892.8 932.8 888.8 934.2 887.2 940.8 883.2 942.2 881.8 948.8 877.8 956.8 871.8 963.2 867.8 964.8 866.2 971.2 862.2 972.8 860.8 977.8 857.8 978.8 856.8 978.2 855.2 964.8 850.8 960.2 847.2 957.2 843.8 955.8 840.8 952.8 836.8 952.8 835.8 949.2 829.2 948.8 826.8 947.2 824.2 947.2 823.2 946.2 821.8 946.2 820.2 945.2 818.8 944.2 814.8 942.8 811.8 942.2 808.2 940.2 803.2 939.8 799.2 936.2 786.8 936.2 784.2 934.2 777.2 933.2 769.8 932.8 769.2 932.8 767.2 932.2 766.8 932.2 764.8 931.2 761.8 931.2 759.2 930.8 758.8 930.8 756.8 929.8 753.8 929.8 750.8 929.2 750.2 928.2 741.8 927.8 741.2 927.2 736.2 926.8 735.8 926.8 732.2 926.2 731.8 926.2 729.2 925.8 728.8 925.8 726.2 925.2 725.8 925.2 723.2 924.8 722.8 924.8 720.2 924.2 719.8 924.2 717.2 923.2 713.8 923.2 710.2 922.8 709.8 922.8 707.2 922.2 706.8 922.2 704.2 921.8 703.8 921.8 701.2 921.2 700.8 921.2 698.2 920.2 694.8 920.2 691.8 919.8 691.2 919.8 688.8 919.2 688.2 918.8 683.2 917.8 680.2 917.8 677.8 916.8 674.8 916.8 671.2 916.2 670.8 915.2 663.8 914.2 661.2 914.2 659.2 913.8 658.8 913.8 656.8 913.2 656.2 912.2 650.8 910.2 645.8 910.2 644.2Z"/><path fill="#8f00ff" d="M906.8 636.2 904.8 634.2 902.8 633.2 900.2 633.2 858.8 667.2 843.2 681.8 821.8 706.2 810.8 720.8 810.2 722.2 799.8 738.2 789.2 758.8 789.2 759.8 787.2 763.8 786.2 764.8 785.2 764.8 782.2 761.2 780.8 758.2 780.8 756.8 777.8 750.8 776.2 745.8 774.8 743.8 773.2 740.2 771.2 737.2 766.8 732.8 764.8 732.2 733.2 753.8 721.8 762.2 716.8 765.2 715.2 766.8 711.8 768.8 710.2 770.2 706.8 772.2 678.8 792.2 661.2 805.2 640.8 821.8 626.8 835.2 625.2 838.2 624.8 842.2 624.2 842.8 624.2 847.2 623.8 847.8 623.8 865.2 623.2 865.8 623.2 882.2 623.8 883.2 631.8 886.2 633.8 886.2 636.8 887.8 638.8 887.8 644.8 890.2 646.2 890.2 650.8 891.8 661.8 893.2 663.8 894.2 666.8 894.2 673.8 896.8 679.8 897.8 682.2 899.2 686.2 899.8 692.8 902.2 695.2 902.2 697.8 903.8 701.2 904.2 702.8 905.2 706.2 905.8 709.2 907.2 714.2 908.2 720.8 910.8 722.2 910.8 731.2 913.8 734.8 914.2 739.2 916.2 743.2 916.8 750.8 919.2 752.2 919.2 759.8 922.2 761.8 922.2 764.2 923.8 769.2 924.8 778.2 928.2 780.2 928.2 782.8 929.8 791.2 932.2 794.2 933.8 797.2 934.2 798.8 935.2 801.2 935.8 803.8 937.2 807.8 938.2 809.2 939.2 810.8 939.2 812.2 940.2 814.8 940.2 819.2 941.8 824.2 941.8 824.8 942.2 843.8 941.8 844.2 941.2 850.2 940.8 851.8 939.8 853.2 939.8 854.8 938.8 855.8 938.8 864.8 933.8 866.2 932.2 872.2 928.8 880.2 922.8 884.8 921.8 902.2 909.2 908.8 905.2 910.2 903.8 916.8 899.8 918.2 898.2 924.8 894.2 926.2 892.8 977.8 857.8 978.8 856.8 978.2 855.2 964.8 850.8 960.2 847.2 957.2 843.8 955.8 840.8 952.8 836.8 952.8 835.8 949.2 829.2 948.8 826.8 947.2 824.2 947.2 823.2 946.2 821.8 946.2 820.2 945.2 818.8 944.2 814.8 942.8 811.8 942.2 808.2 940.2 803.2 939.8 799.2 936.2 786.8 936.2 784.2 934.2 777.2 933.2 769.8 932.8 769.2 932.8 767.2 932.2 766.8 932.2 764.8 931.2 761.8 931.2 759.2 930.8 758.8 930.8 756.8 929.8 753.8 929.8 750.8 929.2 750.2 928.2 741.8 927.8 741.2 927.2 736.2 926.8 735.8 926.8 732.2 926.2 731.8 926.2 729.2 925.8 728.8 925.8 726.2 925.2 725.8 925.2 723.2 924.8 722.8 924.8 720.2 924.2 719.8 924.2 717.2 923.2 713.8 923.2 710.2 922.8 709.8 922.8 707.2 922.2 706.8 922.2 704.2 921.8 703.8 921.8 701.2 921.2 700.8 921.2 698.2 920.2 694.8 920.2 691.8 919.8 691.2 919.8 688.8 919.2 688.2 918.8 683.2 917.8 680.2 917.8 677.8 916.8 674.8 916.8 671.2 916.2 670.8 915.2 663.8 914.2 661.2 914.2 659.2 913.8 658.8 913.8 656.8 913.2 656.2 912.2 650.8 910.2 645.8 910.2 644.2Z"/><path fill="#7c00ff" d="M906.8 636.2 904.8 634.2 902.8 633.2 900.2 633.2 858.8 667.2 843.2 681.8 821.8 706.2 810.8 720.8 810.2 722.2 799.8 738.2 789.2 758.8 789.2 759.8 787.2 763.8 786.2 764.8 785.2 764.8 782.2 761.2 780.8 758.2 780.8 756.8 777.8 750.8 776.2 745.8 774.8 743.8 773.2 740.2 771.2 737.2 766.8 732.8 764.8 732.2 733.2 753.8 721.8 762.2 716.8 765.2 715.2 766.8 711.8 768.8 710.2 770.2 706.8 772.2 678.8 792.2 661.2 805.2 640.8 821.8 626.8 835.2 625.2 838.2 624.8 842.2 624.2 842.8 624.2 847.2 623.8 847.8 623.8 865.2 623.2 865.8 623.2 879.8 625.2 882.2 627.2 882.2 628.8 883.2 630.2 883.2 646.8 888.8 654.2 889.8 654.8 890.2 657.8 890.2 658.2 890.8 661.2 890.8 663.2 891.8 667.8 892.2 671.2 893.8 675.2 894.2 675.8 894.8 678.2 894.8 681.2 896.2 683.8 896.2 687.8 897.8 689.2 897.8 694.8 900.2 696.2 900.2 699.8 901.8 701.2 901.8 702.8 902.8 704.2 902.8 709.2 904.8 710.8 904.8 715.2 906.8 717.8 906.8 722.8 908.8 731.2 910.8 734.2 912.2 740.2 913.2 746.2 915.8 753.2 917.2 758.2 919.2 759.8 919.2 762.8 920.8 767.2 921.8 773.2 924.2 776.8 924.8 779.2 926.2 783.2 927.2 789.8 930.2 792.2 930.2 793.2 931.2 796.2 931.8 797.8 932.8 800.2 933.2 802.8 934.8 808.8 936.8 810.2 936.8 810.8 937.2 820.8 937.2 829.8 934.2 849.2 923.2 855.2 918.8 859.2 916.8 878.2 903.8 882.8 901.2 889.2 896.2 896.8 891.8 898.2 890.2 913.8 880.2 915.2 878.8 942.8 860.2 944.2 858.8 959.8 848.8 960.2 847.2 957.2 843.8 955.8 840.8 952.8 836.8 952.8 835.8 949.2 829.2 948.8 826.8 947.2 824.2 947.2 823.2 946.2 821.8 946.2 820.2 943.2 813.2 942.2 808.2 939.8 801.2 939.8 799.2 936.2 786.8 936.2 784.2 934.2 777.2 933.2 769.8 932.8 769.2 932.8 767.2 932.2 766.8 932.2 764.8 931.2 761.8 931.2 759.2 930.8 758.8 930.8 756.8 929.8 753.8 929.8 750.8 929.2 750.2 928.2 741.8 927.8 741.2 927.2 736.2 926.8 735.8 926.8 732.2 926.2 731.8 926.2 729.2 925.8 728.8 925.8 726.2 925.2 725.8 925.2 723.2 924.8 722.8 924.8 720.2 924.2 719.8 924.2 717.2 923.2 713.8 923.2 710.2 922.8 709.8 922.8 707.2 922.2 706.8 922.2 704.2 921.8 703.8 921.8 701.2 921.2 700.8 921.2 698.2 920.2 694.8 920.2 691.8 919.8 691.2 919.8 688.8 919.2 688.2 918.8 683.2 917.8 680.2 917.8 677.8 916.8 674.8 916.8 671.2 916.2 670.8 916.2 668.8 915.8 668.2 915.8 666.2 915.2 665.8 915.2 663.8 914.2 661.2 914.2 659.2 913.8 658.8 913.8 656.8 913.2 656.2 912.2 650.8 910.2 645.8 909.8 642.8Z"/><path fill="#6900ff" d="M906.8 636.2 904.8 634.2 902.8 633.2 900.2 633.2 858.8 667.2 843.2 681.8 821.8 706.2 810.8 720.8 810.2 722.2 799.8 738.2 789.2 758.8 789.2 759.8 787.2 763.8 786.2 764.8 785.2 764.8 782.2 761.2 780.8 758.2 780.8 756.8 777.8 750.8 776.2 745.8 774.8 743.8 773.2 740.2 771.2 737.2 766.8 732.8 764.8 732.2 733.2 753.8 721.8 762.2 716.8 765.2 694.8 781.2 691.2 783.2 661.2 805.2 644.2 818.8 636.8 825.2 626.8 835.2 625.2 838.2 624.8 842.2 624.2 842.8 624.2 847.2 623.8 847.8 623.8 865.2 623.2 865.8 623.2 877.8 624.8 879.8 628.8 880.8 630.2 881.8 633.8 882.2 636.8 883.8 638.8 883.8 640.2 884.8 644.8 885.8 646.2 886.8 648.8 886.8 651.2 887.8 656.2 887.8 656.8 888.2 662.8 888.8 663.2 889.2 667.8 889.8 670.2 890.8 672.2 890.8 674.2 891.8 678.2 892.2 679.8 893.2 682.2 893.2 688.2 895.8 692.2 896.2 695.2 897.8 699.8 898.8 701.2 899.8 703.2 899.8 709.2 902.2 712.8 902.8 715.2 904.2 717.8 904.2 722.8 906.2 729.8 907.8 734.2 909.8 738.2 910.2 741.2 911.8 745.2 912.2 747.2 913.2 754.2 914.8 756.8 916.2 758.2 916.2 760.2 917.2 762.2 917.2 765.8 919.2 767.2 919.2 770.2 920.8 774.8 921.8 777.2 923.2 782.8 924.8 786.8 926.8 789.2 926.8 791.2 928.2 792.8 928.2 794.2 929.2 796.8 929.8 800.8 931.8 802.2 931.8 803.8 932.8 808.2 933.2 808.8 933.8 814.2 933.8 814.8 933.2 819.2 932.8 827.8 929.8 830.8 927.8 836.2 925.2 837.2 924.2 841.8 922.2 862.2 908.8 863.8 908.2 868.2 904.8 869.8 904.2 875.8 899.8 883.2 895.2 889.8 890.2 892.2 889.2 905.2 879.8 909.2 877.8 910.8 876.2 935.2 859.8 941.8 854.8 955.8 845.8 957.2 844.2 957.2 843.2 952.8 836.8 952.8 835.8 949.2 829.2 948.8 826.8 946.2 821.8 946.2 820.2 943.2 813.2 942.2 808.2 940.2 803.2 939.8 799.2 936.2 786.8 936.2 784.2 934.2 777.2 933.2 769.8 932.8 769.2 932.8 767.2 932.2 766.8 932.2 764.8 931.2 761.8 931.2 759.2 930.8 758.8 930.8 756.8 929.8 753.8 929.8 750.8 929.2 750.2 928.2 741.8 927.8 741.2 927.2 736.2 926.8 735.8 926.8 732.2 926.2 731.8 926.2 729.2 925.8 728.8 925.8 726.2 925.2 725.8 925.2 723.2 924.8 722.8 924.8 720.2 924.2 719.8 924.2 717.2 923.2 713.8 923.2 710.2 922.8 709.8 922.8 707.2 922.2 706.8 922.2 704.2 921.8 703.8 921.8 701.2 921.2 700.8 921.2 698.2 920.2 694.8 920.2 691.8 919.8 691.2 919.8 688.8 919.2 688.2 918.8 683.2 917.8 680.2 917.8 677.8 916.8 674.8 916.8 671.2 916.2 670.8 916.2 668.8 915.8 668.2 915.8 666.2 915.2 665.8 915.2 663.8 914.2 661.2 914.2 659.2 913.8 658.8 913.8 656.8 913.2 656.2 912.2 650.8 910.2 645.8 909.8 642.8Z"/><path fill="#5500ff" d="M906.8 636.2 904.8 634.2 902.8 633.2 900.2 633.2 858.8 667.2 843.2 681.8 821.8 706.2 810.8 720.8 810.2 722.2 799.8 738.2 789.2 758.8 789.2 759.8 787.2 763.8 786.2 764.8 785.2 764.8 782.2 761.2 780.8 758.2 780.8 756.8 777.8 750.8 776.2 745.8 774.8 743.8 773.2 740.2 771.2 737.2 766.8 732.8 764.8 732.2 733.2 753.8 721.8 762.2 716.8 765.2 694.8 781.2 691.2 783.2 661.2 805.2 644.2 818.8 636.8 825.2 626.8 835.2 625.2 838.2 624.8 842.2 624.2 842.8 624.2 847.2 623.8 847.8 623.8 865.2 623.2 865.8 623.2 875.2 624.2 877.2 648.2 885.2 653.8 885.2 654.2 885.8 662.2 886.2 662.8 886.8 668.2 887.2 672.8 888.8 677.2 889.2 680.8 890.8 683.2 890.8 685.8 892.2 687.2 892.2 690.8 893.8 693.2 893.8 694.2 894.8 697.8 895.2 699.2 896.2 700.8 896.2 702.2 897.2 703.8 897.2 708.2 899.2 709.8 899.2 714.8 901.2 716.2 901.2 722.2 903.8 729.2 905.2 731.2 906.2 735.2 906.8 736.8 907.8 740.2 908.2 743.8 909.8 746.2 909.8 747.8 910.8 751.8 911.2 755.8 913.2 757.8 913.2 761.8 915.2 763.2 915.2 764.8 916.2 769.2 917.2 771.8 918.8 775.8 919.8 777.2 920.8 780.2 921.2 782.8 922.8 787.2 923.8 791.8 926.2 794.8 926.8 800.2 929.2 802.8 929.2 803.2 929.8 812.8 929.8 813.2 929.2 819.2 928.2 820.8 927.2 824.2 926.2 835.2 920.8 839.8 917.8 843.2 916.2 847.2 913.2 849.8 912.2 867.8 900.2 869.2 899.8 885.8 888.2 887.2 887.8 893.8 882.8 897.8 880.8 907.8 873.2 919.8 865.8 921.2 864.2 939.2 852.2 945.8 847.2 954.8 841.8 955.2 840.2 952.8 836.8 952.8 835.8 949.2 829.2 948.8 826.8 947.2 824.2 947.2 823.2 946.2 821.8 946.2 820.2 943.2 813.2 942.2 808.2 940.2 803.2 939.8 799.2 939.2 798.8 936.8 787.2 936.2 786.8 936.2 784.2 934.2 777.2 933.2 769.8 932.8 769.2 932.8 767.2 932.2 766.8 932.2 764.8 931.2 761.8 931.2 759.2 930.8 758.8 930.8 756.8 929.8 753.8 929.8 750.8 929.2 750.2 928.2 741.8 927.8 741.2 927.2 736.2 926.8 735.8 926.8 732.2 926.2 731.8 926.2 729.2 925.8 728.8 925.8 726.2 925.2 725.8 925.2 723.2 924.8 722.8 924.8 720.2 924.2 719.8 924.2 717.2 923.2 713.8 923.2 710.2 922.8 709.8 922.8 707.2 922.2 706.8 922.2 704.2 921.8 703.8 921.8 701.2 921.2 700.8 921.2 698.2 920.2 694.8 920.2 691.8 919.8 691.2 919.8 688.8 919.2 688.2 918.8 683.2 917.8 680.2 917.8 677.8 916.8 674.8 916.8 671.2 916.2 670.8 916.2 668.8 915.8 668.2 915.8 666.2 915.2 665.8 915.2 663.8 914.2 661.2 914.2 659.2 913.8 658.8 913.8 656.8 913.2 656.2 912.2 650.8 910.2 645.8 909.8 642.8Z"/><path fill="#4200ff" d="M906.8 636.2 904.8 634.2 902.8 633.2 900.2 633.2 858.8 667.2 843.2 681.8 821.8 706.2 810.8 720.8 810.2 722.2 799.8 738.2 789.2 758.8 789.2 759.8 787.2 763.8 786.2 764.8 785.2 764.8 782.2 761.2 780.8 758.2 780.8 756.8 777.8 750.8 776.2 745.8 774.8 743.8 773.2 740.2 771.2 737.2 766.8 732.8 764.8 732.2 733.2 753.8 721.8 762.2 716.8 765.2 694.8 781.2 691.2 783.2 661.2 805.2 644.2 818.8 636.8 825.2 626.8 835.2 625.2 838.2 624.8 842.2 624.2 842.8 624.2 847.2 623.8 847.8 623.8 865.2 623.2 865.8 623.2 873.2 625.2 875.8 626.2 875.8 627.8 876.8 631.2 877.2 635.8 879.2 638.8 879.8 642.2 881.2 643.8 881.2 645.2 882.2 646.8 882.2 648.8 883.2 663.2 883.8 663.8 884.2 666.8 884.2 669.2 885.2 671.8 885.2 676.2 886.8 678.2 886.8 681.8 888.2 684.2 888.2 686.8 889.8 691.2 890.2 693.8 891.8 695.2 891.8 704.2 894.8 705.8 895.8 708.8 896.2 713.8 898.2 715.2 898.2 724.8 901.8 726.8 901.8 728.8 902.8 732.8 903.2 735.8 904.8 739.2 905.2 740.8 906.2 742.8 906.2 746.2 907.8 756.8 910.2 758.2 911.2 762.8 912.2 766.2 914.2 767.8 914.2 770.8 915.8 772.8 915.8 773.8 916.8 777.2 918.2 779.8 918.2 782.8 920.2 784.8 920.2 790.8 923.2 796.8 925.2 800.8 925.8 801.2 926.2 808.2 926.2 808.8 925.8 813.8 925.2 821.2 922.8 822.8 921.8 826.2 920.8 828.2 919.2 830.2 918.8 837.8 914.8 844.2 910.2 846.8 909.2 853.2 904.8 857.2 902.8 870.2 893.8 874.8 891.2 877.8 888.8 880.2 887.8 885.2 883.8 900.2 874.2 911.8 865.8 917.2 862.8 941.8 845.2 952.2 838.8 953.2 837.2 949.2 829.2 948.8 826.8 947.2 824.2 947.2 823.2 946.2 821.8 946.2 820.2 943.2 813.2 942.2 808.2 940.2 803.2 939.8 799.2 939.2 798.8 936.8 787.2 936.2 786.8 936.2 784.2 934.2 777.2 933.2 769.8 932.8 769.2 932.8 767.2 932.2 766.8 932.2 764.8 931.2 761.8 931.2 759.2 930.8 758.8 930.8 756.8 929.8 753.8 929.8 750.8 929.2 750.2 928.2 741.8 927.8 741.2 927.2 736.2 926.8 735.8 926.8 732.2 926.2 731.8 926.2 729.2 925.8 728.8 925.8 726.2 925.2 725.8 925.2 723.2 924.8 722.8 924.8 720.2 924.2 719.8 924.2 717.2 923.2 713.8 923.2 710.2 922.8 709.8 922.8 707.2 922.2 706.8 922.2 704.2 921.8 703.8 921.8 701.2 921.2 700.8 921.2 698.2 920.2 694.8 920.2 691.8 919.8 691.2 919.8 688.8 919.2 688.2 918.8 683.2 917.8 680.2 917.8 677.8 916.8 674.8 916.8 671.2 916.2 670.8 916.2 668.8 915.8 668.2 915.8 666.2 915.2 665.8 915.2 663.8 914.2 661.2 914.2 659.2 913.8 658.8 913.8 656.8 913.2 656.2 912.2 650.8 910.2 645.8 909.8 642.8ZM758.8 829.8 758.2 832.2 757.2 833.8 755.2 839.8 750.8 849.2 748.8 850.8 748.2 850.2 745.2 850.2 741.8 851.2 738.2 851.2 733.2 846.8 733.2 845.8 734.2 844.8 740.8 840.8 747.2 835.8 749.8 834.8 757.2 829.2Z"/><path fill="#2e00ff" d="M906.8 636.2 904.8 634.2 902.8 633.2 900.2 633.2 858.8 667.2 843.2 681.8 821.8 706.2 810.8 720.8 810.2 722.2 799.8 738.2 789.2 758.8 789.2 759.8 787.2 763.8 786.2 764.8 785.2 764.8 782.2 761.2 780.8 758.2 780.8 756.8 777.8 750.8 776.2 745.8 774.8 743.8 773.2 740.2 771.2 737.2 766.8 732.8 764.8 732.2 733.2 753.8 721.8 762.2 716.8 765.2 694.8 781.2 691.2 783.2 661.2 805.2 644.2 818.8 636.8 825.2 626.8 835.2 625.2 838.2 624.8 842.2 624.2 842.8 624.2 847.2 623.8 847.8 623.8 865.2 623.2 865.8 623.2 870.2 623.8 871.8 627.2 874.2 631.8 875.2 633.2 876.2 635.2 876.2 640.8 878.8 642.8 878.8 644.2 879.8 645.8 879.8 649.2 881.2 650.8 881.2 651.2 880.8 664.2 881.2 664.8 881.8 670.8 882.2 675.2 883.8 681.8 884.8 683.2 885.8 690.2 887.2 691.8 888.2 694.8 888.8 697.8 890.2 700.8 890.8 702.2 891.8 708.2 893.8 709.8 893.8 711.2 894.8 712.8 894.8 714.2 895.8 724.8 898.2 729.2 900.2 734.8 901.2 740.2 903.2 742.2 903.2 743.8 904.2 745.2 904.2 751.2 906.2 752.8 906.2 754.8 907.2 756.2 907.2 758.8 908.8 760.2 908.8 761.8 909.8 765.8 910.8 768.2 912.2 772.2 913.2 777.8 915.8 779.8 915.8 781.8 917.2 784.2 917.8 789.2 920.2 793.8 921.8 796.2 921.8 799.2 922.8 807.8 922.2 808.2 921.8 810.2 921.8 814.2 920.2 815.8 920.2 818.2 918.8 822.2 917.8 827.8 915.2 830.8 913.2 831.8 913.2 835.8 911.2 839.2 908.8 841.8 907.8 843.2 906.2 848.2 903.8 866.2 891.8 867.8 891.2 873.8 886.8 876.2 885.8 879.8 882.8 894.8 873.2 901.2 868.2 905.2 866.2 928.2 849.8 932.2 847.8 951.2 834.2 951.2 832.8 949.2 829.2 948.8 826.8 947.2 824.2 947.2 823.2 946.2 821.8 946.2 820.2 945.2 818.8 944.2 814.8 942.8 811.8 942.2 808.2 940.2 803.2 939.8 799.2 936.2 786.8 936.2 784.2 934.2 777.2 933.2 769.8 932.8 769.2 932.8 767.2 932.2 766.8 932.2 764.8 931.2 761.8 931.2 759.2 930.8 758.8 930.8 756.8 929.8 753.8 929.8 750.8 929.2 750.2 928.2 741.8 927.8 741.2 927.2 736.2 926.8 735.8 926.8 732.2 926.2 731.8 926.2 729.2 925.8 728.8 925.8 726.2 925.2 725.8 925.2 723.2 924.8 722.8 924.8 720.2 924.2 719.8 924.2 717.2 923.2 713.8 923.2 710.2 922.8 709.8 922.8 707.2 922.2 706.8 922.2 704.2 921.8 703.8 921.8 701.2 921.2 700.8 921.2 698.2 920.2 694.8 920.2 691.8 919.8 691.2 919.8 688.8 919.2 688.2 918.8 683.2 917.8 680.2 917.8 677.8 916.8 674.8 916.8 671.2 916.2 670.8 916.2 668.8 915.8 668.2 915.8 666.2 915.2 665.8 915.2 663.8 914.2 661.2 914.2 659.2 913.8 658.8 913.8 656.8 913.2 656.2 912.2 650.8 910.2 645.8 909.8 642.8ZM762.8 820.2 762.8 821.2 761.2 823.8 761.2 824.8 760.2 826.2 755.2 839.8 750.8 849.2 748.8 850.8 748.2 850.2 745.2 850.2 741.8 851.2 738.2 851.2 733.2 847.2 726.8 846.2 725.8 845.2 726.2 843.8 731.2 840.8 732.8 839.2 744.2 831.8 761.2 819.8Z"/><path fill="#1a00ff" d="M906.8 636.2 904.8 634.2 902.8 633.2 900.2 633.2 858.8 667.2 843.2 681.8 821.8 706.2 810.8 720.8 810.2 722.2 799.8 738.2 789.2 758.8 789.2 759.8 787.2 763.8 786.2 764.8 785.2 764.8 782.2 761.2 780.8 758.2 780.8 756.8 777.8 750.8 776.2 745.8 774.8 743.8 773.2 740.2 771.2 737.2 766.8 732.8 764.8 732.2 733.2 753.8 721.8 762.2 716.8 765.2 694.8 781.2 691.2 783.2 661.2 805.2 644.2 818.8 636.8 825.2 626.8 835.2 625.2 838.2 624.8 842.2 624.2 842.8 624.2 847.2 623.8 847.8 623.8 865.2 623.2 865.8 623.2 867.8 624.2 870.2 625.2 871.2 626.8 871.2 628.2 872.2 632.8 873.2 635.8 874.8 637.2 874.8 638.8 875.8 640.2 875.8 641.8 876.8 643.2 876.8 648.2 878.8 654.2 878.8 654.8 878.2 665.8 878.8 669.2 879.8 672.8 879.8 673.2 880.2 678.8 881.2 682.2 882.8 687.2 883.2 692.8 885.8 694.8 885.8 701.8 888.8 704.8 889.2 706.2 890.2 709.2 890.8 715.2 893.2 717.2 893.2 723.2 895.8 724.8 895.8 728.8 897.2 730.8 897.2 733.8 898.8 735.8 898.8 741.2 900.8 743.2 900.8 744.8 901.8 746.8 901.8 752.2 903.8 754.2 903.8 755.8 904.8 757.2 904.8 758.8 905.8 761.8 906.2 767.8 909.2 772.2 909.8 776.8 912.8 779.8 913.2 782.2 914.8 787.8 916.2 791.8 918.2 793.8 918.2 796.8 919.2 797.2 918.8 797.8 919.2 798.8 918.8 804.2 918.8 806.2 917.8 809.2 917.8 811.2 916.8 812.8 916.8 823.2 912.2 824.2 912.2 828.8 909.8 829.8 909.8 832.2 907.8 844.8 901.2 848.8 898.2 851.2 897.2 856.8 893.2 865.2 888.2 869.8 884.8 872.2 883.8 873.8 882.2 879.8 878.8 885.8 874.2 887.2 873.8 892.2 869.8 894.8 868.8 904.8 861.2 911.8 857.2 933.2 841.8 936.8 840.2 938.2 838.8 948.8 831.8 949.8 830.8 949.8 829.8 946.2 821.8 946.2 820.2 945.2 818.8 944.2 814.8 942.8 811.8 942.2 808.2 940.2 803.2 939.8 799.2 936.2 786.8 936.2 784.2 934.2 777.2 933.2 769.8 932.8 769.2 932.8 767.2 932.2 766.8 932.2 764.8 931.2 761.8 931.2 759.2 930.8 758.8 930.8 756.8 929.8 753.8 929.8 750.8 929.2 750.2 928.2 741.8 927.8 741.2 927.2 736.2 926.8 735.8 926.8 732.2 926.2 731.8 926.2 729.2 925.8 728.8 925.8 726.2 925.2 725.8 925.2 723.2 924.8 722.8 924.8 720.2 924.2 719.8 924.2 717.2 923.2 713.8 923.2 710.2 922.8 709.8 922.8 707.2 922.2 706.8 922.2 704.2 921.8 703.8 921.8 701.2 921.2 700.8 921.2 698.2 920.2 694.8 920.2 691.8 919.8 691.2 919.8 688.8 919.2 688.2 918.8 683.2 917.8 680.2 917.8 677.8 916.8 674.8 916.8 671.2 916.2 670.8 916.2 668.8 915.8 668.2 915.8 666.2 915.2 665.8 915.2 663.8 914.2 661.2 914.2 659.2 913.8 658.8 913.8 656.8 913.2 656.2 912.2 650.8 910.2 645.8 909.8 642.8ZM765.8 812.8 765.8 813.8 761.2 823.8 761.2 824.8 760.2 826.2 755.2 839.8 750.8 849.2 748.8 850.8 748.2 850.2 745.2 850.2 741.8 851.2 738.2 851.2 733.2 847.2 723.2 845.2 720.2 843.2 722.8 840.2 729.2 836.2 735.8 831.2 741.2 828.2 742.8 826.8 762.2 813.8 764.8 811.8Z"/><path fill="#0600ff" d="M906.8 636.2 904.8 634.2 902.8 633.2 900.2 633.2 858.8 667.2 843.2 681.8 821.8 706.2 810.8 720.8 810.2 722.2 799.8 738.2 789.2 758.8 789.2 759.8 787.2 763.8 786.2 764.8 785.2 764.8 782.2 761.2 780.8 758.2 780.8 756.8 777.8 750.8 776.2 745.8 774.8 743.8 773.2 740.2 771.2 737.2 766.8 732.8 764.8 732.2 733.2 753.8 721.8 762.2 716.8 765.2 694.8 781.2 691.2 783.2 661.2 805.2 644.2 818.8 636.8 825.2 626.8 835.2 625.2 838.2 624.8 842.2 624.2 842.8 624.2 847.2 623.8 847.8 623.8 866.8 624.2 867.8 627.2 869.8 629.2 869.8 630.8 870.8 636.8 872.2 637.8 873.2 639.8 873.2 642.2 874.8 644.2 874.8 645.8 875.8 647.8 875.8 649.2 876.8 650.2 876.2 653.2 876.2 653.8 875.8 664.2 875.8 664.8 876.2 668.2 876.2 668.8 876.8 674.2 877.2 676.2 878.2 678.8 878.2 682.8 879.8 687.2 880.2 691.8 882.2 695.8 883.2 697.2 884.2 706.2 887.2 707.8 887.2 710.8 888.8 719.8 891.8 725.8 892.8 726.8 893.8 729.8 894.8 733.8 895.2 735.2 896.2 737.2 896.2 738.8 897.2 742.8 897.8 752.8 901.2 754.8 901.2 760.8 903.8 763.8 904.2 769.8 907.2 772.2 907.8 781.8 911.8 785.8 912.8 788.2 914.2 790.8 914.2 792.8 915.2 803.8 914.8 805.8 913.8 807.8 913.8 809.8 912.8 814.2 911.8 815.8 910.8 820.8 909.2 826.2 906.2 827.2 906.2 829.2 904.8 834.8 902.2 837.2 900.2 844.2 896.8 847.8 894.2 850.2 893.2 851.8 891.8 862.8 885.2 869.8 880.2 871.2 879.8 889.2 867.2 891.8 866.2 898.8 860.8 904.2 857.8 919.2 846.8 924.8 843.8 937.8 834.2 948.2 827.2 948.2 825.8 946.2 821.8 946.2 820.2 945.2 818.8 944.2 814.8 942.8 811.8 942.2 808.2 940.2 803.2 939.8 799.2 936.2 786.8 936.2 784.2 934.2 777.2 933.2 769.8 932.8 769.2 932.8 767.2 932.2 766.8 932.2 764.8 931.2 761.8 931.2 759.2 930.8 758.8 930.8 756.8 929.8 753.8 929.8 750.8 929.2 750.2 928.2 741.8 927.8 741.2 927.2 736.2 926.8 735.8 926.8 732.2 926.2 731.8 926.2 729.2 925.8 728.8 925.8 726.2 925.2 725.8 925.2 723.2 924.8 722.8 924.8 720.2 924.2 719.8 924.2 717.2 923.2 713.8 923.2 710.2 922.8 709.8 922.8 707.2 922.2 706.8 922.2 704.2 921.8 703.8 921.8 701.2 921.2 700.8 921.2 698.2 920.2 694.8 920.2 691.8 919.8 691.2 919.8 688.8 919.2 688.2 918.8 683.2 917.8 680.2 917.8 677.8 916.8 674.8 916.8 671.2 916.2 670.8 916.2 668.8 915.8 668.2 915.8 666.2 915.2 665.8 915.2 663.8 914.2 661.2 914.2 659.2 913.8 658.8 913.8 656.8 913.2 656.2 912.2 650.8 910.2 645.8 909.8 642.8ZM768.8 805.2 768.8 806.2 767.8 807.8 762.8 821.2 761.2 823.8 761.2 824.8 760.2 826.2 755.2 839.8 750.8 849.2 748.8 850.8 748.2 850.2 745.2 850.2 741.8 851.2 738.2 851.2 734.2 847.8 723.2 845.2 718.8 842.8 716.2 840.2 717.2 838.8 722.8 835.8 724.2 834.2 755.2 813.2 761.8 808.2 767.2 804.8Z"/><path fill="#000cff" d="M906.8 636.2 904.8 634.2 902.8 633.2 900.2 633.2 858.8 667.2 843.2 681.8 821.8 706.2 810.8 720.8 810.2 722.2 799.8 738.2 789.2 758.8 789.2 759.8 787.2 763.8 786.2 764.8 785.2 764.8 782.2 761.2 780.8 758.2 780.8 756.8 777.8 750.8 776.2 745.8 771.2 737.2 765.8 732.2 762.8 733.2 761.2 734.8 733.2 753.8 721.8 762.2 716.8 765.2 715.2 766.8 706.8 772.2 678.8 792.2 675.2 795.2 673.2 796.2 652.2 812.2 636.8 825.2 626.8 835.2 625.2 838.2 624.8 842.2 624.2 842.8 624.2 847.2 623.8 847.8 623.8 864.2 624.2 865.2 626.8 867.2 628.8 867.2 630.2 868.2 632.2 868.2 634.8 869.8 636.8 869.8 639.2 871.2 641.8 871.2 643.8 872.8 646.2 872.8 647.8 873.8 666.8 873.2 667.2 873.8 671.2 873.8 671.8 874.2 678.8 875.2 679.2 875.8 682.8 876.2 684.2 877.2 686.8 877.2 694.2 879.8 695.8 880.8 700.2 881.8 702.8 883.2 704.2 883.2 707.2 884.8 716.2 887.8 717.8 887.8 719.2 888.8 720.8 888.8 725.8 890.8 731.2 891.8 732.8 892.8 735.2 892.8 736.8 893.8 740.8 894.2 743.8 895.8 747.8 896.2 749.2 897.2 754.2 898.2 763.2 901.8 764.8 901.8 768.2 903.8 772.2 904.8 774.2 906.2 775.8 906.2 780.8 908.8 783.2 909.2 784.8 910.2 786.2 910.2 787.8 911.2 790.8 911.2 791.2 911.8 791.8 911.2 792.2 911.8 793.8 911.2 799.8 911.2 800.2 910.8 802.2 910.8 802.8 910.2 804.8 910.2 808.8 908.8 810.2 908.8 813.2 907.2 818.2 905.8 820.8 904.2 821.8 904.2 832.8 898.8 835.2 896.8 845.8 891.2 857.8 883.2 863.2 880.2 872.2 873.8 874.8 872.8 878.2 869.8 880.8 868.8 884.2 865.8 888.2 863.8 891.2 861.2 897.2 857.8 905.8 851.2 909.2 849.8 927.8 836.2 931.2 834.8 941.2 827.2 946.8 823.8 946.8 822.2 944.2 814.8 943.2 813.2 942.2 808.2 940.2 803.2 939.8 799.2 936.2 786.8 936.2 784.2 935.8 783.8 935.2 779.8 933.8 774.8 933.8 772.8 933.2 772.2 933.2 769.8 932.8 769.2 932.8 767.2 932.2 766.8 932.2 764.8 931.2 761.8 931.2 759.2 930.8 758.8 930.8 756.8 929.8 753.8 929.8 750.8 929.2 750.2 928.2 741.8 927.8 741.2 927.2 736.2 926.8 735.8 926.8 732.2 926.2 731.8 926.2 729.2 925.8 728.8 925.8 726.2 925.2 725.8 925.2 723.2 924.8 722.8 924.8 720.2 924.2 719.8 924.2 717.2 923.2 713.8 923.2 710.2 922.8 709.8 922.8 707.2 922.2 706.8 922.2 704.2 921.8 703.8 921.8 701.2 921.2 700.8 921.2 698.2 920.2 694.8 920.2 691.8 919.8 691.2 919.8 688.8 919.2 688.2 918.8 683.2 917.8 680.2 917.8 677.8 916.8 674.8 916.8 671.2 916.2 670.8 915.2 663.8 914.2 661.2 914.2 659.2 913.8 658.8 913.8 656.8 913.2 656.2 912.2 650.8 910.2 645.8 910.2 644.2ZM771.2 798.8 769.8 803.8 768.8 805.2 768.8 806.2 767.8 807.8 762.8 821.2 761.2 823.8 761.2 824.8 760.2 826.2 755.2 839.8 750.8 849.2 748.8 850.8 748.2 850.2 745.2 850.2 741.8 851.2 738.2 851.2 733.2 847.2 726.8 846.2 720.2 843.8 716.8 841.2 713.8 838.2 713.8 836.8 724.8 828.8 727.2 827.8 728.8 826.2 770.2 797.8Z"/><path fill="#001fff" d="M906.8 636.2 904.8 634.2 902.8 633.2 900.2 633.2 858.8 667.2 843.2 681.8 821.8 706.2 810.8 720.8 810.2 722.2 799.8 738.2 789.2 758.8 789.2 759.8 787.2 763.8 786.2 764.8 785.2 764.8 782.2 761.2 780.8 758.2 780.8 756.8 777.8 750.8 776.2 745.8 771.2 737.2 765.8 732.2 762.8 733.2 761.2 734.8 733.2 753.8 721.8 762.2 716.8 765.2 715.2 766.8 706.8 772.2 678.8 792.2 675.2 795.2 673.2 796.2 652.2 812.2 636.8 825.2 626.8 835.2 625.2 838.2 624.8 842.2 624.2 842.8 624.2 847.2 623.8 847.8 623.8 860.8 624.2 861.2 624.2 862.8 625.2 863.8 628.8 864.2 631.2 865.8 633.8 865.8 637.2 867.2 639.2 867.2 640.8 868.2 644.8 868.8 648.2 870.2 650.8 870.2 652.2 871.2 654.8 871.2 658.2 870.2 664.8 870.2 665.2 870.8 666.2 870.2 666.8 870.8 676.2 871.8 682.8 873.8 684.8 873.8 686.2 874.8 694.2 876.8 695.8 877.8 699.8 878.8 701.2 879.8 702.8 879.8 704.2 880.8 709.8 882.2 715.8 884.8 717.2 884.8 730.8 889.2 732.8 889.2 734.2 890.2 736.8 890.2 740.2 891.8 741.8 891.8 743.8 892.8 745.8 892.8 747.2 893.8 748.8 893.8 757.8 896.8 759.2 896.8 761.8 898.2 767.8 900.2 771.2 902.2 772.8 902.2 783.2 906.8 784.8 906.8 787.2 907.8 798.8 907.2 799.2 906.8 803.8 906.2 805.8 905.2 807.2 905.2 809.2 904.2 813.8 903.2 818.2 900.8 819.2 900.8 825.8 897.2 828.8 896.2 829.8 895.2 835.2 892.8 840.2 889.2 843.8 887.8 846.2 885.8 848.8 884.8 855.2 880.2 860.8 877.2 862.2 875.8 865.2 874.2 872.8 868.8 875.2 867.8 876.8 866.2 881.2 863.8 891.8 856.2 894.2 855.2 904.8 847.2 908.2 845.8 926.2 832.8 928.8 831.8 945.2 819.8 945.2 817.8 943.2 813.2 942.2 808.2 939.8 801.2 939.8 799.2 936.2 786.8 936.2 784.2 934.2 777.2 933.2 769.8 932.8 769.2 932.8 767.2 932.2 766.8 932.2 764.8 931.2 761.8 931.2 759.2 930.8 758.8 930.8 756.8 929.8 753.8 929.8 750.8 929.2 750.2 928.2 741.8 927.8 741.2 927.2 736.2 926.8 735.8 926.8 732.2 926.2 731.8 926.2 729.2 925.8 728.8 925.8 726.2 925.2 725.8 925.2 723.2 924.8 722.8 924.8 720.2 924.2 719.8 924.2 717.2 923.2 713.8 923.2 710.2 922.8 709.8 922.8 707.2 922.2 706.8 922.2 704.2 921.8 703.8 921.8 701.2 921.2 700.8 921.2 698.2 920.2 694.8 920.2 691.8 919.8 691.2 919.8 688.8 919.2 688.2 918.8 683.2 917.8 680.2 917.8 677.8 916.8 674.8 916.8 671.2 916.2 670.8 915.2 663.8 914.2 661.2 914.2 659.2 913.8 658.8 913.8 656.8 913.2 656.2 912.2 650.8 910.2 645.8 910.2 644.2ZM774.2 790.8 773.8 793.8 771.2 798.8 769.8 803.8 768.8 805.2 768.8 806.2 767.8 807.8 762.8 821.2 761.2 823.8 761.2 824.8 760.2 826.2 755.2 839.8 750.8 849.2 748.8 850.8 748.2 850.2 745.2 850.2 741.8 851.2 738.2 851.2 733.2 847.2 726.8 846.2 720.2 843.8 716.8 841.2 710.2 834.8 710.2 833.8 713.8 830.8 724.2 824.2 742.2 811.2 757.2 801.8 771.8 791.2 773.8 790.2Z"/><path fill="#0032ff" d="M906.8 636.2 904.8 634.2 902.8 633.2 900.2 633.2 858.8 667.2 843.2 681.8 821.8 706.2 810.8 720.8 810.2 722.2 799.8 738.2 789.2 758.8 789.2 759.8 787.2 763.8 786.2 764.8 785.2 764.8 782.2 761.2 780.8 758.2 780.8 756.8 777.8 750.8 776.2 745.8 771.2 737.2 765.8 732.2 762.8 733.2 761.2 734.8 733.2 753.8 721.8 762.2 716.8 765.2 715.2 766.8 706.8 772.2 678.8 792.2 675.2 795.2 673.2 796.2 652.2 812.2 636.8 825.2 626.8 835.2 625.2 838.2 624.8 842.2 624.2 842.8 624.2 847.2 623.8 847.8 623.8 858.2 626.2 861.2 628.2 861.2 638.8 864.8 645.2 864.8 648.8 863.8 654.8 860.8 655.8 860.8 656.2 862.2 653.2 867.2 653.8 868.2 657.2 868.2 657.8 867.8 669.2 867.8 669.8 868.2 674.2 868.2 678.8 869.8 680.8 869.8 682.8 870.8 686.2 871.2 688.2 872.2 689.8 872.2 691.2 873.2 695.8 874.2 698.2 875.8 699.8 875.8 701.2 876.8 705.2 877.8 709.8 879.8 712.8 880.2 718.8 882.8 727.2 884.8 730.2 886.2 732.2 886.2 733.8 887.2 736.2 887.2 741.8 889.2 745.8 889.8 747.2 890.8 754.2 892.2 755.8 893.2 761.2 894.8 763.8 896.2 769.8 898.2 772.2 899.8 774.8 900.2 776.2 901.2 782.2 903.2 784.2 903.2 786.8 904.2 794.8 903.8 795.2 903.2 802.2 902.2 804.2 901.2 806.2 901.2 808.2 900.2 812.8 899.2 816.2 897.2 817.2 897.2 824.8 893.8 830.2 890.2 843.8 883.2 845.2 881.8 862.8 871.2 868.8 866.8 871.2 865.8 872.8 864.2 877.2 861.8 886.2 855.2 888.8 854.2 892.2 851.2 897.8 848.2 909.8 839.2 915.2 836.2 931.8 824.2 935.2 822.8 940.2 818.8 943.8 816.8 944.2 814.8 943.2 813.2 942.2 808.2 940.2 803.2 939.8 799.2 936.2 786.8 936.2 784.2 934.2 777.2 933.2 769.8 932.8 769.2 932.8 767.2 932.2 766.8 932.2 764.8 931.2 761.8 931.2 759.2 930.8 758.8 930.8 756.8 929.8 753.8 929.8 750.8 929.2 750.2 928.2 741.8 927.8 741.2 927.2 736.2 926.8 735.8 926.8 732.2 926.2 731.8 926.2 729.2 925.8 728.8 925.8 726.2 925.2 725.8 925.2 723.2 924.8 722.8 924.8 720.2 924.2 719.8 924.2 717.2 923.2 713.8 923.2 710.2 922.8 709.8 922.8 707.2 922.2 706.8 922.2 704.2 921.8 703.8 921.8 701.2 921.2 700.8 921.2 698.2 920.2 694.8 920.2 691.8 919.8 691.2 919.8 688.8 919.2 688.2 918.8 683.2 917.8 680.2 917.8 677.8 916.8 674.8 916.8 671.2 916.2 670.8 915.2 663.8 914.2 661.2 914.2 659.2 913.8 658.8 913.8 656.8 913.2 656.2 912.2 650.8 910.2 645.8 910.2 644.2ZM778.8 782.2 771.2 798.8 769.8 803.8 768.8 805.2 768.8 806.2 767.8 807.8 762.8 821.2 761.2 823.8 761.2 824.8 760.2 826.2 755.2 839.8 750.8 849.2 748.8 850.8 748.2 850.2 745.2 850.2 741.8 851.2 738.2 851.2 733.2 847.2 723.2 845.2 716.8 841.2 706.8 831.2 706.2 830.2 707.8 828.2 712.2 825.8 715.2 823.2 722.8 818.8 727.8 814.8 738.2 808.2 749.8 799.8 760.2 793.2 776.2 781.8 777.8 781.2Z"/><path fill="#0044ff" d="M906.8 636.2 904.8 634.2 902.8 633.2 900.2 633.2 858.8 667.2 843.2 681.8 821.8 706.2 810.8 720.8 810.2 722.2 799.8 738.2 789.2 758.8 789.2 759.8 787.2 763.8 786.2 764.8 785.2 764.8 782.2 761.2 780.8 758.2 780.8 756.8 777.8 750.8 776.2 745.8 771.2 737.2 765.8 732.2 762.8 733.2 761.2 734.8 733.2 753.8 721.8 762.2 716.8 765.2 715.2 766.8 706.8 772.2 678.8 792.2 675.2 795.2 673.2 796.2 652.2 812.2 636.8 825.2 626.8 835.2 625.2 838.2 624.8 842.2 624.2 842.8 624.2 847.2 623.8 847.8 623.8 855.2 624.2 856.2 626.2 857.8 629.8 858.2 631.2 859.2 635.2 859.2 638.2 860.8 641.2 860.8 649.2 856.8 650.8 855.2 654.2 853.8 656.8 851.8 658.8 850.8 660.2 850.8 660.8 852.2 655.2 863.8 655.8 865.2 658.8 865.2 659.2 864.8 668.8 864.8 669.2 865.2 673.8 865.2 674.2 865.8 676.2 865.8 676.8 866.2 678.8 866.2 679.2 866.8 684.8 867.8 691.8 870.2 693.2 870.2 694.8 871.2 697.2 871.8 698.2 872.8 699.8 872.8 704.2 874.2 705.8 875.2 718.8 879.8 727.2 881.8 728.8 882.8 732.2 883.2 733.8 884.2 737.8 884.8 739.2 885.8 741.8 885.8 747.2 887.8 750.8 888.2 752.2 889.2 755.2 889.8 759.8 891.8 761.2 891.8 763.8 893.2 766.8 893.8 769.8 895.8 781.2 899.8 782.8 899.8 783.2 900.2 790.2 900.2 792.8 899.2 799.8 898.8 805.2 896.8 808.8 896.2 812.2 894.2 815.2 893.8 825.8 888.8 827.8 887.2 829.8 886.8 837.2 881.8 840.2 880.8 844.2 877.8 846.8 876.8 854.8 871.2 860.2 868.2 863.2 865.8 865.8 864.8 867.8 862.8 871.8 860.8 873.2 859.2 875.8 858.2 877.8 856.2 881.8 854.2 885.2 851.2 887.8 850.2 891.2 847.2 898.2 843.2 908.8 835.2 912.2 833.8 925.8 823.8 932.2 820.2 939.2 814.8 942.2 813.2 942.8 810.2 940.2 803.2 939.8 799.2 936.2 786.8 936.2 784.2 934.2 777.2 933.2 769.8 932.8 769.2 932.8 767.2 932.2 766.8 932.2 764.8 931.2 761.8 931.2 759.2 930.8 758.8 930.8 756.8 929.8 753.8 929.8 750.8 929.2 750.2 928.2 741.8 927.8 741.2 927.2 736.2 926.8 735.8 926.8 732.2 926.2 731.8 926.2 729.2 925.8 728.8 925.8 726.2 925.2 725.8 925.2 723.2 924.8 722.8 924.8 720.2 924.2 719.8 924.2 717.2 923.2 713.8 923.2 710.2 922.8 709.8 922.8 707.2 922.2 706.8 922.2 704.2 921.8 703.8 921.8 701.2 921.2 700.8 921.2 698.2 920.2 694.8 920.2 691.8 919.8 691.2 919.8 688.8 919.2 688.2 918.8 683.2 917.8 680.2 917.8 677.8 916.8 674.8 916.8 671.2 916.2 670.8 915.2 663.8 914.2 661.2 914.2 659.2 913.8 658.8 913.8 656.8 913.2 656.2 912.2 650.8 910.2 645.8 910.2 644.2ZM784.2 769.2 784.2 770.8 777.8 783.8 777.8 784.8 775.2 789.2 772.8 796.2 771.2 798.8 769.8 803.8 768.8 805.2 768.8 806.2 767.8 807.8 762.8 821.2 761.2 823.8 761.2 824.8 760.2 826.2 755.2 839.8 750.8 849.2 748.8 850.8 748.2 850.2 745.2 850.2 741.8 851.2 738.2 851.2 733.2 847.2 723.2 845.2 716.8 841.2 706.8 831.2 702.8 825.2 702.8 823.8 704.2 822.2 716.8 813.8 719.8 812.2 725.8 807.8 727.2 807.2 733.8 802.2 741.2 797.8 742.8 796.2 749.2 792.2 755.8 787.2 757.2 786.8 782.2 769.2 783.2 768.8Z"/><path fill="#0057ff" d="M906.8 636.2 904.8 634.2 902.8 633.2 900.2 633.2 858.8 667.2 849.8 675.2 837.2 688.2 814.2 715.8 799.8 738.2 789.2 758.8 789.2 759.8 786.2 765.2 786.2 766.2 782.2 774.2 782.2 775.2 773.8 792.8 773.8 793.8 771.2 798.8 769.8 803.8 768.8 805.2 768.8 806.2 767.8 807.8 762.8 821.2 761.2 823.8 761.2 824.8 760.2 826.2 755.2 839.8 750.8 849.2 748.8 850.8 748.2 850.2 745.2 850.2 741.8 851.2 738.2 851.2 733.2 847.2 726.8 846.2 720.2 843.8 716.8 841.2 706.8 831.2 700.8 821.8 699.8 818.8 701.8 816.8 712.2 809.8 713.8 808.2 724.2 801.8 743.8 787.8 750.8 783.8 757.2 778.8 781.8 762.2 782.2 760.8 780.8 758.2 780.8 756.8 778.8 753.2 776.2 745.8 774.8 743.8 773.2 740.2 771.2 737.2 766.8 732.8 764.8 732.2 733.2 753.8 721.8 762.2 716.8 765.2 715.2 766.8 711.8 768.8 710.2 770.2 706.8 772.2 678.8 792.2 661.2 805.2 640.8 821.8 626.8 835.2 625.2 838.2 624.8 842.2 624.2 842.8 624.2 847.2 623.8 847.8 623.8 851.8 624.2 852.8 626.8 854.2 630.2 854.8 631.8 855.8 639.8 856.8 643.8 854.2 645.8 853.8 649.8 850.8 652.2 849.8 657.8 845.8 663.2 842.8 663.8 843.2 663.8 844.8 662.8 846.2 659.8 854.8 656.2 861.8 657.2 862.8 661.8 862.2 662.2 861.8 667.2 861.8 667.8 862.2 672.8 862.2 676.2 863.2 679.8 863.2 680.2 863.8 690.8 866.2 693.2 867.8 700.2 869.8 702.8 871.2 704.2 871.2 705.8 872.2 713.8 874.8 715.2 875.8 718.2 876.2 719.8 877.2 723.2 877.8 726.8 879.2 730.2 879.8 731.8 880.8 734.2 880.8 735.8 881.8 737.2 881.8 743.2 883.8 747.2 884.2 748.8 885.2 752.2 885.8 761.2 888.8 763.8 890.2 764.8 890.2 767.2 891.8 769.8 892.2 773.2 894.2 775.8 894.8 778.8 896.2 781.8 896.2 782.8 896.8 783.2 896.2 792.8 895.8 793.2 895.2 795.8 895.2 796.2 894.8 798.2 894.8 798.8 894.2 804.2 893.2 810.2 891.2 811.8 890.2 814.2 889.8 823.2 885.2 824.2 885.2 826.8 883.2 840.2 876.2 842.8 874.2 845.2 873.2 848.2 870.8 861.8 862.8 870.8 856.2 873.2 855.2 875.2 853.2 877.8 852.2 881.2 849.2 883.8 848.2 888.2 844.8 890.8 843.8 899.8 836.8 903.2 835.2 916.8 825.2 921.8 822.8 933.8 813.8 940.8 809.8 941.8 808.8 941.8 806.8 940.2 803.2 939.8 799.2 936.2 786.8 936.2 784.2 934.2 777.2 933.2 769.8 932.8 769.2 932.8 767.2 932.2 766.8 932.2 764.8 931.2 761.8 931.2 759.2 930.8 758.8 930.8 756.8 929.8 753.8 929.8 750.8 929.2 750.2 928.2 741.8 927.8 741.2 927.2 736.2 926.8 735.8 926.8 732.2 926.2 731.8 926.2 729.2 925.8 728.8 925.8 726.2 925.2 725.8 925.2 723.2 924.8 722.8 924.8 720.2 924.2 719.8 924.2 717.2 923.2 713.8 923.2 710.2 922.8 709.8 922.8 707.2 922.2 706.8 922.2 704.2 921.8 703.8 921.8 701.2 921.2 700.8 921.2 698.2 920.2 694.8 920.2 691.8 919.8 691.2 919.8 688.8 919.2 688.2 918.8 683.2 917.8 680.2 917.8 677.8 916.8 674.8 916.8 671.2 916.2 670.8 916.2 668.8 915.8 668.2 915.8 666.2 915.2 665.8 915.2 663.8 914.2 661.2 914.2 659.2 913.8 658.8 913.8 656.8 913.2 656.2 912.2 650.8 910.2 645.8 909.8 642.8Z"/><path fill="#006aff" d="M906.8 636.2 904.8 634.2 902.8 633.2 900.2 633.2 858.8 667.2 849.8 675.2 837.2 688.2 814.2 715.8 799.8 738.2 789.2 758.8 789.2 759.8 786.2 765.2 786.2 766.2 782.2 774.2 782.2 775.2 773.8 792.8 773.8 793.8 771.2 798.8 769.8 803.8 768.8 805.2 768.8 806.2 767.8 807.8 762.8 821.2 761.2 823.8 761.2 824.8 760.2 826.2 755.2 839.8 750.8 849.2 748.8 850.8 748.2 850.2 745.2 850.2 741.8 851.2 738.2 851.2 733.2 847.2 726.8 846.2 720.2 843.8 716.8 841.2 706.8 831.2 702.8 825.2 697.2 815.2 699.2 813.2 700.8 812.8 719.2 799.2 722.8 797.8 729.2 792.8 735.8 788.8 747.2 780.2 753.8 776.2 755.2 774.8 780.2 757.8 780.8 756.8 778.8 753.2 776.2 745.8 774.8 743.8 773.2 740.2 771.2 737.2 765.8 732.2 762.8 733.2 751.2 741.8 744.8 745.8 738.2 750.8 706.8 772.2 694.8 781.2 691.2 783.2 661.2 805.2 644.2 818.8 636.8 825.2 626.8 835.2 624.8 840.2 623.8 848.8 624.8 849.8 630.8 851.8 638.8 852.2 643.2 850.2 644.8 848.8 666.2 835.8 666.8 836.2 666.2 839.2 663.8 843.8 659.8 854.8 657.8 858.2 658.8 859.8 666.2 858.8 666.8 859.2 672.8 859.2 673.2 859.8 679.2 860.2 681.8 861.2 684.2 861.2 687.2 862.8 690.8 863.2 693.2 864.8 700.2 866.8 702.8 868.2 705.2 868.8 709.2 870.8 710.8 870.8 715.2 872.2 716.8 873.2 718.2 873.2 723.2 875.2 728.2 876.2 729.8 877.2 732.2 877.2 733.8 878.2 735.2 878.2 741.8 880.2 743.8 880.2 745.2 881.2 747.2 881.2 752.2 883.2 755.8 883.8 758.2 885.2 762.2 886.2 764.8 887.8 770.8 889.8 771.8 890.8 774.2 891.2 775.8 892.2 779.2 892.2 779.8 892.8 782.2 892.8 782.8 892.2 783.2 892.8 783.8 892.2 786.8 892.2 787.2 891.8 788.2 892.2 791.2 891.2 791.8 891.8 792.2 891.2 794.8 891.2 795.2 890.8 797.8 890.8 798.2 890.2 801.8 889.8 807.8 887.8 814.2 884.8 816.8 884.2 823.2 881.2 833.8 874.8 840.2 871.8 841.8 870.2 846.8 867.8 848.2 866.2 851.2 864.8 855.2 861.8 858.8 860.2 860.2 858.8 863.2 857.2 865.2 855.2 867.8 854.2 875.2 848.8 877.8 847.8 880.8 845.2 883.2 844.2 887.2 840.8 890.8 839.2 899.8 832.2 904.8 829.8 916.8 820.8 921.8 818.2 935.8 807.8 939.2 806.2 940.8 804.8 940.8 803.8 940.2 803.2 939.8 799.2 936.2 786.8 936.2 784.2 934.2 777.2 933.2 769.8 932.8 769.2 932.8 767.2 932.2 766.8 932.2 764.8 931.2 761.8 931.2 759.2 930.8 758.8 930.8 756.8 929.8 753.8 929.8 750.8 929.2 750.2 928.2 741.8 927.8 741.2 927.2 736.2 926.8 735.8 926.8 732.2 926.2 731.8 926.2 729.2 925.8 728.8 925.8 726.2 925.2 725.8 925.2 723.2 924.8 722.8 924.8 720.2 924.2 719.8 924.2 717.2 923.2 713.8 923.2 710.2 922.8 709.8 922.8 707.2 922.2 706.8 922.2 704.2 921.8 703.8 921.8 701.2 921.2 700.8 921.2 698.2 920.2 694.8 920.2 691.8 919.8 691.2 919.8 688.8 919.2 688.2 918.8 683.2 917.8 680.2 917.8 677.8 916.8 674.8 916.8 671.2 916.2 670.8 916.2 668.8 915.8 668.2 915.8 666.2 915.2 665.8 915.2 663.8 914.2 661.2 914.2 659.2 913.8 658.8 913.8 656.8 913.2 656.2 912.2 650.8 910.2 645.8 909.8 642.8Z"/><path fill="#007cff" d="M906.8 636.2 904.8 634.2 902.8 633.2 900.2 633.2 858.8 667.2 849.8 675.2 837.2 688.2 814.2 715.8 799.8 738.2 789.2 758.8 789.2 759.8 786.2 765.2 786.2 766.2 782.2 774.2 782.2 775.2 773.8 792.8 773.8 793.8 771.2 798.8 769.8 803.8 768.8 805.2 768.8 806.2 767.8 807.8 762.8 821.2 761.2 823.8 761.2 824.8 760.2 826.2 755.2 839.8 750.8 849.2 748.8 850.8 748.2 850.2 745.2 850.2 741.8 851.2 738.2 851.2 733.2 847.2 723.2 845.2 718.8 842.8 706.8 831.2 702.8 825.2 699.2 818.2 695.8 813.2 695.2 811.2 703.8 804.8 712.2 799.8 727.2 788.8 735.8 783.8 737.2 782.2 778.2 754.2 778.8 752.2 777.8 750.8 776.2 745.8 774.8 743.8 773.2 740.2 771.2 737.2 765.8 732.2 762.8 733.2 751.2 741.8 744.8 745.8 738.2 750.8 706.8 772.2 678.8 792.2 675.2 795.2 673.2 796.2 652.2 812.2 636.8 825.2 626.8 835.2 624.8 840.2 624.2 845.8 625.2 846.8 627.2 846.8 629.8 847.8 633.8 847.8 634.2 848.2 634.8 847.8 635.8 848.2 639.2 847.2 640.2 846.2 648.8 841.8 650.2 840.2 665.2 831.2 666.8 829.8 669.8 828.8 670.2 829.2 669.8 831.8 666.2 838.2 666.2 839.2 663.8 843.8 663.8 844.8 659.8 853.8 659.2 855.8 660.2 856.8 661.2 856.2 673.2 856.2 673.8 856.8 676.2 856.8 676.8 857.2 679.2 857.2 679.8 857.8 686.2 858.8 693.8 861.2 696.2 862.8 697.8 862.8 700.2 864.2 702.8 864.8 708.2 867.2 718.2 870.2 719.8 871.2 723.2 871.8 724.8 872.8 728.2 873.2 737.2 876.2 742.2 876.8 746.8 878.8 748.8 878.8 750.2 879.8 751.8 879.8 758.8 882.2 760.2 882.2 769.2 886.8 772.2 887.2 775.8 888.8 779.8 888.8 780.2 888.2 781.8 888.8 782.2 888.2 785.8 888.2 786.2 887.8 790.2 887.8 790.8 887.2 798.8 886.2 800.8 885.2 802.2 885.2 805.8 883.8 810.2 882.8 813.8 880.8 814.8 880.8 821.8 877.2 822.8 877.2 827.8 873.8 830.8 872.2 831.8 872.2 834.2 870.2 842.8 865.8 845.8 863.2 846.8 863.2 853.2 858.8 856.2 857.2 857.8 855.8 860.2 854.8 861.8 853.2 864.2 852.2 866.2 850.2 870.2 848.2 872.2 846.2 874.8 845.2 877.8 842.8 880.2 841.8 883.8 838.8 886.2 837.8 893.2 832.2 896.8 830.8 909.2 821.2 915.8 817.8 926.2 809.8 931.2 807.2 936.2 803.8 939.8 800.8 939.8 799.2 936.2 786.8 936.2 784.2 934.2 777.2 933.2 769.8 932.8 769.2 932.8 767.2 932.2 766.8 932.2 764.8 931.2 761.8 931.2 759.2 930.8 758.8 930.8 756.8 929.8 753.8 929.8 750.8 929.2 750.2 928.2 741.8 927.8 741.2 927.2 736.2 926.8 735.8 926.8 732.2 926.2 731.8 926.2 729.2 925.8 728.8 925.8 726.2 925.2 725.8 925.2 723.2 924.8 722.8 924.8 720.2 924.2 719.8 924.2 717.2 923.2 713.8 923.2 710.2 922.8 709.8 922.8 707.2 922.2 706.8 922.2 704.2 921.8 703.8 921.8 701.2 921.2 700.8 921.2 698.2 920.2 694.8 920.2 691.8 919.8 691.2 919.8 688.8 919.2 688.2 918.8 683.2 917.8 680.2 917.8 677.8 916.8 674.8 916.8 671.2 916.2 670.8 915.2 663.8 914.2 661.2 914.2 659.2 913.8 658.8 913.8 656.8 913.2 656.2 912.2 650.8 910.2 645.8 910.2 644.2Z"/><path fill="#0095ff" d="M906.8 636.2 904.8 634.2 902.8 633.2 900.2 633.2 858.8 667.2 849.8 675.2 837.2 688.2 814.2 715.8 799.8 738.2 789.2 758.8 789.2 759.8 786.2 765.2 786.2 766.2 782.2 774.2 782.2 775.2 773.8 792.8 773.8 793.8 771.2 798.8 769.8 803.8 768.8 805.2 768.8 806.2 767.8 807.8 762.8 821.2 761.2 823.8 761.2 824.8 760.2 826.2 755.2 839.8 750.8 849.2 748.8 850.8 748.2 850.2 745.2 850.2 741.8 851.2 738.2 851.2 733.2 847.2 723.2 845.2 718.8 842.8 706.8 831.2 702.8 825.2 696.8 814.2 692.2 808.2 700.8 801.8 707.8 797.8 725.8 784.8 729.2 783.2 747.2 770.2 776.8 750.2 777.2 748.2 773.2 740.2 771.2 737.2 765.8 732.2 762.8 733.2 751.2 741.8 744.8 745.8 738.2 750.8 706.8 772.2 678.8 792.2 675.2 795.2 673.2 796.2 652.2 812.2 636.8 825.2 626.8 835.2 625.2 838.2 624.8 842.8 625.2 843.2 625.8 842.8 628.2 842.8 630.8 843.8 631.2 843.2 634.8 843.8 636.2 842.8 638.8 842.2 655.8 832.2 668.2 823.8 669.8 823.2 671.2 821.8 673.2 821.2 673.8 822.8 672.8 824.2 672.8 825.2 666.2 838.2 666.2 839.2 663.8 843.8 663.8 844.8 660.2 852.8 661.2 853.8 663.8 852.8 664.8 853.2 673.2 853.2 673.8 853.8 677.2 853.8 679.8 854.8 684.2 855.2 686.2 856.2 691.2 857.2 695.2 859.2 696.8 859.2 701.8 861.8 705.8 862.8 708.2 864.2 712.2 865.2 713.8 866.2 716.8 866.8 718.2 867.8 719.8 867.8 724.8 869.8 726.8 869.8 728.2 870.8 729.8 870.8 731.8 871.8 733.8 871.8 737.2 873.2 745.2 874.8 748.8 876.2 755.2 877.8 756.8 878.8 758.2 878.8 772.2 884.8 778.2 884.8 778.8 884.2 783.8 884.2 784.2 883.8 787.2 883.8 787.8 883.2 792.2 883.2 794.8 882.2 795.2 882.8 797.8 881.8 798.2 882.2 798.8 881.8 800.2 881.8 804.8 880.2 808.2 878.2 812.8 877.2 820.8 873.2 821.8 873.2 824.2 871.2 826.2 870.8 827.8 869.2 829.2 869.2 832.2 866.8 833.2 866.8 836.2 865.2 845.2 859.2 851.8 855.8 857.2 851.8 859.8 850.8 861.8 848.8 864.2 847.8 871.8 842.2 874.2 841.2 876.2 839.2 880.2 837.2 883.8 834.2 887.8 832.2 893.2 827.8 898.2 825.2 910.8 815.8 912.8 815.2 915.2 813.8 927.8 804.2 932.2 802.2 938.8 797.2 938.8 795.2 936.2 786.8 936.2 784.2 934.2 777.2 933.2 769.8 932.8 769.2 932.8 767.2 932.2 766.8 932.2 764.8 931.2 761.8 931.2 759.2 930.8 758.8 930.8 756.8 929.8 753.8 929.8 750.8 929.2 750.2 928.2 741.8 927.8 741.2 927.2 736.2 926.8 735.8 926.8 732.2 926.2 731.8 926.2 729.2 925.8 728.8 925.8 726.2 925.2 725.8 925.2 723.2 924.8 722.8 924.8 720.2 924.2 719.8 924.2 717.2 923.2 713.8 923.2 710.2 922.8 709.8 922.8 707.2 922.2 706.8 922.2 704.2 921.8 703.8 921.8 701.2 921.2 700.8 921.2 698.2 920.2 694.8 920.2 691.8 919.8 691.2 919.8 688.8 919.2 688.2 918.8 683.2 917.8 680.2 917.8 677.8 916.8 674.8 916.8 671.2 916.2 670.8 915.2 663.8 914.2 661.2 914.2 659.2 913.8 658.8 913.8 656.8 913.2 656.2 912.2 650.8 910.2 645.8 910.2 644.2Z"/><path fill="#00afff" d="M906.8 636.2 904.8 634.2 902.8 633.2 900.2 633.2 858.8 667.2 849.8 675.2 837.2 688.2 814.2 715.8 799.8 738.2 789.2 758.8 789.2 759.8 786.2 765.2 786.2 766.2 782.2 774.2 782.2 775.2 773.8 792.8 773.8 793.8 771.2 798.8 769.8 803.8 768.8 805.2 768.8 806.2 767.8 807.8 762.8 821.2 761.2 823.8 761.2 824.8 760.2 826.2 755.2 839.8 750.8 849.2 748.8 850.8 748.2 850.2 745.2 850.2 741.8 851.2 738.2 851.2 733.2 847.2 723.2 845.2 718.8 842.8 706.8 831.2 694.8 811.2 693.2 809.8 687.8 807.8 687.2 806.2 693.2 801.8 697.2 799.8 707.2 792.2 712.8 789.2 729.2 777.2 739.2 771.2 745.8 766.2 775.2 746.2 775.8 744.8 771.2 737.2 765.8 732.2 762.8 733.2 751.2 741.8 744.8 745.8 721.8 762.2 716.8 765.2 661.2 805.2 636.8 825.2 626.8 835.2 625.2 838.2 626.2 839.2 627.8 838.2 628.8 838.8 632.8 838.8 633.2 838.2 634.8 838.2 638.2 836.2 639.2 836.2 658.2 825.2 659.8 823.8 661.2 823.2 665.2 820.2 667.8 819.2 672.2 815.8 679.2 811.8 679.8 813.2 678.2 814.8 673.8 822.2 672.8 825.2 669.8 830.8 669.8 831.8 663.8 843.8 663.8 844.8 661.8 848.8 662.2 850.2 674.2 850.2 674.8 850.8 680.8 851.2 682.8 852.2 690.2 853.8 691.8 854.8 694.2 855.2 696.8 856.8 699.2 857.2 701.8 858.8 704.2 859.2 708.2 861.2 711.2 861.8 715.2 863.8 716.8 863.8 719.8 865.2 724.8 866.2 726.2 867.2 728.8 867.2 730.2 868.2 733.8 868.8 735.2 869.8 743.8 871.2 745.8 872.2 747.2 872.2 748.8 873.2 753.8 874.2 760.8 876.8 762.2 877.8 763.8 877.8 765.8 879.2 771.8 881.2 774.8 881.2 779.2 879.8 781.2 879.8 781.8 880.2 784.8 879.2 786.8 879.2 787.2 879.8 787.8 879.2 799.2 877.8 802.2 876.2 804.2 876.2 809.2 873.8 812.2 873.2 814.2 871.8 821.2 869.2 825.2 866.2 828.2 865.2 830.8 863.2 837.2 860.2 844.8 855.2 847.2 854.2 851.2 851.2 855.2 849.2 856.8 847.8 861.2 845.2 865.8 841.8 868.2 840.8 870.2 838.8 872.8 837.8 875.8 835.2 878.2 834.2 880.2 832.2 884.2 830.2 889.8 825.8 893.2 824.2 903.8 816.2 906.2 814.8 908.2 814.2 922.8 803.2 925.8 802.2 934.2 795.8 937.2 794.2 937.8 791.2 936.2 786.8 936.2 784.2 934.2 777.2 933.2 769.8 932.8 769.2 932.8 767.2 932.2 766.8 932.2 764.8 931.2 761.8 931.2 759.2 930.8 758.8 930.8 756.8 929.8 753.8 929.8 750.8 929.2 750.2 928.2 741.8 927.8 741.2 927.2 736.2 926.8 735.8 926.8 732.2 926.2 731.8 926.2 729.2 925.8 728.8 925.8 726.2 925.2 725.8 925.2 723.2 924.8 722.8 924.8 720.2 924.2 719.8 924.2 717.2 923.2 713.8 923.2 710.2 922.8 709.8 922.8 707.2 922.2 706.8 922.2 704.2 921.8 703.8 921.8 701.2 921.2 700.8 921.2 698.2 920.2 694.8 920.2 691.8 919.8 691.2 919.8 688.8 919.2 688.2 918.8 683.2 917.8 680.2 917.8 677.8 916.8 674.8 916.8 671.2 916.2 670.8 916.2 668.8 915.8 668.2 915.8 666.2 915.2 665.8 915.2 663.8 914.2 661.2 914.2 659.2 913.8 658.8 913.8 656.8 913.2 656.2 912.2 650.8 910.2 645.8 909.8 642.8Z"/><path fill="#00c8ff" d="M773.2 740.2 771.2 737.2 766.8 732.8 764.8 732.2 762.8 733.2 761.2 734.8 733.2 753.8 721.8 762.2 716.8 765.2 715.2 766.8 706.8 772.2 678.8 792.2 675.2 795.2 673.2 796.2 644.2 818.8 630.2 831.8 630.8 832.2 633.8 831.8 648.8 824.8 652.2 822.2 655.8 820.8 657.2 819.2 662.2 816.8 671.8 810.2 673.2 809.8 707.2 786.8 708.8 786.2 718.8 778.8 724.2 775.8 725.8 774.2 730.8 771.2 754.8 754.2 757.2 753.2 758.8 751.8 772.2 742.8 773.2 741.8ZM906.8 636.2 904.8 634.2 902.8 633.2 900.2 633.2 858.8 667.2 849.8 675.2 837.2 688.2 814.2 715.8 799.8 738.2 789.2 758.8 789.2 759.8 786.2 765.2 786.2 766.2 782.2 774.2 782.2 775.2 773.8 792.8 773.8 793.8 771.2 798.8 769.8 803.8 768.8 805.2 768.8 806.2 767.8 807.8 762.8 821.2 761.2 823.8 761.2 824.8 760.2 826.2 755.2 839.8 750.8 849.2 748.8 850.8 748.2 850.2 745.2 850.2 741.8 851.2 738.2 851.2 733.2 847.2 723.2 845.2 718.8 842.8 706.8 831.2 694.8 811.2 693.2 809.8 688.2 807.8 686.8 807.8 683.2 809.2 679.8 812.8 676.2 817.8 663.8 843.8 663.2 846.8 663.8 847.2 674.8 847.2 675.2 847.8 678.2 847.8 678.8 848.2 683.2 848.8 690.8 851.2 692.2 851.2 697.2 853.8 703.2 855.8 705.8 857.2 712.8 859.2 716.8 861.2 718.2 861.2 719.8 862.2 721.2 862.2 723.2 863.2 725.2 863.2 733.8 866.2 735.8 866.2 737.8 867.2 741.8 867.8 743.2 868.8 747.2 869.2 748.8 870.2 759.2 872.8 767.2 876.8 772.2 877.2 773.8 876.2 776.2 876.2 776.8 875.8 784.8 875.8 787.2 874.8 790.2 875.2 793.2 874.2 796.2 874.2 802.2 872.2 803.8 872.2 804.8 871.2 808.2 870.8 811.2 868.8 812.8 868.8 814.8 867.2 815.8 867.2 831.2 859.2 834.8 856.8 837.8 855.8 839.2 854.2 843.2 852.2 846.2 849.8 847.2 849.8 852.2 846.8 858.2 842.2 866.8 837.2 868.2 835.8 870.8 834.8 872.8 832.8 875.2 831.8 878.2 829.2 880.8 828.2 884.8 824.8 888.2 823.2 895.8 817.2 899.2 815.8 912.8 805.8 919.2 802.2 929.8 794.2 936.2 790.8 937.2 789.2 936.2 786.8 936.2 784.2 934.2 777.2 933.2 769.8 932.8 769.2 932.8 767.2 932.2 766.8 932.2 764.8 931.2 761.8 931.2 759.2 930.8 758.8 930.8 756.8 929.8 753.8 929.8 750.8 929.2 750.2 928.2 741.8 927.8 741.2 927.2 736.2 926.8 735.8 926.8 732.2 926.2 731.8 926.2 729.2 925.8 728.8 925.8 726.2 925.2 725.8 925.2 723.2 924.8 722.8 924.8 720.2 924.2 719.8 924.2 717.2 923.2 713.8 923.2 710.2 922.8 709.8 922.8 707.2 922.2 706.8 922.2 704.2 921.8 703.8 921.8 701.2 921.2 700.8 921.2 698.2 920.2 694.8 920.2 691.8 919.8 691.2 919.8 688.8 919.2 688.2 918.8 683.2 917.8 680.2 917.8 677.8 916.8 674.8 916.8 671.2 916.2 670.8 916.2 668.8 915.8 668.2 915.8 666.2 915.2 665.8 915.2 663.8 914.2 661.2 914.2 659.2 913.8 658.8 913.8 656.8 913.2 656.2 912.2 650.8 910.2 645.8 909.8 642.8Z"/><path fill="#00e2ff" d="M770.2 736.2 765.8 732.2 762.8 733.2 761.2 734.8 733.2 753.8 731.8 755.2 716.8 765.2 715.2 766.8 711.8 768.8 710.2 770.2 706.8 772.2 678.8 792.2 649.2 814.8 647.8 816.8 648.2 816.2 649.8 816.2 657.8 812.2 660.2 810.2 662.8 809.2 665.2 807.2 668.8 805.8 670.2 804.2 675.2 801.8 676.8 800.2 678.2 799.8 693.8 789.2 695.2 788.8 698.2 786.2 701.2 784.8 705.8 781.2 707.2 780.8 713.2 776.2 720.8 771.8 732.2 763.2 736.2 761.2 757.2 746.2 766.2 740.8 770.2 737.8ZM906.8 636.2 904.8 634.2 902.8 633.2 900.2 633.2 858.8 667.2 849.8 675.2 837.2 688.2 814.2 715.8 799.8 738.2 789.2 758.8 789.2 759.8 786.2 765.2 786.2 766.2 782.2 774.2 782.2 775.2 773.8 792.8 773.8 793.8 771.2 798.8 769.8 803.8 768.8 805.2 768.8 806.2 767.8 807.8 762.8 821.2 761.2 823.8 761.2 824.8 760.2 826.2 755.2 839.8 750.8 849.2 749.2 850.8 748.2 850.2 745.2 850.2 741.8 851.2 738.2 851.2 733.2 847.2 723.2 845.2 718.8 842.8 706.8 831.2 694.8 811.2 693.2 809.8 688.2 807.8 686.8 807.8 683.2 809.2 679.8 812.8 676.2 817.8 666.2 838.2 666.2 839.2 664.8 841.8 664.8 843.8 665.2 844.2 675.2 844.2 675.8 844.8 678.2 844.8 678.8 845.2 683.2 845.8 685.8 846.8 687.8 846.8 692.2 848.8 693.8 848.8 699.8 851.8 704.8 853.2 707.2 854.8 709.8 855.2 715.2 857.8 716.8 857.8 721.8 859.8 726.8 860.8 728.2 861.8 732.2 862.2 737.2 864.2 739.2 864.2 745.2 866.2 747.2 866.2 749.2 867.2 750.8 867.2 758.2 869.8 759.8 870.8 765.2 872.2 766.8 873.2 770.8 873.2 772.8 871.8 776.8 871.8 777.2 871.2 789.2 871.2 789.8 870.8 796.2 870.2 799.2 868.8 801.2 868.8 802.8 867.8 804.2 867.8 808.8 866.2 811.8 864.2 813.2 864.2 814.8 863.2 815.8 863.2 819.8 860.8 820.8 860.8 822.8 859.2 830.2 855.8 840.2 849.2 842.8 848.2 856.2 839.2 858.8 838.2 860.8 836.2 867.2 832.8 869.2 830.8 871.8 829.8 873.8 827.8 877.8 825.8 879.8 823.8 882.2 822.8 888.8 817.8 890.8 817.2 899.8 810.2 904.8 807.8 916.8 798.8 921.8 796.2 934.2 787.2 936.2 785.2 934.2 777.2 933.2 769.8 932.8 769.2 932.8 767.2 932.2 766.8 932.2 764.8 931.2 761.8 931.2 759.2 930.8 758.8 930.8 756.8 929.8 753.8 929.8 750.8 929.2 750.2 928.2 741.8 927.8 741.2 927.2 736.2 926.8 735.8 926.8 732.2 926.2 731.8 926.2 729.2 925.8 728.8 925.8 726.2 925.2 725.8 925.2 723.2 924.8 722.8 924.8 720.2 924.2 719.8 924.2 717.2 923.2 713.8 923.2 710.2 922.8 709.8 922.8 707.2 922.2 706.8 922.2 704.2 921.8 703.8 921.8 701.2 921.2 700.8 921.2 698.2 920.2 694.8 920.2 691.8 919.8 691.2 919.8 688.8 919.2 688.2 918.8 683.2 917.8 680.2 917.8 677.8 916.8 674.8 916.8 671.2 916.2 670.8 916.2 668.8 915.8 668.2 915.8 666.2 915.2 665.8 915.2 663.8 914.2 661.2 914.2 659.2 913.8 658.8 913.8 656.8 913.2 656.2 912.2 650.8 910.2 645.8 909.8 642.8Z"/><path fill="#00feff" d="M764.2 732.8 757.8 737.2 760.2 736.2 763.8 733.8ZM906.8 636.2 904.8 634.2 902.8 633.2 900.2 633.2 858.8 667.2 849.8 675.2 837.2 688.2 814.2 715.8 799.8 738.2 789.2 758.8 789.2 759.8 786.2 765.2 786.2 766.2 782.2 774.2 782.2 775.2 773.8 792.8 773.8 793.8 771.2 798.8 769.8 803.8 768.8 805.2 768.8 806.2 767.8 807.8 762.8 821.2 761.2 823.8 761.2 824.8 760.2 826.2 755.2 839.8 752.2 845.8 751.8 848.2 749.8 850.8 745.2 850.2 741.8 851.2 738.2 851.2 733.2 847.2 723.2 845.2 718.8 842.8 706.8 831.2 694.8 811.2 693.2 809.8 688.2 807.8 686.8 807.8 683.2 809.2 678.2 814.8 673.8 822.2 665.8 839.8 666.8 840.8 668.2 840.8 668.8 841.2 679.2 841.8 681.8 842.8 683.8 842.8 685.8 843.8 687.8 843.8 691.2 845.2 692.8 845.2 704.8 850.8 705.8 850.8 712.8 853.8 715.8 854.2 719.8 856.2 721.8 856.2 723.8 857.2 725.2 857.2 726.8 858.2 728.2 858.2 731.8 859.8 735.8 860.2 739.2 861.8 749.2 863.8 750.8 864.8 752.2 864.8 754.2 865.8 758.8 866.8 765.2 869.8 767.8 869.8 770.8 867.2 784.8 867.2 785.2 866.8 788.2 867.2 790.8 866.2 794.8 866.2 796.8 865.2 802.2 864.2 805.8 862.2 810.2 861.2 812.8 859.8 814.2 859.8 818.2 857.8 820.8 855.8 838.2 846.8 844.8 842.2 848.8 840.2 850.2 838.8 852.8 837.8 857.2 834.2 859.8 833.2 861.8 831.2 868.2 827.8 870.2 825.8 872.8 824.8 874.8 822.8 878.2 821.2 880.2 819.2 884.2 817.2 889.8 812.8 894.8 810.2 902.2 804.2 910.2 799.8 921.2 791.2 924.2 790.2 933.2 783.8 935.2 781.8 935.2 779.8 934.2 777.2 933.2 769.8 932.8 769.2 932.8 767.2 932.2 766.8 932.2 764.8 931.2 761.8 931.2 759.2 930.8 758.8 930.8 756.8 929.8 753.8 929.8 750.8 929.2 750.2 928.2 741.8 927.8 741.2 927.2 736.2 926.8 735.8 926.8 732.2 926.2 731.8 926.2 729.2 925.8 728.8 925.8 726.2 925.2 725.8 925.2 723.2 924.8 722.8 924.8 720.2 924.2 719.8 924.2 717.2 923.2 713.8 923.2 710.2 922.8 709.8 922.8 707.2 922.2 706.8 922.2 704.2 921.8 703.8 921.8 701.2 921.2 700.8 921.2 698.2 920.2 694.8 920.2 691.8 919.8 691.2 919.8 688.8 919.2 688.2 918.8 683.2 917.8 680.2 917.8 677.8 916.8 674.8 916.8 671.2 916.2 670.8 916.2 668.8 915.8 668.2 915.8 666.2 915.2 665.8 915.2 663.8 914.2 661.2 914.2 659.2 913.8 658.8 913.8 656.8 913.2 656.2 912.2 650.8 910.2 645.8 909.8 642.8Z"/><path fill="#00ffe0" d="M906.8 636.2 904.8 634.2 902.8 633.2 900.2 633.2 858.8 667.2 849.8 675.2 837.2 688.2 814.2 715.8 799.8 738.2 789.2 758.8 789.2 759.8 786.2 765.2 786.2 766.2 782.2 774.2 782.2 775.2 773.8 792.8 773.8 793.8 771.2 798.8 769.8 803.8 768.8 805.2 768.8 806.2 767.8 807.8 762.8 821.2 761.2 823.8 761.2 824.8 760.2 826.2 755.2 839.8 753.8 842.2 751.8 849.2 750.2 850.8 745.2 850.2 741.8 851.2 738.2 851.2 733.2 847.2 723.2 845.2 718.8 842.8 706.8 831.2 694.8 811.2 693.2 809.8 688.2 807.8 686.8 807.8 683.2 809.2 678.2 814.8 672.8 824.2 672.8 825.2 669.8 830.8 669.8 831.8 667.2 836.2 667.2 837.2 668.2 838.2 669.8 837.8 670.8 838.2 671.8 837.8 672.2 838.2 676.8 838.2 677.2 838.8 684.8 839.8 688.2 841.2 692.8 842.2 697.8 844.8 702.8 846.2 706.2 848.2 708.8 848.8 710.2 849.8 711.8 849.8 714.2 851.2 718.8 852.8 720.2 852.8 722.2 853.8 724.2 853.8 725.8 854.8 727.2 854.8 728.8 855.8 730.8 855.8 737.2 858.2 740.2 858.2 744.2 859.8 747.8 860.2 749.2 861.2 754.2 862.2 765.2 866.2 767.8 862.8 770.2 862.8 770.8 862.2 778.8 863.2 779.2 862.8 789.8 862.8 790.2 862.2 792.8 862.2 795.2 861.2 798.2 861.2 804.2 859.2 805.8 858.2 810.2 857.2 811.2 856.2 819.2 852.8 821.8 850.8 831.2 846.2 832.2 845.2 836.8 843.2 840.8 840.2 841.8 840.2 865.2 824.8 873.8 819.8 875.8 817.8 877.8 817.2 881.8 813.8 885.2 812.2 890.8 807.8 893.2 806.2 894.2 806.2 906.2 797.2 909.2 796.2 920.2 787.8 925.2 785.2 932.2 779.8 933.8 779.2 934.8 777.8 934.2 777.2 933.2 769.8 932.8 769.2 932.8 767.2 932.2 766.8 932.2 764.8 931.2 761.8 931.2 759.2 930.8 758.8 930.8 756.8 929.8 753.8 929.8 750.8 929.2 750.2 928.2 741.8 927.8 741.2 927.2 736.2 926.8 735.8 926.8 732.2 926.2 731.8 926.2 729.2 925.8 728.8 925.8 726.2 925.2 725.8 925.2 723.2 924.8 722.8 924.8 720.2 924.2 719.8 924.2 717.2 923.2 713.8 923.2 710.2 922.8 709.8 922.8 707.2 922.2 706.8 922.2 704.2 921.8 703.8 921.8 701.2 921.2 700.8 921.2 698.2 920.2 694.8 920.2 691.8 919.8 691.2 919.8 688.8 919.2 688.2 918.8 683.2 917.8 680.2 917.8 677.8 916.8 674.8 916.8 671.2 916.2 670.8 916.2 668.8 915.8 668.2 915.8 666.2 915.2 665.8 915.2 663.8 914.2 661.2 914.2 659.2 913.8 658.8 913.8 656.8 913.2 656.2 912.2 650.8 910.2 645.8 909.8 642.8Z"/><path fill="#00ffc1" d="M906.8 636.2 904.8 634.2 902.8 633.2 900.2 633.2 858.8 667.2 849.8 675.2 837.2 688.2 814.2 715.8 805.2 729.2 804.8 730.8 799.8 738.2 798.2 741.8 797.2 742.8 789.2 758.8 789.2 759.8 786.2 765.2 786.2 766.2 782.2 774.2 782.2 775.2 775.2 789.2 775.2 790.2 771.2 798.8 769.8 803.8 768.8 805.2 768.8 806.2 767.8 807.8 762.8 821.2 761.2 823.8 761.2 824.8 753.2 844.2 753.8 847.8 754.8 849.2 754.8 850.8 754.2 851.2 751.8 851.2 748.2 850.2 738.2 851.2 733.2 847.2 726.8 846.2 720.2 843.8 716.8 841.2 706.8 831.2 694.8 811.2 693.2 809.8 688.2 807.8 686.8 807.8 683.2 809.2 678.2 814.8 672.8 824.2 672.8 825.2 669.8 830.8 668.8 834.2 670.2 835.2 677.2 835.2 677.8 835.8 680.8 835.8 683.2 836.8 685.2 836.8 695.8 840.2 707.8 845.8 710.8 846.2 713.2 847.8 714.8 847.8 717.8 849.2 720.8 849.8 722.2 850.8 724.2 850.8 737.8 855.2 742.2 855.8 744.2 856.8 749.8 857.8 751.2 858.8 753.2 858.8 754.8 859.8 756.2 859.8 758.8 861.2 760.8 861.2 761.2 861.8 763.2 861.8 763.8 861.2 763.8 860.2 762.2 858.2 763.2 857.2 767.2 857.2 767.8 857.8 771.2 857.8 771.8 858.2 772.2 857.8 772.8 858.2 775.8 858.2 776.2 858.8 779.8 858.8 780.2 858.2 780.8 858.8 789.2 858.8 789.8 858.2 795.2 857.8 798.8 856.2 800.8 856.2 804.2 854.8 807.2 854.2 810.2 852.2 811.8 852.2 813.8 850.8 814.8 850.8 823.8 846.2 826.2 844.2 834.8 840.2 842.2 835.2 843.8 834.8 846.8 832.2 847.8 832.2 853.2 828.2 855.8 827.2 857.2 825.8 860.2 824.2 864.8 820.8 867.2 819.8 869.2 817.8 871.8 816.8 874.8 814.2 877.2 813.2 880.8 810.2 884.8 808.2 890.2 803.8 893.2 802.8 902.8 795.2 905.2 793.8 907.2 793.2 918.2 784.8 920.8 783.2 922.8 782.8 932.2 775.8 933.8 774.2 933.8 772.8 933.2 772.2 933.2 769.8 932.8 769.2 932.8 767.2 932.2 766.8 932.2 764.8 931.2 761.8 931.2 759.2 930.8 758.8 930.8 756.8 929.8 753.8 929.8 750.8 929.2 750.2 928.2 741.8 927.8 741.2 927.2 736.2 926.8 735.8 926.8 732.2 926.2 731.8 926.2 729.2 925.8 728.8 925.8 726.2 925.2 725.8 925.2 723.2 924.8 722.8 924.8 720.2 924.2 719.8 924.2 717.2 923.2 713.8 923.2 710.2 922.8 709.8 922.8 707.2 922.2 706.8 922.2 704.2 921.8 703.8 921.8 701.2 921.2 700.8 921.2 698.2 920.2 694.8 920.2 691.8 919.8 691.2 919.8 688.8 919.2 688.2 918.8 683.2 917.8 680.2 917.8 677.8 916.8 674.8 916.8 671.2 916.2 670.8 916.2 668.8 915.8 668.2 915.8 666.2 915.2 665.8 915.2 663.8 914.2 661.2 914.2 659.2 913.8 658.8 913.8 656.8 913.2 656.2 912.2 650.8 910.2 645.8 909.8 642.8Z"/><path fill="#00ffa1" d="M739.8 851.2 739.8 852.2 740.8 852.8 741.2 852.2 751.8 855.8 756.2 856.2 758.8 857.8 760.8 857.8 760.2 855.2 757.8 852.8 755.8 851.8 751.8 851.2 751.2 850.8 748.8 850.8 748.2 850.2 745.2 850.2 744.8 850.8ZM669.8 830.8 670.8 832.2 681.2 832.8 681.8 833.2 683.8 833.2 687.8 834.8 689.2 834.8 690.8 835.8 692.2 835.8 695.2 837.2 696.2 837.2 706.8 842.2 708.8 842.2 710.8 843.8 713.8 844.8 716.2 844.8 718.2 846.2 721.8 846.8 723.2 847.8 725.2 847.8 726.8 848.8 728.8 848.8 732.2 850.2 736.8 850.8 736.8 850.2 733.2 847.2 723.2 845.2 716.8 841.2 706.8 831.2 694.8 811.2 693.2 809.8 688.2 807.8 686.8 807.8 683.2 809.2 679.8 812.8 676.2 817.8ZM904.8 634.2 902.8 633.2 900.2 633.2 899.2 633.8 873.8 655.2 865.2 661.8 849.8 675.2 833.8 692.2 828.2 699.2 821.8 706.2 810.8 720.8 810.2 722.2 799.8 738.2 789.2 758.8 789.2 759.8 786.2 765.2 786.2 766.2 782.2 774.2 782.2 775.2 773.8 792.8 773.8 793.8 771.2 798.8 769.8 803.8 768.8 805.2 768.8 806.2 767.8 807.8 762.8 821.2 761.2 823.8 761.2 824.8 755.2 839.2 755.8 844.2 756.8 846.2 761.2 850.2 765.2 852.2 767.2 852.2 771.2 853.8 773.8 853.8 776.8 854.8 777.2 854.2 785.8 854.8 786.2 854.2 794.2 853.8 797.8 852.2 800.8 852.2 804.8 850.2 806.8 850.2 811.2 847.8 812.2 847.8 836.8 834.8 839.8 832.2 840.8 832.2 845.8 828.8 849.8 826.8 855.8 822.2 858.2 821.2 859.8 819.8 862.2 818.8 864.2 816.8 866.8 815.8 868.2 814.2 870.8 813.2 872.8 811.2 875.2 810.2 878.8 807.2 880.8 806.8 886.8 801.8 889.8 800.8 898.8 793.8 903.2 791.8 914.8 782.8 917.8 781.8 930.2 772.2 932.2 771.8 933.2 770.8 931.8 762.2 931.2 761.8 930.2 754.2 929.8 753.8 929.8 750.8 929.2 750.2 928.2 741.8 927.8 741.2 927.2 736.2 926.8 735.8 926.8 732.2 926.2 731.8 926.2 729.2 925.8 728.8 925.8 726.2 925.2 725.8 925.2 723.2 924.8 722.8 924.8 720.2 924.2 719.8 924.2 717.2 923.2 713.8 923.2 710.2 922.8 709.8 922.8 707.2 922.2 706.8 922.2 704.2 921.8 703.8 921.8 701.2 921.2 700.8 921.2 698.2 920.2 694.8 920.2 691.8 919.8 691.2 919.8 688.8 919.2 688.2 918.8 683.2 917.8 680.2 917.8 677.8 916.8 674.8 916.8 671.2 916.2 670.8 915.2 663.8 914.2 661.2 914.2 659.2 913.8 658.8 913.8 656.8 913.2 656.2 912.2 650.8 910.2 645.8 909.8 642.8 906.8 636.2Z"/><path fill="#00ff82" d="M749.2 851.2 749.8 851.8 751.8 851.8 753.2 852.8 756.8 852.8 756.8 852.2 753.8 851.2 751.8 851.2 751.2 850.8ZM671.8 826.8 671.8 828.2 673.2 829.2 678.8 829.2 679.2 829.8 682.2 829.8 684.2 830.8 686.2 830.8 696.2 834.2 704.8 838.2 708.2 838.8 711.2 840.8 712.8 841.2 715.8 841.2 716.2 840.8 706.8 831.2 694.8 811.2 693.2 809.8 688.2 807.8 686.8 807.8 683.2 809.2 679.8 812.8 676.2 817.8ZM904.8 634.2 902.8 633.2 900.2 633.2 899.2 633.8 873.8 655.2 865.2 661.8 849.8 675.2 833.8 692.2 828.2 699.2 821.8 706.2 810.8 720.8 810.2 722.2 799.8 738.2 789.2 758.8 789.2 759.8 786.2 765.2 786.2 766.2 782.2 774.2 782.2 775.2 773.8 792.8 773.8 793.8 771.2 798.8 769.8 803.8 768.8 805.2 768.8 806.2 767.8 807.8 762.8 821.2 761.2 823.8 761.2 824.8 757.2 833.8 757.2 835.2 756.8 835.8 757.2 839.8 758.2 841.8 761.8 845.2 767.8 848.2 769.2 848.2 771.2 849.2 774.2 849.2 777.2 850.2 785.2 850.8 785.8 850.2 790.8 850.2 793.2 849.2 795.2 849.2 797.2 848.2 801.8 847.8 806.2 845.2 810.8 844.2 820.8 839.2 821.8 838.2 824.2 837.8 828.2 834.8 834.8 831.8 842.8 826.2 843.8 826.2 847.8 823.2 850.2 822.2 856.2 817.8 857.8 817.2 861.8 814.2 864.2 813.2 866.2 811.2 868.8 810.2 870.8 808.2 872.8 807.8 874.8 805.8 878.8 803.8 882.8 800.2 885.8 799.2 893.8 792.8 896.8 791.8 907.2 783.8 909.8 782.2 910.8 782.2 921.2 774.2 923.8 772.8 925.8 772.2 932.2 767.2 932.2 764.8 931.8 764.2 931.2 759.2 930.8 758.8 930.8 756.8 929.8 753.8 929.8 750.8 929.2 750.2 928.2 741.8 927.8 741.2 927.2 736.2 926.8 735.8 926.8 732.2 926.2 731.8 926.2 729.2 925.8 728.8 925.8 726.2 925.2 725.8 925.2 723.2 924.8 722.8 924.8 720.2 924.2 719.8 924.2 717.2 923.2 713.8 923.2 710.2 922.8 709.8 922.8 707.2 922.2 706.8 922.2 704.2 921.8 703.8 921.8 701.2 921.2 700.8 921.2 698.2 920.2 694.8 920.2 691.8 919.8 691.2 919.8 688.8 919.2 688.2 918.8 683.2 917.8 680.2 917.8 677.8 916.8 674.8 916.8 671.2 916.2 670.8 915.2 663.8 914.2 661.2 914.2 659.2 913.8 658.8 913.8 656.8 913.2 656.2 912.2 650.8 910.2 645.8 909.8 642.8 906.8 636.2Z"/><path fill="#00ff6d" d="M672.8 824.2 673.8 825.8 679.8 826.2 680.2 826.8 682.8 826.8 683.2 827.2 686.8 827.8 688.2 828.8 690.2 828.8 695.8 831.2 696.8 831.2 700.2 833.2 701.2 833.2 709.2 836.8 710.8 836.2 710.8 835.2 706.8 831.2 704.2 827.8 699.2 818.2 694.8 811.2 693.2 809.8 688.2 807.8 686.8 807.8 683.2 809.2 679.8 812.8 676.2 817.8ZM904.8 634.2 902.8 633.2 900.2 633.2 899.2 633.8 873.8 655.2 865.2 661.8 849.8 675.2 833.8 692.2 828.2 699.2 821.8 706.2 810.8 720.8 810.2 722.2 805.2 729.2 804.8 730.8 799.8 738.2 798.2 741.8 797.2 742.8 789.2 758.8 789.2 759.8 786.2 765.2 784.8 769.8 777.8 783.8 777.8 784.8 775.2 789.2 772.8 796.2 771.2 798.8 769.8 803.8 758.8 830.2 758.8 835.2 759.2 836.8 762.8 840.8 767.2 843.2 775.2 845.8 779.8 845.8 780.2 846.2 787.2 846.2 787.8 845.8 788.2 846.2 788.8 845.8 792.2 845.8 792.8 845.2 797.2 844.8 800.8 843.2 802.8 843.2 806.2 841.2 811.2 839.8 816.8 836.8 819.8 835.8 822.2 833.8 835.2 827.2 839.8 823.8 840.8 823.8 845.8 820.2 849.8 818.2 859.8 811.2 862.2 810.2 864.2 808.2 866.8 807.2 868.2 805.8 870.8 804.8 872.8 802.8 876.8 800.8 878.8 798.8 882.2 797.2 887.8 792.8 891.2 791.2 900.2 784.2 903.2 783.2 914.8 774.2 917.8 773.2 929.8 764.2 930.8 764.2 931.8 763.2 930.2 754.2 929.8 753.8 929.8 750.8 929.2 750.2 928.2 741.8 927.8 741.2 927.2 736.2 926.8 735.8 926.8 732.2 926.2 731.8 926.2 729.2 925.8 728.8 925.8 726.2 925.2 725.8 925.2 723.2 924.8 722.8 924.8 720.2 924.2 719.8 924.2 717.2 923.2 713.8 923.2 710.2 922.8 709.8 922.8 707.2 922.2 706.8 922.2 704.2 921.8 703.8 921.8 701.2 921.2 700.8 921.2 698.2 920.2 694.8 920.2 691.8 919.8 691.2 919.8 688.8 919.2 688.2 918.8 683.2 917.8 680.2 917.8 677.8 916.8 674.8 916.8 671.2 916.2 670.8 915.2 663.8 914.2 661.2 914.2 659.2 913.8 658.8 913.8 656.8 913.2 656.2 912.2 650.8 910.2 645.8 909.8 642.8 906.8 636.2Z"/><path fill="#00ff59" d="M674.8 820.8 674.8 822.2 675.2 822.8 685.8 824.2 690.8 826.2 693.8 826.8 694.8 827.8 695.8 827.8 698.2 829.2 699.8 829.2 703.2 831.2 705.8 831.2 706.2 830.8 694.8 811.2 693.2 809.8 688.2 807.8 686.8 807.8 683.2 809.2 678.2 814.8ZM904.8 634.2 902.8 633.2 900.2 633.2 899.2 633.8 873.8 655.2 865.2 661.8 849.8 675.2 833.8 692.2 828.2 699.2 821.8 706.2 810.8 720.8 810.2 722.2 805.2 729.2 804.8 730.8 799.8 738.2 798.2 741.8 797.2 742.8 789.2 758.8 789.2 759.8 786.2 765.2 784.8 769.8 777.8 783.8 777.8 784.8 775.2 789.2 772.8 796.2 771.2 798.8 769.8 803.8 768.8 805.2 768.8 806.2 767.8 807.8 762.8 821.2 761.2 823.8 760.2 827.2 760.2 831.2 760.8 832.8 764.2 836.8 769.8 839.8 771.2 839.8 773.2 840.8 777.8 841.2 780.2 842.2 780.8 841.8 785.2 842.2 785.8 841.8 791.2 841.8 795.8 840.2 796.2 840.8 801.8 838.8 803.2 838.8 808.2 836.2 811.2 835.8 828.8 826.8 836.2 821.8 837.2 821.8 840.2 819.2 841.2 819.2 850.8 812.8 853.2 811.8 857.2 808.8 860.2 807.2 861.8 805.8 864.2 804.8 871.2 799.8 872.8 799.2 874.8 797.2 876.8 796.8 881.2 792.8 884.2 791.8 891.8 785.8 894.8 784.8 902.2 778.8 908.8 775.2 919.2 767.2 922.2 766.2 930.8 759.8 930.8 756.8 929.8 753.8 929.8 750.8 929.2 750.2 928.2 741.8 927.8 741.2 927.2 736.2 926.8 735.8 926.8 732.2 926.2 731.8 926.2 729.2 925.8 728.8 925.8 726.2 925.2 725.8 925.2 723.2 924.8 722.8 924.8 720.2 924.2 719.8 924.2 717.2 923.2 713.8 923.2 710.2 922.8 709.8 922.8 707.2 922.2 706.8 922.2 704.2 921.8 703.8 921.8 701.2 921.2 700.8 921.2 698.2 920.2 694.8 920.2 691.8 919.8 691.2 919.8 688.8 919.2 688.2 918.8 683.2 917.8 680.2 917.8 677.8 916.8 674.8 916.8 671.2 916.2 670.8 915.2 663.8 914.2 661.2 914.2 659.2 913.8 658.8 913.8 656.8 913.2 656.2 912.2 650.8 910.2 645.8 909.8 642.8 906.8 636.2Z"/><path fill="#00ff45" d="M676.2 817.8 676.2 818.8 678.8 820.2 681.2 820.2 681.8 820.8 688.2 821.8 689.8 822.8 694.2 824.2 695.8 824.2 697.8 825.8 699.2 825.8 701.8 827.2 703.2 826.2 699.2 818.2 694.8 811.2 693.2 809.8 688.2 807.8 686.8 807.8 683.2 809.2 679.8 812.8ZM904.8 634.2 902.8 633.2 900.2 633.2 899.2 633.8 873.8 655.2 865.2 661.8 849.8 675.2 833.8 692.2 828.2 699.2 821.8 706.2 810.8 720.8 810.2 722.2 799.8 738.2 789.2 758.8 789.2 759.8 786.2 765.2 786.2 766.2 782.2 774.2 782.2 775.2 775.2 789.2 775.2 790.2 773.8 792.8 773.8 793.8 771.2 798.8 769.8 803.8 761.8 823.2 761.8 827.2 762.8 829.8 767.8 834.2 770.2 834.8 772.8 836.2 779.2 837.2 779.8 837.8 790.2 837.8 790.8 837.2 793.2 837.2 793.8 836.8 797.2 836.2 798.8 835.2 803.2 834.8 806.8 832.8 810.8 831.8 815.8 829.2 816.8 828.2 821.8 826.2 824.2 824.2 829.8 821.8 830.8 820.8 833.8 819.8 840.2 815.2 841.2 815.2 844.2 812.8 848.2 810.8 851.2 808.2 853.2 807.8 862.2 801.2 864.2 800.8 866.2 798.8 868.8 797.8 871.2 795.2 873.2 794.8 875.2 792.8 878.8 791.2 883.2 787.2 886.2 786.2 895.2 779.2 898.2 778.2 907.8 770.8 910.2 769.2 912.2 768.8 921.8 761.2 927.8 758.2 930.2 755.8 928.8 744.8 928.2 744.2 928.2 741.8 927.8 741.2 927.2 736.2 926.8 735.8 926.8 732.2 926.2 731.8 926.2 729.2 925.8 728.8 925.8 726.2 925.2 725.8 925.2 723.2 924.8 722.8 924.8 720.2 924.2 719.8 924.2 717.2 923.2 713.8 923.2 710.2 922.8 709.8 922.8 707.2 922.2 706.8 922.2 704.2 921.8 703.8 921.8 701.2 921.2 700.8 921.2 698.2 920.2 694.8 920.2 691.8 919.8 691.2 919.8 688.8 919.2 688.2 918.8 683.2 917.8 680.2 917.8 677.8 916.8 674.8 916.8 671.2 916.2 670.8 915.2 663.8 914.2 661.2 914.2 659.2 913.8 658.8 913.8 656.8 913.2 656.2 912.2 650.8 910.2 645.8 909.8 642.8 906.8 636.2Z"/><path fill="#00ff31" d="M678.2 814.8 678.2 816.2 678.8 816.8 685.2 817.8 687.2 818.8 688.8 818.8 690.2 819.8 692.2 819.8 695.8 821.8 700.8 822.8 700.8 821.2 699.2 818.2 694.8 811.2 691.2 808.8 688.2 807.8 685.2 808.2 683.2 809.2ZM904.8 634.2 902.8 633.2 900.2 633.2 899.2 633.8 873.8 655.2 865.2 661.8 849.8 675.2 837.2 688.2 814.2 715.8 805.2 729.2 804.8 730.8 799.8 738.2 798.2 741.8 797.2 742.8 789.2 758.8 789.2 759.8 786.2 765.2 784.8 769.8 777.8 783.8 777.8 784.8 775.2 789.2 772.8 796.2 771.2 798.8 763.2 820.2 763.8 824.2 764.8 826.2 767.2 828.8 770.2 830.8 775.2 832.8 777.8 832.8 780.2 833.8 780.8 833.2 781.2 833.8 783.8 833.8 784.2 833.2 784.8 833.8 789.8 833.8 791.8 832.8 792.2 833.2 798.8 831.2 800.8 831.2 807.2 828.2 810.2 827.8 812.8 826.2 813.8 826.2 820.2 822.2 830.8 817.2 834.8 814.2 835.8 814.2 842.2 809.8 843.2 809.8 851.2 804.2 853.2 803.8 855.2 801.8 860.8 798.8 862.8 796.8 865.2 795.8 866.8 794.2 869.2 793.2 871.8 790.8 873.8 790.2 877.2 787.2 879.2 786.8 885.2 781.8 888.2 780.8 897.8 773.2 900.8 772.2 909.8 765.2 912.2 763.8 914.2 763.2 923.8 755.8 926.2 754.2 928.2 753.8 929.8 752.2 928.8 744.8 928.2 744.2 928.2 741.8 927.8 741.2 927.2 736.2 926.8 735.8 926.8 732.2 926.2 731.8 926.2 729.2 925.8 728.8 923.8 714.2 923.2 713.8 923.2 710.2 922.8 709.8 922.8 707.2 922.2 706.8 922.2 704.2 921.8 703.8 921.8 701.2 921.2 700.8 921.2 698.2 920.2 694.8 920.2 691.8 919.8 691.2 919.8 688.8 919.2 688.2 918.8 683.2 917.8 680.2 917.8 677.8 916.8 674.8 916.8 671.2 916.2 670.8 915.2 663.8 914.2 661.2 914.2 659.2 913.8 658.8 913.8 656.8 913.2 656.2 912.2 650.8 910.2 645.8 909.8 642.8 906.8 636.2Z"/><path fill="#00ff1d" d="M680.2 812.2 680.8 813.8 687.8 815.2 689.2 816.2 691.2 816.2 693.8 817.8 695.8 817.8 696.2 818.2 698.2 818.2 698.8 817.8 694.8 811.2 693.2 809.8 688.2 807.8 686.8 807.8 683.2 809.2ZM904.8 634.2 902.8 633.2 900.2 633.2 899.2 633.8 873.8 655.2 865.2 661.8 849.8 675.2 837.2 688.2 814.2 715.8 805.2 729.2 804.8 730.8 799.8 738.2 798.2 741.8 797.2 742.8 789.2 758.8 789.2 759.8 786.2 765.2 784.8 769.8 777.8 783.8 777.8 784.8 775.2 789.2 772.8 796.2 771.2 798.8 764.8 816.2 764.8 818.8 766.2 822.2 769.8 825.8 773.8 827.8 776.2 827.8 780.2 829.2 783.2 829.2 783.8 829.8 784.2 829.2 786.8 829.2 787.2 829.8 789.2 829.8 789.8 829.2 792.2 829.2 794.2 828.2 798.2 827.8 800.2 826.8 802.2 826.8 807.8 823.8 811.2 823.2 814.2 821.2 821.2 818.2 827.2 814.2 829.8 813.8 842.2 805.8 843.2 805.8 848.2 801.8 850.2 801.2 854.8 797.8 857.2 796.8 860.2 794.2 864.2 792.2 866.2 790.2 868.8 789.2 870.2 787.8 874.2 785.8 876.2 783.8 879.8 782.2 885.8 777.2 888.2 776.8 896.2 770.2 898.8 768.8 900.8 768.2 910.2 760.8 912.8 759.2 914.8 758.8 925.8 750.2 928.8 749.2 929.2 747.8 928.8 747.2 928.2 741.8 927.2 738.8 926.8 732.2 926.2 731.8 926.2 729.2 925.8 728.8 925.8 726.2 925.2 725.8 925.2 723.2 924.8 722.8 924.8 720.2 924.2 719.8 924.2 717.2 923.2 713.8 923.2 710.2 922.8 709.8 922.8 707.2 922.2 706.8 922.2 704.2 921.8 703.8 921.8 701.2 921.2 700.8 921.2 698.2 920.2 694.8 920.2 691.8 919.8 691.2 919.8 688.8 919.2 688.2 918.8 683.2 917.8 680.2 917.8 677.8 916.8 674.8 916.8 671.2 916.2 670.8 915.2 663.8 914.2 661.2 914.2 659.2 913.8 658.8 913.8 656.8 913.2 656.2 912.2 650.8 910.2 645.8 909.8 642.8 906.8 636.2Z"/><path fill="#00ff09" d="M682.8 810.2 683.8 811.2 690.2 812.8 693.8 814.2 695.8 814.2 696.2 813.8 693.2 809.8 688.2 807.8 685.2 808.2 683.2 809.2ZM904.8 634.2 902.8 633.2 900.2 633.2 899.2 633.8 873.8 655.2 865.2 661.8 849.8 675.2 837.2 688.2 814.2 715.8 805.2 729.2 804.8 730.8 799.8 738.2 798.2 741.8 797.2 742.8 789.2 758.8 789.2 759.8 786.2 765.2 784.8 769.8 777.8 783.8 777.8 784.8 775.2 789.2 772.8 796.2 771.2 798.8 769.8 803.8 767.8 807.8 766.8 810.8 766.8 812.8 766.2 813.2 766.2 814.8 767.8 818.2 771.2 821.8 777.2 824.2 786.2 825.2 786.8 824.8 792.8 824.8 793.2 824.2 793.8 824.8 797.8 823.2 799.8 823.2 804.2 821.2 806.8 821.2 808.8 819.8 810.8 819.2 816.8 815.8 817.8 815.8 824.8 811.8 826.8 811.2 831.8 807.8 838.8 804.2 844.2 800.2 845.2 800.2 851.2 795.8 853.2 795.2 857.8 791.8 860.2 790.8 863.2 788.2 868.8 785.2 870.8 783.2 872.8 782.8 875.8 779.8 878.8 778.8 884.2 774.2 887.2 773.2 896.8 765.8 899.8 764.8 909.8 756.8 912.2 756.2 923.2 747.8 925.2 747.2 928.2 745.2 928.2 741.8 927.2 738.8 926.8 732.2 926.2 731.8 926.2 729.2 925.8 728.8 925.8 726.2 925.2 725.8 925.2 723.2 924.8 722.8 924.8 720.2 924.2 719.8 924.2 717.2 923.2 713.8 923.2 710.2 922.8 709.8 922.8 707.2 922.2 706.8 922.2 704.2 921.8 703.8 921.8 701.2 921.2 700.8 921.2 698.2 920.2 694.8 920.2 691.8 919.8 691.2 919.8 688.8 919.2 688.2 918.8 683.2 917.8 680.2 917.8 677.8 916.8 674.8 916.8 671.2 916.2 670.8 915.2 663.8 914.2 661.2 914.2 659.2 913.8 658.8 913.8 656.8 913.2 656.2 912.2 650.8 910.2 645.8 909.8 642.8 906.8 636.2Z"/><path fill="#0eff00" d="M687.8 808.2 687.8 808.8 689.8 809.2 689.8 808.2ZM904.8 634.2 902.8 633.2 900.2 633.2 899.2 633.8 873.8 655.2 865.2 661.8 849.8 675.2 837.2 688.2 814.2 715.8 805.2 729.2 804.8 730.8 799.8 738.2 798.2 741.8 797.2 742.8 789.2 758.8 789.2 759.8 786.2 765.2 784.8 769.8 777.8 783.8 777.8 784.8 775.2 789.2 772.8 796.2 771.2 798.8 771.2 799.8 768.2 806.8 768.2 812.2 769.2 814.2 772.2 817.2 778.8 820.2 788.2 821.2 788.8 820.8 791.8 820.8 792.2 820.2 797.2 819.8 804.2 817.2 806.2 817.2 809.2 815.2 810.2 815.2 814.8 812.8 815.8 812.8 822.2 808.8 823.2 808.8 830.8 804.8 841.8 797.8 842.8 797.8 848.2 793.8 849.2 793.8 854.2 789.8 856.2 789.2 861.2 785.2 863.2 784.8 865.2 782.8 867.8 781.8 869.8 779.8 871.8 779.2 874.2 776.8 877.8 775.2 882.2 771.2 884.8 770.8 894.2 763.2 896.8 762.8 906.8 754.8 909.8 753.8 918.8 746.8 921.2 745.2 923.2 744.8 927.8 740.8 927.2 736.2 926.8 735.8 926.8 732.2 926.2 731.8 926.2 729.2 925.8 728.8 925.8 726.2 925.2 725.8 925.2 723.2 924.8 722.8 924.8 720.2 924.2 719.8 924.2 717.2 923.2 713.8 923.2 710.2 922.8 709.8 922.8 707.2 922.2 706.8 922.2 704.2 921.8 703.8 921.8 701.2 921.2 700.8 921.2 698.2 920.2 694.8 920.2 691.8 919.8 691.2 919.8 688.8 919.2 688.2 918.8 683.2 917.8 680.2 917.8 677.8 916.8 674.8 916.8 671.2 916.2 670.8 915.2 663.8 914.2 661.2 913.8 656.8 909.8 642.8 906.8 636.2Z"/><path fill="#2cff00" d="M904.8 634.2 902.8 633.2 900.2 633.2 899.2 633.8 873.8 655.2 865.2 661.8 849.8 675.2 837.2 688.2 814.2 715.8 805.2 729.2 804.8 730.8 799.8 738.2 798.2 741.8 797.2 742.8 789.2 758.8 789.2 759.8 786.2 765.2 784.8 769.8 777.8 783.8 777.8 784.8 775.2 789.2 772.8 796.2 771.2 798.8 771.2 799.8 769.8 802.8 769.8 808.2 770.8 810.2 774.2 813.8 781.8 816.2 785.8 816.2 786.2 816.8 786.8 816.2 793.2 816.2 793.8 815.8 796.2 815.8 796.8 815.2 800.2 814.8 803.2 813.2 805.8 813.2 812.8 809.8 813.8 808.8 819.8 806.8 822.2 804.8 823.2 804.8 826.2 803.2 828.8 801.2 836.8 797.2 839.8 794.8 841.2 794.2 843.8 792.2 844.8 792.2 850.2 788.2 852.8 787.2 860.2 781.8 862.2 781.2 864.2 779.2 870.8 775.8 873.2 773.2 875.2 772.8 880.8 768.2 883.8 767.2 889.8 762.2 892.2 760.8 894.2 760.2 902.2 753.8 904.8 752.2 906.8 751.8 916.2 744.2 919.2 743.2 926.8 737.8 927.2 736.8 926.8 735.8 926.8 732.2 926.2 731.8 926.2 729.2 925.8 728.8 925.8 726.2 925.2 725.8 925.2 723.2 924.8 722.8 924.8 720.2 924.2 719.8 924.2 717.2 923.2 713.8 923.2 710.2 922.8 709.8 922.8 707.2 922.2 706.8 922.2 704.2 921.8 703.8 921.8 701.2 921.2 700.8 921.2 698.2 920.2 694.8 920.2 691.8 919.8 691.2 919.8 688.8 919.2 688.2 918.8 683.2 917.8 680.2 917.8 677.8 916.8 674.8 916.8 671.2 916.2 670.8 915.2 663.8 914.2 661.2 914.2 659.2 913.8 658.8 913.8 656.8 913.2 656.2 912.2 650.8 910.2 645.8 909.8 642.8 906.8 636.2Z"/><path fill="#49ff00" d="M904.8 634.2 902.8 633.2 900.2 633.2 899.2 633.8 873.8 655.2 865.2 661.8 849.8 675.2 837.2 688.2 814.2 715.8 805.2 729.2 804.8 730.8 799.8 738.2 798.2 741.8 797.2 742.8 789.2 758.8 789.2 759.8 786.2 765.2 786.2 766.2 782.2 774.2 782.2 775.2 773.8 792.8 773.8 793.8 771.2 799.2 771.2 804.2 772.2 806.2 774.8 808.8 781.2 811.8 783.8 811.8 784.2 812.2 791.8 812.2 792.2 811.8 793.8 812.2 795.8 811.2 799.8 810.8 804.8 808.8 806.2 808.8 808.2 807.2 809.2 807.2 820.2 801.8 821.2 801.8 824.8 799.2 829.2 797.2 837.8 791.8 847.2 786.8 856.2 780.2 858.2 779.8 863.2 775.8 865.2 775.2 867.2 773.2 869.8 772.2 872.2 769.8 874.2 769.2 878.2 765.8 881.2 764.8 887.2 759.8 890.2 758.8 899.8 751.2 902.8 750.2 912.2 742.8 916.2 741.2 920.2 737.8 926.2 733.8 926.8 732.2 926.2 731.8 926.2 729.2 925.8 728.8 925.8 726.2 925.2 725.8 925.2 723.2 924.8 722.8 924.8 720.2 924.2 719.8 924.2 717.2 923.2 713.8 923.2 710.2 922.8 709.8 922.8 707.2 922.2 706.8 922.2 704.2 921.8 703.8 921.8 701.2 921.2 700.8 921.2 698.2 920.2 694.8 920.2 691.8 919.8 691.2 919.8 688.8 919.2 688.2 918.8 683.2 917.8 680.2 917.8 677.8 916.8 674.8 916.8 671.2 916.2 670.8 915.2 663.8 914.2 661.2 913.8 656.8 909.8 642.8 906.8 636.2Z"/><path fill="#67ff00" d="M904.8 634.2 902.8 633.2 900.2 633.2 899.2 633.8 873.8 655.2 865.2 661.8 849.8 675.2 837.2 688.2 814.2 715.8 805.2 729.2 804.8 730.8 799.8 738.2 798.2 741.8 797.2 742.8 789.2 758.8 789.2 759.8 786.2 765.2 786.2 766.2 782.2 774.2 782.2 775.2 773.8 792.8 773.8 793.8 772.8 795.2 772.8 799.8 773.8 802.2 777.8 805.8 781.2 807.2 784.2 807.2 786.2 808.2 787.2 807.8 787.8 808.2 791.2 808.2 793.8 807.2 801.2 806.2 802.8 805.2 805.8 804.8 807.8 803.2 808.8 803.2 815.8 800.2 816.8 799.2 823.2 796.2 825.8 794.2 827.2 794.2 831.8 791.8 833.2 790.2 836.8 788.8 839.2 786.8 840.2 786.8 843.2 784.2 852.2 779.2 862.2 772.2 864.8 771.2 866.8 769.2 868.8 768.8 870.8 766.8 872.8 766.2 876.8 762.8 880.2 761.2 884.8 757.2 889.2 755.2 896.8 749.2 899.8 748.2 909.2 740.8 911.8 740.2 921.8 732.2 924.2 731.8 925.8 730.8 926.2 729.2 925.8 728.8 925.8 726.2 925.2 725.8 925.2 723.2 924.8 722.8 924.8 720.2 924.2 719.8 924.2 717.2 923.2 713.8 923.2 710.2 922.8 709.8 922.8 707.2 922.2 706.8 922.2 704.2 921.8 703.8 921.8 701.2 921.2 700.8 921.2 698.2 920.8 697.8 918.8 683.2 917.8 680.2 917.8 677.8 916.8 674.8 916.8 671.2 916.2 670.8 915.2 663.8 914.2 661.2 913.8 656.8 909.8 642.8 906.8 636.2Z"/><path fill="#84ff00" d="M904.8 634.2 902.8 633.2 900.2 633.2 899.2 633.8 849.8 675.2 837.2 688.2 815.8 713.8 805.2 729.2 804.8 730.8 799.8 738.2 798.2 741.8 797.2 742.8 789.2 758.8 789.2 759.8 786.2 765.2 786.2 766.2 782.2 774.2 782.2 775.2 775.2 789.2 775.2 790.2 774.2 791.8 774.2 795.8 775.2 798.2 777.2 800.2 783.8 803.2 791.8 803.8 792.2 803.2 795.8 803.2 803.2 800.8 805.2 800.8 806.2 799.8 808.2 799.2 813.8 796.2 817.8 795.2 822.2 792.2 825.8 791.2 828.8 788.8 829.8 788.8 834.2 785.8 836.8 784.8 841.2 781.2 842.2 781.2 847.2 778.2 858.8 770.2 860.8 769.8 865.8 765.8 867.8 765.2 870.2 762.8 872.2 762.2 875.8 759.2 877.8 758.8 883.2 754.2 886.8 752.8 894.2 746.8 896.8 746.2 905.2 739.2 907.8 738.8 915.8 732.2 918.2 730.8 920.2 730.2 925.2 726.2 925.2 723.2 924.8 722.8 924.8 720.2 924.2 719.8 924.2 717.2 923.2 713.8 923.2 710.2 922.8 709.8 922.8 707.2 922.2 706.8 922.2 704.2 921.8 703.8 921.8 701.2 921.2 700.8 921.2 698.2 920.2 694.8 920.2 691.8 919.8 691.2 919.8 688.8 919.2 688.2 918.8 683.2 917.8 680.2 917.8 677.8 916.8 674.8 916.8 671.2 916.2 670.8 915.2 663.8 914.2 661.2 913.8 656.8 909.8 642.8 906.8 636.2Z"/><path fill="#a2ff00" d="M904.8 634.2 902.8 633.2 900.2 633.2 899.2 633.8 849.8 675.2 837.2 688.2 815.8 713.8 805.2 729.2 804.8 730.8 799.8 738.2 798.2 741.8 797.2 742.8 789.2 758.8 789.2 759.8 786.2 765.2 786.2 766.2 782.2 774.2 782.2 775.2 777.8 783.8 777.8 784.8 775.8 788.8 775.8 791.2 777.2 794.2 779.8 796.8 781.8 797.2 784.2 798.8 787.2 798.8 787.8 799.2 793.8 799.2 796.8 798.2 797.2 798.8 797.8 798.2 802.8 797.2 808.2 794.8 809.8 794.8 815.8 791.2 820.2 789.8 821.2 788.8 830.2 784.2 832.8 782.2 836.2 780.8 838.8 778.8 839.8 778.8 842.2 777.2 845.2 774.8 852.8 770.8 862.8 763.8 864.2 763.2 868.8 759.8 871.2 758.8 874.8 755.8 876.8 755.2 882.2 750.8 885.2 749.8 891.8 744.2 894.8 743.2 902.2 737.2 905.2 736.2 913.2 729.8 917.2 728.2 924.8 722.2 923.8 714.2 923.2 713.8 923.2 710.2 922.8 709.8 922.8 707.2 922.2 706.8 922.2 704.2 921.8 703.8 921.8 701.2 921.2 700.8 921.2 698.2 920.2 694.8 919.8 688.8 918.8 685.8 918.8 683.2 918.2 682.8 917.8 677.8 916.8 674.8 916.8 671.2 916.2 670.8 915.2 663.8 914.2 661.2 913.8 656.8 909.8 642.8 906.8 636.2Z"/><path fill="#b5ff00" d="M904.8 634.2 902.8 633.2 900.2 633.2 899.2 633.8 849.8 675.2 837.2 688.2 815.8 713.8 805.2 729.2 804.8 730.8 799.8 738.2 798.2 741.8 797.2 742.8 789.2 758.8 789.2 759.8 786.2 765.2 786.2 766.2 782.2 774.2 782.2 775.2 777.8 783.8 777.2 787.2 778.8 790.2 780.8 792.2 783.8 793.8 785.2 793.8 787.8 794.8 798.8 794.2 800.8 793.2 803.8 792.8 805.2 791.8 806.8 791.8 810.8 789.2 812.2 789.2 813.8 788.2 814.8 788.2 820.8 785.2 821.8 784.2 822.8 784.2 825.8 782.8 828.2 780.8 836.2 776.8 840.8 773.2 841.8 773.2 842.8 772.2 843.8 772.2 856.2 763.8 859.2 762.2 860.8 760.8 862.8 760.2 873.2 752.8 875.2 752.2 879.8 748.2 883.2 746.8 890.2 741.2 893.2 740.2 899.8 734.8 902.2 733.2 904.2 732.8 911.8 726.8 914.8 725.8 924.2 718.2 923.8 714.2 923.2 713.8 923.2 710.2 922.8 709.8 922.2 704.2 921.8 703.8 921.8 701.2 921.2 700.8 921.2 698.2 920.8 697.8 920.8 695.2 920.2 694.8 919.8 688.8 918.8 685.8 918.8 683.2 918.2 682.8 917.8 677.8 916.8 674.8 916.8 671.2 916.2 670.8 915.2 663.8 914.2 661.2 913.8 656.8 909.8 642.8 906.8 636.2Z"/><path fill="#c6ff00" d="M904.8 634.2 902.8 633.2 900.2 633.2 858.8 667.2 843.2 681.8 821.8 706.2 814.2 715.8 802.8 733.2 798.2 741.8 797.2 742.8 789.2 758.8 789.2 759.8 786.2 765.2 784.8 769.8 779.2 780.8 779.8 785.2 781.8 787.8 786.2 789.8 788.8 789.8 789.2 790.2 796.2 789.8 796.8 790.2 799.2 789.2 801.2 789.2 803.8 787.8 808.2 786.8 810.2 785.2 812.2 785.2 814.8 783.8 815.8 783.8 816.8 782.8 823.2 779.8 828.8 776.2 837.8 771.8 855.8 759.8 857.2 759.2 859.8 757.2 861.8 756.8 872.2 749.2 874.8 748.2 878.8 744.8 881.8 743.8 887.8 738.8 890.8 737.8 898.8 731.2 901.2 730.8 907.8 725.2 910.8 724.2 918.2 718.2 920.8 716.8 922.8 716.2 923.8 715.2 922.2 704.2 921.8 703.8 921.8 701.2 921.2 700.8 921.2 698.2 920.8 697.8 920.8 695.2 920.2 694.8 919.8 688.8 918.8 685.8 918.8 683.2 918.2 682.8 917.8 677.8 916.8 674.8 916.8 671.2 916.2 670.8 915.2 663.8 914.2 661.2 913.8 656.8 909.8 642.8 906.8 636.2Z"/><path fill="#d6ff00" d="M904.8 634.2 902.8 633.2 900.2 633.2 858.8 667.2 843.2 681.8 821.8 706.2 810.8 720.8 810.2 722.2 805.2 729.2 804.8 730.8 799.8 738.2 798.2 741.8 797.2 742.8 789.2 758.8 789.2 759.8 786.2 765.2 784.8 769.8 781.2 776.8 780.8 779.2 781.8 781.8 783.2 783.2 788.8 785.8 797.2 785.8 797.8 785.2 799.8 785.2 803.8 783.8 805.8 783.8 808.2 781.8 811.8 781.2 813.8 779.8 814.8 779.8 825.8 774.2 829.2 771.8 839.8 766.2 842.2 764.2 843.2 764.2 849.8 759.8 851.2 759.2 861.2 752.8 862.8 751.2 864.8 750.8 866.2 749.2 873.8 744.8 877.2 741.8 879.2 741.2 885.2 736.2 887.8 735.8 894.2 730.2 896.8 728.8 898.8 728.2 904.8 723.2 907.8 722.2 915.8 715.8 918.8 714.8 922.8 711.8 923.2 710.2 922.8 709.8 922.8 707.2 922.2 706.8 922.2 704.2 921.8 703.8 921.8 701.2 921.2 700.8 921.2 698.2 920.2 694.8 920.2 691.8 919.8 691.2 919.8 688.8 919.2 688.2 918.8 683.2 917.8 680.2 917.8 677.8 916.8 674.8 916.8 671.2 916.2 670.8 915.2 663.8 914.2 661.2 913.8 656.8 909.8 642.8 906.8 636.2Z"/><path fill="#e6ff00" d="M904.8 634.2 902.8 633.2 900.2 633.2 858.8 667.2 843.2 681.8 821.8 706.2 814.2 715.8 802.8 733.2 798.2 741.8 797.2 742.8 789.2 758.8 789.2 759.8 786.2 765.2 786.2 766.2 784.8 768.8 782.8 774.2 783.2 777.2 785.8 779.8 790.2 781.2 798.2 781.2 803.2 779.8 804.8 778.8 810.2 777.8 813.2 775.8 814.8 775.8 816.8 774.2 823.8 771.2 824.8 770.2 837.8 763.2 840.2 761.2 841.2 761.2 844.2 758.8 856.2 751.8 861.8 747.8 863.8 747.2 868.8 743.2 872.2 741.8 874.8 739.2 877.8 738.2 882.8 733.8 885.8 732.8 891.8 727.8 894.2 726.2 896.2 725.8 902.2 720.8 905.2 719.8 913.2 713.2 915.8 712.8 919.8 709.2 921.8 708.2 922.2 707.2 922.2 704.2 921.8 703.8 919.8 688.8 918.8 685.8 918.8 683.2 918.2 682.8 917.8 677.8 916.8 674.8 916.8 671.2 916.2 670.8 915.2 663.8 914.2 661.2 913.8 656.8 909.8 642.8 906.8 636.2Z"/><path fill="#f6ff00" d="M904.8 634.2 902.8 633.2 900.2 633.2 858.8 667.2 843.2 681.8 821.8 706.2 810.8 720.8 810.2 722.2 805.2 729.2 804.8 730.8 799.8 738.2 798.2 741.8 797.2 742.8 785.8 766.8 785.2 772.8 787.2 775.2 791.8 776.8 797.8 776.8 798.2 776.2 808.8 773.8 812.2 771.8 814.2 771.8 818.2 769.2 822.2 767.8 824.8 765.8 829.8 763.8 835.8 759.8 839.2 758.2 842.2 755.8 844.8 754.2 845.8 754.2 849.8 751.2 850.8 751.2 858.2 745.8 860.2 745.2 864.8 741.8 871.2 738.2 873.8 735.8 877.2 734.2 881.2 730.8 884.2 729.8 888.8 725.8 891.2 724.2 893.2 723.8 899.8 718.2 902.8 717.2 908.8 712.2 911.2 710.8 913.2 710.2 919.8 704.8 921.2 704.2 921.8 701.2 921.2 700.8 919.8 688.8 918.8 685.8 918.8 683.2 918.2 682.8 917.8 677.8 916.8 674.8 916.8 671.2 916.2 670.8 915.2 663.8 914.2 661.2 913.8 656.8 909.8 642.8 906.8 636.2Z"/><path fill="#fff200" d="M904.8 634.2 902.8 633.2 900.2 633.2 858.8 667.2 843.2 681.8 821.8 706.2 810.8 720.8 810.2 722.2 805.2 729.2 804.8 730.8 799.8 738.2 798.2 741.8 797.2 742.8 789.2 758.8 789.2 759.8 787.8 762.8 787.2 768.8 789.2 770.8 793.8 772.2 794.8 771.8 800.2 771.8 802.2 770.8 803.8 770.8 805.8 769.8 812.2 768.2 820.2 764.2 821.2 764.2 823.8 762.2 833.8 757.2 838.8 753.8 839.8 753.8 845.2 749.8 846.2 749.8 851.8 745.8 858.2 742.2 864.2 737.8 866.2 737.2 868.2 735.2 870.2 734.8 872.8 732.2 875.8 731.2 880.2 727.2 883.8 725.8 888.2 721.8 890.8 721.2 896.8 716.2 899.2 714.8 900.2 714.8 906.2 709.8 908.8 708.2 910.8 707.8 916.8 702.8 919.8 701.8 921.2 700.2 919.8 688.8 919.2 688.2 918.8 683.2 917.8 680.2 917.8 677.8 916.8 674.8 916.8 671.2 916.2 670.8 915.2 663.8 914.2 661.2 913.8 656.8 909.8 642.8 906.8 636.2Z"/><path fill="#ffd800" d="M904.8 634.2 902.8 633.2 900.2 633.2 896.8 635.8 854.8 670.8 843.2 681.8 833.8 692.2 814.2 715.8 799.8 738.2 789.8 758.2 789.8 764.2 790.8 765.8 794.8 767.2 802.2 766.8 806.2 765.2 808.2 765.2 809.8 764.2 813.2 763.8 816.2 761.8 817.2 761.8 824.2 758.2 825.2 757.2 840.2 749.2 841.8 747.8 849.2 743.8 852.2 741.2 853.2 741.2 867.2 731.8 869.8 730.8 872.8 728.2 874.8 727.8 879.2 723.8 882.2 722.8 886.8 718.8 889.8 717.8 895.8 712.8 898.8 711.8 905.2 706.2 908.2 705.2 914.2 700.2 917.2 699.2 920.8 696.2 919.8 688.8 918.8 685.8 918.8 683.2 917.8 680.2 917.8 677.8 916.8 674.8 916.8 671.2 916.2 670.8 916.2 668.8 915.8 668.2 915.8 666.2 915.2 665.8 915.2 663.8 914.2 661.2 914.2 659.2 913.8 658.8 913.8 656.8 913.2 656.2 912.2 650.8 908.8 640.2 906.8 636.2Z"/><path fill="#ffbf00" d="M904.8 634.2 902.8 633.2 900.2 633.2 896.8 635.8 854.8 670.8 843.2 681.8 833.8 692.2 814.2 715.8 799.8 738.2 791.8 754.2 791.8 758.8 793.8 761.2 794.8 761.8 797.8 761.8 798.2 762.2 798.8 761.8 801.8 762.2 804.2 761.2 805.2 761.8 810.2 759.8 814.8 758.8 815.8 757.8 818.2 757.2 822.8 754.2 823.8 754.2 826.8 752.8 827.8 751.8 840.8 744.8 843.2 742.8 847.2 740.8 850.2 738.2 851.2 738.2 856.2 735.2 858.2 733.2 861.8 731.8 873.2 723.8 875.8 722.8 879.8 719.2 881.8 718.8 887.2 714.2 890.2 713.2 894.8 709.2 897.2 707.8 898.2 707.8 904.2 702.8 907.2 701.8 912.8 697.2 916.2 695.8 919.8 692.8 920.2 691.8 919.8 691.2 919.8 688.8 919.2 688.2 918.8 683.2 917.8 680.2 917.8 677.8 916.8 674.8 916.8 671.2 916.2 670.8 916.2 668.8 915.8 668.2 915.8 666.2 915.2 665.8 915.2 663.8 914.2 661.2 914.2 659.2 913.8 658.8 913.8 656.8 913.2 656.2 912.2 650.8 908.8 640.2 906.8 636.2Z"/><path fill="#ffa500" d="M904.8 634.2 902.8 633.2 900.2 633.2 899.2 633.8 849.8 675.2 837.2 688.2 815.8 713.8 802.8 733.2 798.2 741.8 797.2 742.8 793.8 750.8 793.8 753.8 795.8 756.2 799.2 756.8 799.8 757.2 806.8 756.8 808.8 755.8 810.2 755.8 811.8 754.8 813.8 754.8 815.8 753.2 820.2 751.8 823.2 749.8 829.2 747.2 837.8 741.8 845.2 737.8 848.2 735.2 851.2 734.2 854.8 731.2 863.8 726.2 868.2 722.8 870.2 722.2 872.2 720.2 876.2 718.2 880.2 714.8 882.2 714.2 887.8 709.8 891.2 708.2 895.2 704.8 898.8 703.2 902.8 699.8 907.8 697.2 912.2 693.2 915.2 692.2 918.8 689.8 919.2 688.8 919.2 686.2 918.8 685.8 918.8 683.2 918.2 682.8 917.8 677.8 916.8 674.8 916.8 671.2 916.2 670.8 916.2 668.8 915.8 668.2 915.8 666.2 915.2 665.8 915.2 663.8 914.2 661.2 914.2 659.2 913.8 658.8 913.8 656.8 913.2 656.2 912.2 650.8 908.8 640.2 906.8 636.2Z"/><path fill="#ff8c00" d="M904.8 634.2 902.8 633.2 900.2 633.2 899.2 633.8 849.8 675.2 837.2 688.2 815.8 713.8 805.2 729.2 796.8 743.8 795.8 748.8 797.2 750.8 800.2 752.2 805.8 752.2 810.2 750.8 812.2 750.8 813.8 749.8 819.8 747.8 823.8 745.2 832.2 741.2 833.2 740.2 839.2 737.2 842.2 734.8 845.2 733.8 852.8 728.2 853.8 728.2 858.8 725.2 864.8 720.8 866.8 720.2 868.8 718.2 870.8 717.8 873.2 715.2 876.8 713.8 880.8 710.2 882.8 709.8 888.2 705.2 891.2 704.2 895.8 700.2 899.2 698.8 903.2 695.2 905.8 693.8 906.8 693.8 912.8 688.8 915.8 687.8 918.8 685.2 917.8 677.8 916.8 674.8 916.8 671.2 916.2 670.8 916.2 668.8 915.8 668.2 915.8 666.2 915.2 665.8 915.2 663.8 914.2 661.2 914.2 659.2 913.8 658.8 913.8 656.8 913.2 656.2 912.2 650.8 908.8 640.2 906.8 636.2Z"/><path fill="#ff7400" d="M904.8 634.2 902.8 633.2 900.2 633.2 858.8 667.2 843.2 681.8 821.8 706.2 810.8 720.8 810.2 722.2 805.2 729.2 798.8 740.2 798.2 744.2 799.8 746.2 802.2 747.2 802.8 746.8 803.2 747.2 807.8 747.2 808.2 746.8 811.8 746.2 814.8 744.8 819.8 743.2 825.2 740.2 826.2 740.2 834.2 735.2 837.2 734.2 838.8 732.8 848.8 726.8 849.8 726.8 852.8 724.2 859.2 720.8 864.8 716.8 867.2 715.8 869.2 713.8 871.2 713.2 873.8 710.8 877.2 709.2 881.2 705.8 883.2 705.2 888.8 700.8 891.8 699.8 896.8 695.2 899.8 694.2 903.8 690.8 907.2 689.2 913.2 684.2 916.2 683.2 918.2 680.8 917.8 680.2 917.8 677.8 916.8 674.8 916.8 671.2 916.2 670.8 916.2 668.8 915.8 668.2 915.8 666.2 915.2 665.8 915.2 663.8 914.2 661.2 914.2 659.2 913.8 658.8 913.8 656.8 913.2 656.2 912.2 650.8 908.8 640.2 906.8 636.2Z"/><path fill="#ff5e00" d="M904.8 634.2 902.8 633.2 900.2 633.2 858.8 667.2 843.2 681.8 821.8 706.2 810.8 720.8 810.2 722.2 802.8 733.2 800.8 737.2 800.8 739.8 803.2 741.8 805.8 741.8 806.2 742.2 808.8 742.2 809.2 741.8 812.8 741.2 814.8 740.2 816.2 740.2 832.2 732.8 834.8 730.8 838.2 729.2 840.8 727.2 845.8 724.8 849.8 721.8 850.8 721.8 853.8 719.2 854.8 719.2 859.8 716.2 865.8 711.8 867.8 711.2 870.2 708.8 872.2 708.2 875.8 705.2 877.8 704.8 881.8 701.2 885.2 699.8 889.2 696.2 892.8 694.8 896.8 691.2 900.2 689.8 904.2 686.2 907.2 685.2 911.8 681.2 916.8 678.8 917.2 677.8 916.8 671.2 916.2 670.8 916.2 668.8 915.8 668.2 915.8 666.2 915.2 665.8 915.2 663.8 914.2 661.2 914.2 659.2 913.8 658.8 913.8 656.8 913.2 656.2 912.2 650.8 908.8 640.2 906.8 636.2Z"/><path fill="#ff4800" d="M906.8 636.2 904.8 634.2 902.8 633.2 900.2 633.2 899.2 633.8 873.8 655.2 865.2 661.8 849.8 675.2 837.2 688.2 815.8 713.8 805.2 729.2 803.8 732.2 803.8 734.8 804.2 735.8 805.8 736.8 811.2 736.8 818.2 734.8 826.2 730.8 829.8 729.8 832.8 727.2 839.2 724.2 847.8 718.8 850.2 717.8 852.8 715.8 853.8 715.8 866.2 707.2 868.8 706.2 871.8 703.8 874.2 702.8 876.2 700.8 880.2 698.8 883.8 695.8 885.8 695.2 891.2 690.8 893.2 690.2 897.8 686.2 900.8 685.2 905.2 681.2 908.2 680.2 912.8 676.2 915.8 675.2 916.8 674.2 916.8 671.2 916.2 670.8 915.2 663.8 914.2 661.2 913.8 656.8 909.8 642.8Z"/><path fill="#ff3200" d="M906.8 636.2 904.8 634.2 902.8 633.2 900.2 633.2 899.2 633.8 873.8 655.2 865.2 661.8 849.8 675.2 837.2 688.2 815.8 713.8 808.2 724.8 806.8 728.2 807.2 730.2 808.8 731.2 813.2 731.2 817.2 729.8 820.8 729.2 823.8 727.2 830.8 724.8 833.8 722.2 840.2 719.2 842.8 717.2 847.2 715.2 853.2 711.2 855.8 710.2 858.8 707.8 859.8 707.8 862.2 706.2 865.2 703.8 872.8 699.2 874.2 697.8 876.8 696.8 879.8 694.2 882.2 693.2 885.8 690.2 889.8 688.2 893.2 685.2 895.8 684.2 899.8 680.8 901.8 680.2 905.2 677.2 907.8 675.8 908.8 675.8 912.8 672.2 916.2 670.2 916.2 668.8 915.8 668.2 915.8 666.2 915.2 665.8 915.2 663.8 914.2 661.2 914.2 659.2 913.8 658.8 913.8 656.8 913.2 656.2 912.2 650.8 910.2 645.8 909.8 642.8Z"/><path fill="#ff1b00" d="M906.8 636.2 904.8 634.2 902.8 633.2 900.2 633.2 899.2 633.8 873.8 655.2 865.2 661.8 849.8 675.2 837.2 688.2 815.8 713.8 810.8 721.8 810.8 724.2 812.2 725.2 816.2 725.2 821.2 723.8 824.2 722.2 825.8 722.2 831.2 719.2 833.2 718.8 835.8 716.8 837.8 716.2 845.2 711.2 848.2 710.2 850.8 708.2 858.2 704.2 861.2 701.8 862.2 701.8 867.8 697.8 876.2 692.8 877.8 691.2 880.2 690.2 883.8 687.2 886.2 686.2 889.8 683.2 893.8 681.2 895.8 679.2 899.8 677.2 901.8 675.2 905.2 673.8 909.2 670.2 911.2 669.8 914.8 667.2 915.2 666.2 915.2 663.8 914.2 661.2 914.2 659.2 913.8 658.8 913.8 656.8 913.2 656.2 912.2 650.8 910.2 645.8 909.8 642.8Z"/><path fill="#ff0500" d="M906.8 636.2 904.8 634.2 902.8 633.2 900.2 633.2 899.2 633.8 854.8 670.8 843.2 681.8 821.8 706.2 815.2 714.8 814.8 717.8 815.8 718.8 820.8 718.8 829.2 715.8 831.8 714.2 832.8 714.2 835.2 712.2 850.8 704.2 853.2 702.2 860.8 698.2 864.8 695.2 867.2 694.2 871.8 690.8 877.2 687.8 878.8 686.2 881.2 685.2 883.8 682.8 887.2 681.2 889.2 679.2 891.8 678.2 895.2 675.2 897.2 674.8 899.2 672.8 903.2 670.8 905.2 668.8 909.2 666.8 914.8 662.2 913.8 658.8 913.8 656.8 909.8 642.8Z"/><path fill="#ff0012" d="M906.8 636.2 904.8 634.2 902.8 633.2 900.2 633.2 858.8 667.2 849.8 675.2 837.2 688.2 820.2 708.2 819.2 711.2 820.2 712.2 826.2 711.8 827.8 710.8 830.2 710.2 836.8 706.8 837.8 706.8 840.2 704.8 841.2 704.8 847.2 701.8 850.8 699.2 859.2 694.8 868.8 688.2 871.2 687.2 873.2 685.2 879.8 681.8 881.8 679.8 884.2 678.8 891.8 673.2 894.2 672.2 896.2 670.2 898.8 669.2 900.2 667.8 904.2 665.8 906.2 663.8 910.8 661.2 913.8 658.2 913.8 656.8 909.8 642.8Z"/><path fill="#ff002b" d="M906.8 636.2 904.8 634.2 902.8 633.2 900.2 633.2 899.2 633.8 873.8 655.2 865.2 661.8 849.8 675.2 843.2 681.8 826.2 701.2 825.2 703.8 826.2 704.8 828.8 704.8 836.2 702.2 841.8 699.2 844.8 698.2 853.8 692.8 856.8 691.8 858.2 690.2 865.8 686.2 871.8 681.8 874.2 680.8 877.2 678.2 879.8 677.2 881.8 675.2 884.2 674.2 886.2 672.2 888.8 671.2 890.2 669.8 898.8 664.8 900.2 663.2 902.8 662.2 904.8 660.2 907.2 659.2 910.2 656.8 912.8 655.8 913.2 654.8 912.8 654.2 912.2 650.8 910.2 645.8 909.8 642.8Z"/><path fill="#ff0044" d="M906.8 636.2 904.8 634.2 902.8 633.2 900.2 633.2 899.2 633.8 873.8 655.2 865.2 661.8 849.8 675.2 834.2 691.8 832.8 694.2 832.8 695.2 833.8 696.2 837.8 695.8 843.2 693.8 855.2 687.8 857.8 685.8 861.2 684.2 865.2 681.2 871.8 677.8 876.2 674.2 878.8 673.2 887.8 666.8 894.2 663.2 896.2 661.2 898.8 660.2 904.8 655.8 907.2 654.8 909.2 652.8 911.2 652.2 912.2 650.8 910.2 645.8 909.8 642.8Z"/><path fill="#ff005d" d="M906.8 636.2 904.8 634.2 902.8 633.2 900.2 633.2 899.2 633.8 854.8 670.8 843.2 681.8 840.8 684.8 840.2 686.8 841.2 687.8 842.8 687.8 849.8 685.2 852.2 683.8 853.2 683.8 855.8 681.8 858.8 680.8 861.2 678.8 863.8 677.8 865.2 676.2 875.8 670.2 881.2 666.2 882.8 665.8 893.8 658.2 896.2 657.2 900.8 653.8 909.2 648.8 910.8 647.2 909.8 642.8Z"/><path fill="#ff0076" d="M906.8 636.2 904.8 634.2 902.8 633.2 900.2 633.2 899.2 633.8 854.8 670.8 850.2 675.2 849.8 677.2 850.2 677.8 853.2 677.2 866.2 670.8 908.8 644.2 909.8 642.8Z"/><path fill="#ff008e" d="M906.8 636.2 904.8 634.2 902.8 633.2 900.2 633.2 869.8 658.2 867.2 661.2 867.2 662.2 869.8 661.8 878.8 657.2 879.8 656.2 883.2 654.8 907.2 640.2 907.8 639.2Z"/><path fill="#ff00a7" d="M904.8 634.2 902.8 633.2 900.2 633.2 896.2 636.2 892.2 640.8 892.8 641.2 895.2 640.8 904.8 635.8Z"/></g><rect x="557" y="867.95" width="25" height="3.45" fill="#b500ff" shape-rendering="crispEdges"/><rect x="557" y="864.81" width="25" height="3.45" fill="#a200ff" shape-rendering="crispEdges"/><rect x="557" y="861.66" width="25" height="3.45" fill="#8f00ff" shape-rendering="crispEdges"/><rect x="557" y="858.52" width="25" height="3.45" fill="#7c00ff" shape-rendering="crispEdges"/><rect x="557" y="855.37" width="25" height="3.45" fill="#6900ff" shape-rendering="crispEdges"/><rect x="557" y="852.23" width="25" height="3.45" fill="#5500ff" shape-rendering="crispEdges"/><rect x="557" y="849.08" width="25" height="3.45" fill="#4200ff" shape-rendering="crispEdges"/><rect x="557" y="845.94" width="25" height="3.45" fill="#2e00ff" shape-rendering="crispEdges"/><rect x="557" y="842.79" width="25" height="3.45" fill="#1a00ff" shape-rendering="crispEdges"/><rect x="557" y="839.65" width="25" height="3.45" fill="#0600ff" shape-rendering="crispEdges"/><rect x="557" y="836.50" width="25" height="3.45" fill="#000cff" shape-rendering="crispEdges"/><rect x="557" y="833.36" width="25" height="3.45" fill="#001fff" shape-rendering="crispEdges"/><rect x="557" y="830.21" width="25" height="3.45" fill="#0032ff" shape-rendering="crispEdges"/><rect x="557" y="827.07" width="25" height="3.45" fill="#0044ff" shape-rendering="crispEdges"/><rect x="557" y="823.92" width="25" height="3.45" fill="#0057ff" shape-rendering="crispEdges"/><rect x="557" y="820.77" width="25" height="3.45" fill="#006aff" shape-rendering="crispEdges"/><rect x="557" y="817.63" width="25" height="3.45" fill="#007cff" shape-rendering="crispEdges"/><rect x="557" y="814.48" width="25" height="3.45" fill="#0095ff" shape-rendering="crispEdges"/><rect x="557" y="811.34" width="25" height="3.45" fill="#00afff" shape-rendering="crispEdges"/><rect x="557" y="808.19" width="25" height="3.45" fill="#00c8ff" shape-rendering="crispEdges"/><rect x="557" y="805.05" width="25" height="3.45" fill="#00e2ff" shape-rendering="crispEdges"/><rect x="557" y="801.90" width="25" height="3.45" fill="#00feff" shape-rendering="crispEdges"/><rect x="557" y="798.76" width="25" height="3.45" fill="#00ffe0" shape-rendering="crispEdges"/><rect x="557" y="795.61" width="25" height="3.45" fill="#00ffc1" shape-rendering="crispEdges"/><rect x="557" y="792.47" width="25" height="3.45" fill="#00ffa1" shape-rendering="crispEdges"/><rect x="557" y="789.32" width="25" height="3.45" fill="#00ff82" shape-rendering="crispEdges"/><rect x="557" y="786.18" width="25" height="3.45" fill="#00ff6d" shape-rendering="crispEdges"/><rect x="557" y="783.03" width="25" height="3.45" fill="#00ff59" shape-rendering="crispEdges"/><rect x="557" y="779.89" width="25" height="3.45" fill="#00ff45" shape-rendering="crispEdges"/><rect x="557" y="776.74" width="25" height="3.45" fill="#00ff31" shape-rendering="crispEdges"/><rect x="557" y="773.60" width="25" height="3.45" fill="#00ff1d" shape-rendering="crispEdges"/><rect x="557" y="770.45" width="25" height="3.45" fill="#00ff09" shape-rendering="crispEdges"/><rect x="557" y="767.30" width="25" height="3.45" fill="#0eff00" shape-rendering="crispEdges"/><rect x="557" y="764.16" width="25" height="3.45" fill="#2cff00" shape-rendering="crispEdges"/><rect x="557" y="761.01" width="25" height="3.45" fill="#49ff00" shape-rendering="crispEdges"/><rect x="557" y="757.87" width="25" height="3.45" fill="#67ff00" shape-rendering="crispEdges"/><rect x="557" y="754.72" width="25" height="3.45" fill="#84ff00" shape-rendering="crispEdges"/><rect x="557" y="751.58" width="25" height="3.45" fill="#a2ff00" shape-rendering="crispEdges"/><rect x="557" y="748.43" width="25" height="3.45" fill="#b5ff00" shape-rendering="crispEdges"/><rect x="557" y="745.29" width="25" height="3.45" fill="#c6ff00" shape-rendering="crispEdges"/><rect x="557" y="742.14" width="25" height="3.45" fill="#d6ff00" shape-rendering="crispEdges"/><rect x="557" y="739.00" width="25" height="3.45" fill="#e6ff00" shape-rendering="crispEdges"/><rect x="557" y="735.85" width="25" height="3.45" fill="#f6ff00" shape-rendering="crispEdges"/><rect x="557" y="732.71" width="25" height="3.45" fill="#fff200" shape-rendering="crispEdges"/><rect x="557" y="729.56" width="25" height="3.45" fill="#ffd800" shape-rendering="crispEdges"/><rect x="557" y="726.42" width="25" height="3.45" fill="#ffbf00" shape-rendering="crispEdges"/><rect x="557" y="723.27" width="25" height="3.45" fill="#ffa500" shape-rendering="crispEdges"/><rect x="557" y="720.12" width="25" height="3.45" fill="#ff8c00" shape-rendering="crispEdges"/><rect x="557" y="716.98" width="25" height="3.45" fill="#ff7400" shape-rendering="crispEdges"/><rect x="557" y="713.83" width="25" height="3.45" fill="#ff5e00" shape-rendering="crispEdges"/><rect x="557" y="710.69" width="25" height="3.45" fill="#ff4800" shape-rendering="crispEdges"/><rect x="557" y="707.54" width="25" height="3.45" fill="#ff3200" shape-rendering="crispEdges"/><rect x="557" y="704.40" width="25" height="3.45" fill="#ff1b00" shape-rendering="crispEdges"/><rect x="557" y="701.25" width="25" height="3.45" fill="#ff0500" shape-rendering="crispEdges"/><rect x="557" y="698.11" width="25" height="3.45" fill="#ff0012" shape-rendering="crispEdges"/><rect x="557" y="694.96" width="25" height="3.45" fill="#ff002b" shape-rendering="crispEdges"/><rect x="557" y="691.82" width="25" height="3.45" fill="#ff0044" shape-rendering="crispEdges"/><rect x="557" y="688.67" width="25" height="3.45" fill="#ff005d" shape-rendering="crispEdges"/><rect x="557" y="685.53" width="25" height="3.45" fill="#ff0076" shape-rendering="crispEdges"/><rect x="557" y="682.38" width="25" height="3.45" fill="#ff008e" shape-rendering="crispEdges"/><rect x="557" y="679.24" width="25" height="3.45" fill="#ff00a7" shape-rendering="crispEdges"/><rect x="557" y="676.09" width="25" height="3.45" fill="#ff00c0" shape-rendering="crispEdges"/><rect x="557" y="672.95" width="25" height="3.45" fill="#ff00d9" shape-rendering="crispEdges"/><rect x="557" y="669.80" width="25" height="3.45" fill="#ff00f2" shape-rendering="crispEdges"/><rect x="557" y="871" width="25" height="4.5" fill="#000"/><text transform="translate(569.5,668.0) scale(0.95,1)" font-size="11.5" text-anchor="middle" font-family="Liberation Sans" fill="#000">1.5</text><text transform="translate(568.5,887.5) scale(0.95,1)" font-size="11.5" text-anchor="middle" font-family="Liberation Sans" fill="#000">-0.1</text><line x1="621.5" y1="903.2" x2="835.6" y2="968.6" stroke="#000" stroke-width="1"/><line x1="621.5" y1="903.2" x2="617.0" y2="906.5" stroke="#000" stroke-width="1"/><text transform="translate(614.5,914.7) scale(0.88,1)" font-size="14" text-anchor="end" font-family="Liberation Sans" fill="#000">230</text><line x1="637.4" y1="908.0" x2="632.9" y2="911.3" stroke="#000" stroke-width="1"/><line x1="677.0" y1="920.2" x2="672.5" y2="923.5" stroke="#000" stroke-width="1"/><text transform="translate(670.0,931.7) scale(0.88,1)" font-size="14" text-anchor="end" font-family="Liberation Sans" fill="#000">300</text><line x1="716.7" y1="932.3" x2="712.2" y2="935.6" stroke="#000" stroke-width="1"/><text transform="translate(709.7,943.8) scale(0.88,1)" font-size="14" text-anchor="end" font-family="Liberation Sans" fill="#000">350</text><line x1="756.3" y1="944.4" x2="751.8" y2="947.7" stroke="#000" stroke-width="1"/><text transform="translate(749.3,955.9) scale(0.88,1)" font-size="14" text-anchor="end" font-family="Liberation Sans" fill="#000">400</text><line x1="796.0" y1="956.5" x2="791.5" y2="959.8" stroke="#000" stroke-width="1"/><text transform="translate(789.0,968.0) scale(0.88,1)" font-size="14" text-anchor="end" font-family="Liberation Sans" fill="#000">450</text><line x1="835.6" y1="968.6" x2="831.1" y2="971.9" stroke="#000" stroke-width="1"/><text transform="translate(828.6,980.1) scale(0.88,1)" font-size="14" text-anchor="end" font-family="Liberation Sans" fill="#000">500</text><text transform="translate(608.0,991.3) scale(0.955,1)" font-size="14" text-anchor="start" font-family="Liberation Sans" fill="#000">Wavelength [nm]</text><line x1="835.6" y1="968.6" x2="978.6" y2="870.5" stroke="#000" stroke-width="1"/><line x1="835.6" y1="968.6" x2="835.6" y2="975.6" stroke="#000" stroke-width="1"/><text transform="translate(835.1,986.1) scale(0.88,1)" font-size="14" text-anchor="start" font-family="Liberation Sans" fill="#000">0</text><line x1="871.4" y1="944.1" x2="871.4" y2="951.1" stroke="#000" stroke-width="1"/><text transform="translate(870.9,961.6) scale(0.88,1)" font-size="14" text-anchor="start" font-family="Liberation Sans" fill="#000">50</text><line x1="907.1" y1="919.5" x2="907.1" y2="926.5" stroke="#000" stroke-width="1"/><text transform="translate(906.6,937.0) scale(0.88,1)" font-size="14" text-anchor="start" font-family="Liberation Sans" fill="#000">100</text><line x1="942.9" y1="895.0" x2="942.9" y2="902.0" stroke="#000" stroke-width="1"/><text transform="translate(942.4,912.5) scale(0.88,1)" font-size="14" text-anchor="start" font-family="Liberation Sans" fill="#000">150</text><line x1="978.6" y1="870.5" x2="978.6" y2="877.5" stroke="#000" stroke-width="1"/><text transform="translate(978.1,888.0) scale(0.88,1)" font-size="14" text-anchor="start" font-family="Liberation Sans" fill="#000">200</text><text transform="translate(939.6,970.3) scale(0.955,1)" font-size="14" text-anchor="start" font-family="Liberation Sans" fill="#000">Time [min]</text><line x1="978.6" y1="643.0" x2="978.6" y2="878.0" stroke="#000" stroke-width="1"/><line x1="978.6" y1="643.5" x2="988.0" y2="643.5" stroke="#000" stroke-width="1"/><text transform="translate(990.5,648.5) scale(0.88,1)" font-size="14" text-anchor="start" font-family="Liberation Sans" fill="#000">1.5</text><line x1="978.6" y1="714.3" x2="988.0" y2="714.3" stroke="#000" stroke-width="1"/><text transform="translate(990.5,719.3) scale(0.88,1)" font-size="14" text-anchor="start" font-family="Liberation Sans" fill="#000">1</text><line x1="978.6" y1="785.1" x2="988.0" y2="785.1" stroke="#000" stroke-width="1"/><text transform="translate(990.5,790.1) scale(0.88,1)" font-size="14" text-anchor="start" font-family="Liberation Sans" fill="#000">0.5</text><line x1="978.6" y1="856.0" x2="988.0" y2="856.0" stroke="#000" stroke-width="1"/><line x1="978.6" y1="870.2" x2="988.0" y2="870.2" stroke="#000" stroke-width="1"/><text transform="translate(990.5,875.2) scale(0.88,1)" font-size="14" text-anchor="start" font-family="Liberation Sans" fill="#000">-0.1</text><text transform="translate(1016.0,763.0) scale(0.95,1)" font-size="14" text-anchor="start" font-family="Liberation Sans" fill="#000">Abs</text></svg>
</body></html>
